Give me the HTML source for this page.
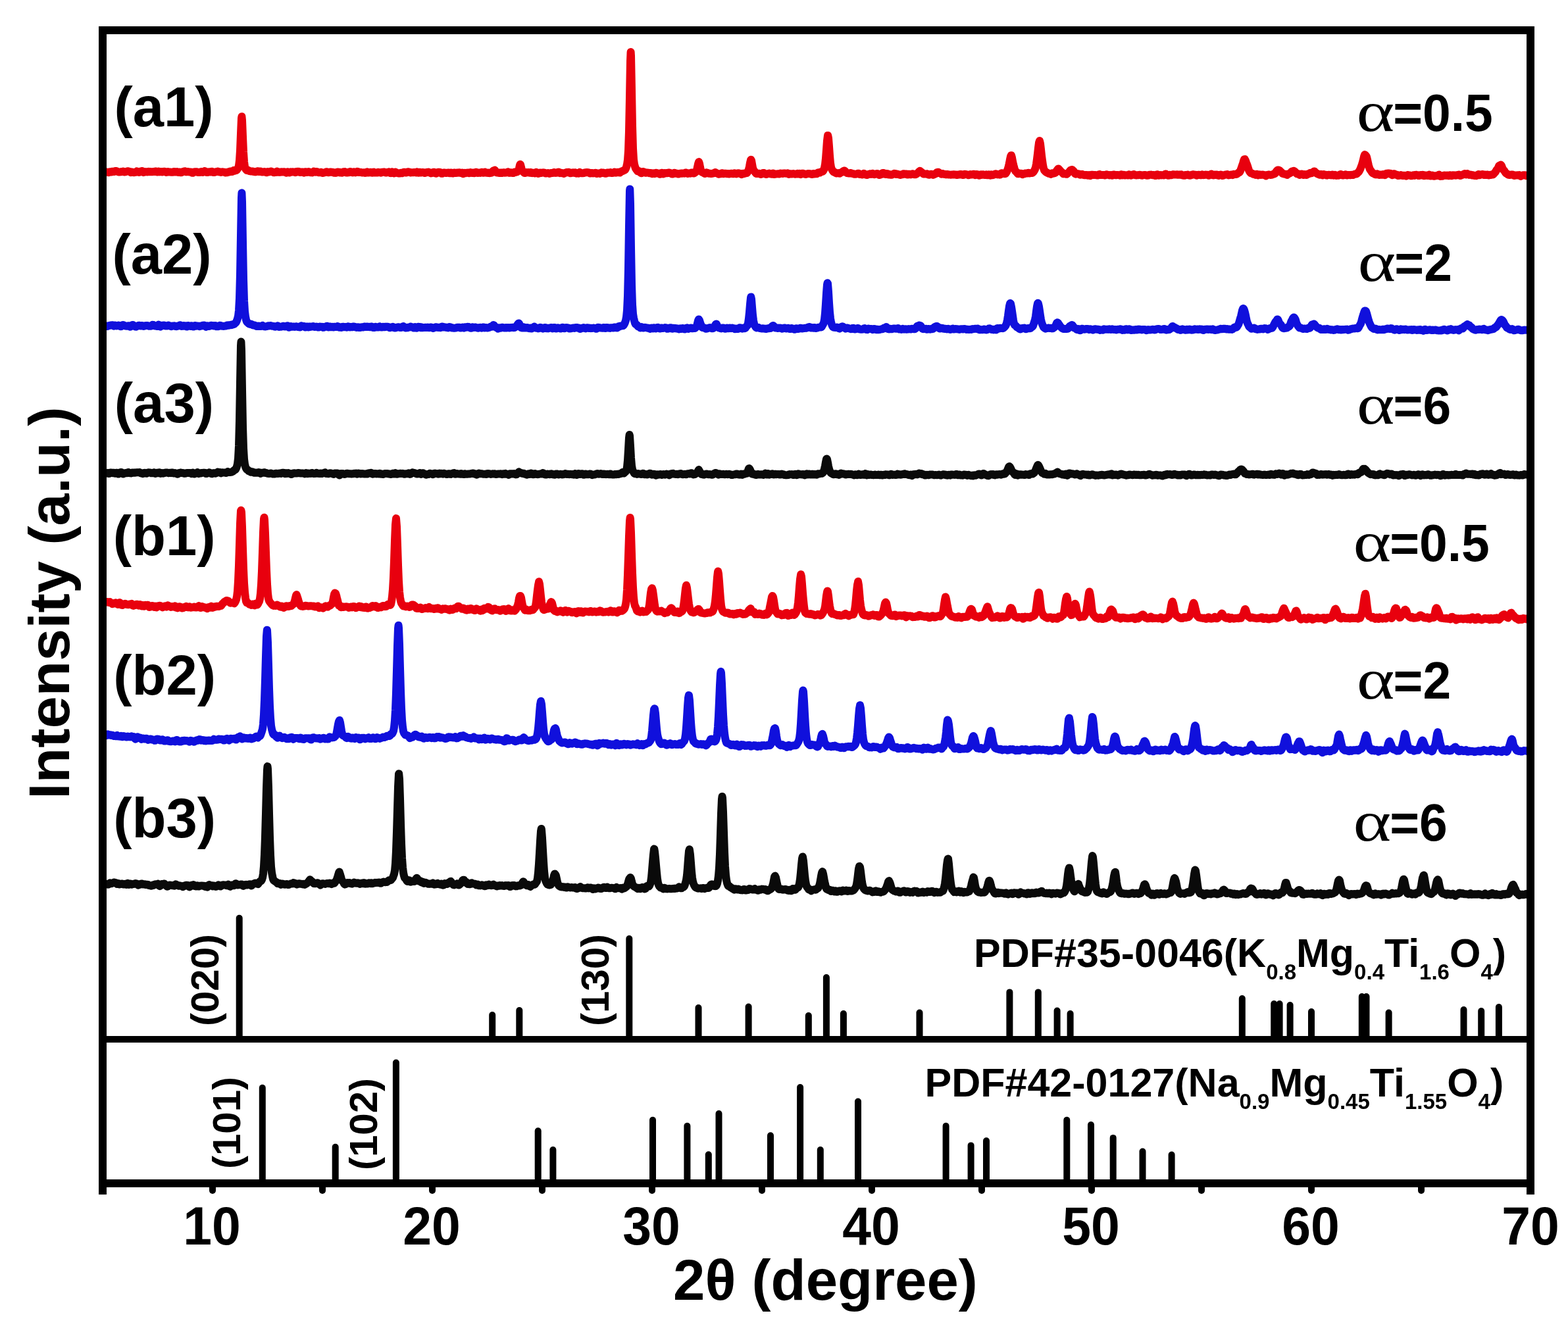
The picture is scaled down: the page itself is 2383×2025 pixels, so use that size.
<!DOCTYPE html>
<html><head><meta charset="utf-8"><title>XRD patterns</title>
<style>
html,body{margin:0;padding:0;background:#fff;}
svg{display:block;}
.t{font-family:'Liberation Sans', Arial, Helvetica, sans-serif;font-weight:bold;fill:#000;}
.g{font-family:'Liberation Serif', 'Times New Roman', serif;font-weight:normal;fill:#000;}
</style></head><body>

<svg width="2383" height="2025" viewBox="0 0 2383 2025">
<rect x="0" y="0" width="2383" height="2025" fill="#fff"/>
<polyline fill="none" stroke="#e8000e" stroke-width="12.0" stroke-linejoin="round" stroke-linecap="butt" points="156,260.5 157,261.0 158,261.5 159,261.2 160,260.9 161,261.4 162,261.7 163,261.7 164,261.8 165,262.2 166,262.1 167,261.3 168,261.3 169,261.5 170,260.9 171,260.7 172,260.8 173,261.0 174,260.8 175,260.1 176,259.9 177,260.1 178,260.5 179,261.0 180,261.5 181,261.5 182,261.6 183,261.3 184,261.1 185,261.2 186,260.8 187,260.6 188,261.1 189,261.4 190,261.4 191,261.2 192,260.8 193,260.6 194,260.3 195,260.3 196,260.7 197,260.9 198,261.4 199,262.2 200,261.7 201,261.5 202,261.9 203,262.3 204,262.1 205,261.7 206,261.8 207,261.2 208,260.4 209,260.7 210,261.6 211,262.0 212,261.7 213,260.9 214,260.5 215,260.1 216,260.0 217,261.1 218,262.1 219,261.8 220,261.3 221,261.4 222,261.2 223,261.4 224,261.5 225,261.0 226,260.8 227,261.2 228,261.1 229,261.0 230,261.3 231,261.3 232,261.1 233,261.0 234,261.1 235,260.9 236,260.4 237,260.5 238,261.3 239,261.6 240,261.1 241,260.6 242,260.8 243,261.4 244,261.3 245,260.9 246,261.3 247,261.5 248,261.0 249,260.8 250,260.8 251,261.1 252,261.7 253,262.0 254,261.5 255,261.1 256,261.4 257,261.6 258,261.6 259,261.5 260,261.8 261,261.7 262,261.6 263,261.7 264,261.2 265,261.0 266,261.4 267,261.4 268,261.2 269,261.1 270,261.3 271,262.1 272,262.1 273,261.5 274,261.8 275,262.3 276,262.1 277,261.5 278,261.0 279,260.9 280,260.5 281,260.3 282,261.0 283,261.4 284,261.3 285,261.0 286,260.9 287,261.4 288,261.5 289,261.5 290,261.5 291,261.8 292,262.7 293,262.8 294,262.2 295,261.5 296,261.2 297,261.3 298,261.2 299,261.3 300,261.8 301,262.1 302,261.9 303,261.8 304,262.0 305,261.5 306,261.0 307,261.3 308,261.9 309,261.6 310,260.7 311,260.1 312,260.5 313,261.4 314,262.1 315,262.1 316,261.5 317,261.7 318,261.5 319,261.2 320,261.6 321,261.1 322,260.8 323,261.6 324,262.0 325,262.1 326,262.0 327,261.6 328,261.2 329,261.1 330,261.0 331,260.6 332,261.0 333,261.4 334,261.2 335,261.6 336,261.9 337,261.5 338,261.3 339,261.6 340,261.6 341,261.7 342,262.4 343,262.6 344,262.3 345,262.3 346,261.7 347,261.3 348,261.5 349,260.9 350,260.4 351,260.5 352,260.8 353,261.0 354,260.0 355,259.2 356,259.8 357,259.6 358,258.8 359,259.0 360,258.2 361,256.8 362,255.2 363,251.7 364,244.1 365,228.4 366,203.3 367,179.7 367.42,177.2 368,182.9 369,207.9 370,231.1 371,245.7 372,253.4 373,256.4 374,257.8 375,258.9 376,258.8 377,258.7 378,259.4 379,260.1 380,260.2 381,260.4 382,260.6 383,260.4 384,260.5 385,261.0 386,261.0 387,261.0 388,261.4 389,261.3 390,260.7 391,260.4 392,260.2 393,260.5 394,261.1 395,261.0 396,260.6 397,260.9 398,261.6 399,261.6 400,261.4 401,261.3 402,261.1 403,261.5 404,262.0 405,262.3 406,261.8 407,261.1 408,261.2 409,261.4 410,261.2 411,260.6 412,260.5 413,261.2 414,261.4 415,261.5 416,262.3 417,262.2 418,262.0 419,262.1 420,261.2 421,260.6 422,261.2 423,261.8 424,261.7 425,261.9 426,261.8 427,261.5 428,261.3 429,261.4 430,261.6 431,261.2 432,261.2 433,261.7 434,262.1 435,262.7 436,262.4 437,261.3 438,261.4 439,262.2 440,262.5 441,261.8 442,261.3 443,261.5 444,261.4 445,261.3 446,261.5 447,261.4 448,261.6 449,262.3 450,261.9 451,261.0 452,260.8 453,261.0 454,260.8 455,261.2 456,262.0 457,261.8 458,261.5 459,261.6 460,261.6 461,262.1 462,262.6 463,262.1 464,261.3 465,261.3 466,261.8 467,262.0 468,261.6 469,261.1 470,261.3 471,261.9 472,262.2 473,262.0 474,262.1 475,262.4 476,261.7 477,260.6 478,260.8 479,261.6 480,261.7 481,261.0 482,261.1 483,261.8 484,262.2 485,262.3 486,262.3 487,261.9 488,261.8 489,262.5 490,263.0 491,263.0 492,262.6 493,262.2 494,262.2 495,261.8 496,261.2 497,261.4 498,261.9 499,262.2 500,262.2 501,261.8 502,261.4 503,261.4 504,261.7 505,261.8 506,262.0 507,262.7 508,262.7 509,262.5 510,262.9 511,262.8 512,262.0 513,261.4 514,261.6 515,261.8 516,261.7 517,262.5 518,262.6 519,262.4 520,262.7 521,262.2 522,261.3 523,261.2 524,261.1 525,261.6 526,262.6 527,262.4 528,262.1 529,262.4 530,262.3 531,261.6 532,260.9 533,261.1 534,261.9 535,262.3 536,262.4 537,261.9 538,261.2 539,261.7 540,262.4 541,262.2 542,261.6 543,260.9 544,261.3 545,261.9 546,261.6 547,262.0 548,261.9 549,262.0 550,262.5 551,262.4 552,262.4 553,262.3 554,262.4 555,262.9 556,262.8 557,261.8 558,261.4 559,262.3 560,262.6 561,262.4 562,262.0 563,261.8 564,262.1 565,262.6 566,262.7 567,261.7 568,261.6 569,262.3 570,262.5 571,262.4 572,262.5 573,262.6 574,262.1 575,261.8 576,262.2 577,262.2 578,262.1 579,262.7 580,262.3 581,261.8 582,261.7 583,261.4 584,261.5 585,262.0 586,262.5 587,262.6 588,262.1 589,262.1 590,261.9 591,261.4 592,262.0 593,263.0 594,263.2 595,262.2 596,261.4 597,261.9 598,263.1 599,263.4 600,262.3 601,261.6 602,262.2 603,262.9 604,262.9 605,263.2 606,263.5 607,263.5 608,263.3 609,262.8 610,263.0 611,263.3 612,262.7 613,262.1 614,261.8 615,261.7 616,262.1 617,262.6 618,262.4 619,261.7 620,261.2 621,261.2 622,261.6 623,262.1 624,262.4 625,262.4 626,262.3 627,262.3 628,262.2 629,261.9 630,261.9 631,262.2 632,262.4 633,262.1 634,261.4 635,261.7 636,262.8 637,262.5 638,261.7 639,262.0 640,262.5 641,262.4 642,262.0 643,261.9 644,262.4 645,262.9 646,262.9 647,262.3 648,262.1 649,262.2 650,261.7 651,261.6 652,261.9 653,262.2 654,262.9 655,263.4 656,263.3 657,262.9 658,262.2 659,261.7 660,261.9 661,262.5 662,263.6 663,263.7 664,263.1 665,262.3 666,261.7 667,261.8 668,261.9 669,262.0 670,262.9 671,263.8 672,263.7 673,262.9 674,262.5 675,262.5 676,262.5 677,263.0 678,263.0 679,262.8 680,262.7 681,262.4 682,262.6 683,263.3 684,263.3 685,262.5 686,262.5 687,263.4 688,263.5 689,262.9 690,262.5 691,262.7 692,263.0 693,263.1 694,262.8 695,262.4 696,262.7 697,262.6 698,262.3 699,262.6 700,262.9 701,262.7 702,262.6 703,263.4 704,264.2 705,263.5 706,262.9 707,263.3 708,263.1 709,262.8 710,262.7 711,262.4 712,263.0 713,263.3 714,262.4 715,262.0 716,262.5 717,262.9 718,262.6 719,262.5 720,263.0 721,263.3 722,262.9 723,261.9 724,261.7 725,262.6 726,263.0 727,262.7 728,262.4 729,262.7 730,262.9 731,262.2 732,261.8 733,262.1 734,262.8 735,262.7 736,261.8 737,261.6 738,262.3 739,262.6 740,262.8 741,262.9 742,262.5 743,263.0 744,263.2 745,262.7 746,262.9 747,262.8 748,261.4 749,260.3 750,259.4 751,259.2 751.52,259.3 752,258.6 753,260.3 754,262.2 755,262.3 756,262.5 757,262.7 758,262.6 759,262.9 760,262.9 761,262.5 762,262.7 763,263.1 764,262.8 765,262.2 766,262.3 767,262.7 768,262.6 769,262.3 770,262.4 771,261.9 772,261.4 773,262.1 774,262.9 775,262.8 776,262.2 777,262.4 778,262.9 779,263.0 780,263.1 781,262.6 782,261.6 783,261.7 784,261.8 785,261.2 786,261.2 787,260.4 788,258.5 789,255.6 790,251.1 790.60,249.7 791,250.3 792,254.1 793,258.1 794,259.9 795,260.6 796,262.1 797,263.1 798,263.0 799,262.5 800,262.1 801,262.4 802,262.3 803,262.0 804,262.6 805,262.7 806,262.1 807,262.1 808,263.0 809,263.2 810,262.8 811,262.7 812,263.1 813,263.4 814,262.8 815,261.8 816,262.3 817,263.5 818,264.0 819,263.6 820,262.8 821,262.5 822,262.9 823,262.9 824,262.5 825,262.5 826,262.6 827,262.4 828,262.9 829,263.6 830,263.5 831,263.4 832,263.3 833,263.1 834,263.5 835,264.0 836,263.6 837,263.1 838,262.9 839,263.0 840,263.1 841,262.4 842,262.1 843,262.8 844,262.9 845,262.5 846,262.7 847,262.6 848,261.7 849,261.6 850,262.6 851,263.2 852,263.0 853,262.7 854,263.2 855,263.3 856,263.6 857,263.9 858,263.3 859,262.7 860,262.4 861,262.1 862,262.2 863,262.0 864,261.7 865,262.0 866,262.8 867,263.3 868,263.3 869,262.9 870,262.5 871,262.3 872,262.7 873,262.9 874,262.4 875,263.2 876,263.7 877,263.0 878,263.3 879,263.7 880,262.9 881,261.9 882,262.5 883,263.2 884,263.1 885,263.2 886,263.2 887,263.1 888,262.7 889,262.5 890,262.2 891,262.1 892,262.3 893,262.1 894,262.2 895,262.5 896,263.2 897,263.6 898,263.2 899,262.9 900,263.1 901,263.5 902,263.4 903,263.2 904,263.2 905,262.7 906,263.2 907,264.0 908,263.7 909,263.5 910,263.4 911,263.6 912,263.9 913,263.1 914,262.2 915,262.6 916,262.9 917,262.6 918,262.8 919,263.5 920,263.8 921,263.8 922,263.1 923,262.4 924,262.4 925,262.6 926,262.8 927,262.7 928,262.1 929,262.6 930,263.1 931,262.7 932,262.7 933,262.4 934,261.6 935,262.0 936,262.7 937,262.3 938,262.1 939,261.9 940,261.7 941,262.4 942,262.5 943,261.9 944,261.1 945,260.3 946,260.2 947,259.8 948,259.0 949,258.8 950,258.1 951,256.4 952,253.8 953,249.8 954,243.1 955,229.2 956,199.6 957,149.1 958,93.0 958.60,79.0 959,85.0 960,136.6 961,191.3 962,225.9 963,242.6 964,249.5 965,253.3 966,256.1 967,257.5 968,258.8 969,260.2 970,260.5 971,260.1 972,260.6 973,261.8 974,262.9 975,263.2 976,262.0 977,261.0 978,261.2 979,261.6 980,262.2 981,262.7 982,262.8 983,262.5 984,262.4 985,262.7 986,262.9 987,263.2 988,262.9 989,262.9 990,263.7 991,264.2 992,263.9 993,263.3 994,263.7 995,264.1 996,263.4 997,262.8 998,263.1 999,263.5 1000,263.5 1001,263.6 1002,264.2 1003,264.8 1004,264.3 1005,262.9 1006,262.8 1007,264.1 1008,264.4 1009,263.3 1010,263.0 1011,263.6 1012,263.3 1013,262.9 1014,263.2 1015,263.1 1016,262.5 1017,262.5 1018,263.2 1019,263.1 1020,263.3 1021,264.4 1022,264.6 1023,264.1 1024,263.4 1025,262.7 1026,263.2 1027,263.8 1028,263.7 1029,263.8 1030,264.2 1031,264.6 1032,264.2 1033,263.8 1034,263.8 1035,263.6 1036,263.6 1037,263.7 1038,263.5 1039,263.5 1040,263.7 1041,263.2 1042,262.5 1043,262.7 1044,263.5 1045,264.0 1046,263.7 1047,263.3 1048,263.5 1049,263.7 1050,263.2 1051,262.4 1052,262.4 1053,262.9 1054,263.6 1055,263.4 1056,262.6 1057,261.9 1058,260.8 1059,258.3 1060,254.1 1061,249.2 1062,246.3 1062.14,246.1 1063,248.6 1064,254.2 1065,258.3 1066,260.7 1067,261.9 1068,262.1 1069,262.4 1070,263.3 1071,263.9 1072,263.9 1073,263.2 1074,262.4 1075,262.7 1076,263.3 1077,263.7 1078,263.6 1079,263.9 1080,264.0 1081,263.9 1082,263.9 1083,263.7 1084,263.4 1085,263.3 1086,262.5 1087,262.0 1087.86,262.4 1088,262.7 1089,263.2 1090,263.6 1091,264.0 1092,264.7 1093,264.8 1094,264.4 1095,264.3 1096,264.1 1097,263.4 1098,263.2 1099,264.1 1100,264.3 1101,263.9 1102,263.7 1103,263.8 1104,264.1 1105,264.2 1106,264.0 1107,264.2 1108,264.5 1109,264.2 1110,264.0 1111,263.8 1112,263.7 1113,264.0 1114,264.3 1115,263.7 1116,263.3 1117,263.6 1118,264.0 1119,264.4 1120,264.2 1121,263.5 1122,263.2 1123,263.5 1124,263.7 1125,263.7 1126,264.5 1127,265.1 1128,264.1 1129,263.7 1130,264.2 1131,264.1 1132,263.5 1133,263.1 1134,263.2 1135,263.1 1136,261.9 1137,260.0 1138,257.3 1139,253.0 1140,247.4 1141,243.3 1141.30,242.7 1142,243.9 1143,249.6 1144,255.0 1145,258.1 1146,259.6 1147,260.7 1148,262.4 1149,263.7 1150,264.1 1151,264.1 1152,264.1 1153,263.8 1154,263.8 1155,264.3 1156,264.9 1157,264.9 1158,264.1 1159,263.3 1160,262.9 1161,263.0 1162,263.9 1163,264.5 1164,264.9 1165,264.9 1166,264.4 1167,264.3 1168,263.9 1169,263.5 1170,264.0 1171,264.4 1172,264.6 1173,264.7 1174,263.8 1175,263.5 1176,264.5 1177,265.1 1178,264.8 1179,264.4 1180,264.4 1181,264.4 1182,264.3 1183,264.4 1184,264.6 1185,264.0 1186,263.5 1187,263.8 1188,263.7 1189,263.8 1190,264.0 1191,263.6 1192,263.4 1193,263.5 1194,263.6 1195,263.8 1196,263.7 1197,263.3 1198,263.8 1199,264.9 1200,264.7 1201,264.2 1202,264.4 1203,264.5 1204,264.3 1205,264.1 1206,264.0 1207,264.4 1208,264.8 1209,264.6 1210,264.5 1211,264.2 1212,263.8 1213,264.4 1214,264.2 1215,263.8 1216,264.7 1217,265.1 1218,264.4 1219,263.8 1220,263.7 1221,263.9 1222,264.2 1223,264.7 1224,264.9 1225,264.9 1226,264.5 1227,264.1 1228,264.0 1229,263.9 1230,264.1 1231,264.3 1232,264.2 1233,264.6 1234,265.1 1235,264.7 1236,264.1 1237,264.1 1238,264.5 1239,264.4 1240,264.2 1241,264.3 1242,263.8 1243,262.7 1244,262.2 1245,262.4 1246,262.5 1247,261.9 1248,261.2 1249,261.1 1250,260.8 1251,260.0 1252,258.3 1253,255.2 1254,249.8 1255,240.7 1256,227.8 1257,213.9 1258,206.1 1258.20,206.1 1259,209.9 1260,222.7 1261,237.0 1262,248.0 1263,254.3 1264,257.1 1265,258.9 1266,260.4 1267,261.5 1268,261.8 1269,261.9 1270,263.0 1271,263.5 1272,263.2 1273,263.2 1274,263.1 1275,263.5 1276,263.7 1277,262.9 1278,262.4 1279,262.1 1280,261.5 1281,260.7 1282,260.0 1282.92,259.8 1283,259.4 1284,259.9 1285,261.1 1286,262.2 1287,262.9 1288,263.2 1289,263.4 1290,263.5 1291,263.5 1292,263.2 1293,263.0 1294,263.5 1295,263.8 1296,263.9 1297,264.2 1298,264.7 1299,264.6 1300,264.7 1301,264.8 1302,264.4 1303,264.1 1304,263.8 1305,263.7 1306,264.5 1307,265.1 1308,264.9 1309,264.9 1310,265.4 1311,265.4 1312,264.6 1313,263.8 1314,264.2 1315,265.3 1316,265.7 1317,265.9 1318,265.9 1319,265.3 1320,265.0 1321,264.8 1322,264.3 1323,264.4 1324,264.9 1325,264.8 1326,263.8 1327,263.9 1328,265.1 1329,265.2 1330,264.6 1331,264.5 1332,264.3 1333,263.9 1334,264.3 1335,265.3 1336,265.9 1337,265.9 1338,265.7 1339,265.2 1340,264.2 1341,263.3 1342,262.9 1343,263.1 1344,263.8 1345,264.9 1346,265.0 1347,264.0 1348,264.0 1349,265.2 1350,265.4 1351,264.7 1352,265.1 1353,265.7 1354,265.7 1355,265.7 1356,265.4 1357,265.0 1358,264.3 1359,263.8 1360,264.0 1361,264.6 1362,264.9 1363,264.5 1364,264.6 1365,265.1 1366,265.2 1367,265.6 1368,266.0 1369,265.7 1370,265.2 1371,265.3 1372,265.1 1373,264.3 1374,264.3 1375,264.6 1376,264.7 1377,264.4 1378,264.6 1379,265.5 1380,265.5 1381,264.8 1382,264.7 1383,265.3 1384,265.4 1385,264.9 1386,264.4 1387,264.3 1388,264.6 1389,265.1 1390,265.3 1391,265.3 1392,265.1 1393,264.4 1394,263.7 1395,262.9 1396,261.8 1397,260.6 1398,259.9 1398.48,260.1 1399,260.7 1400,261.5 1401,262.1 1402,263.1 1403,264.1 1404,264.6 1405,264.6 1406,264.6 1407,264.6 1408,264.4 1409,264.3 1410,264.9 1411,265.6 1412,265.7 1413,265.4 1414,264.9 1415,264.8 1416,264.8 1417,265.2 1418,265.9 1419,265.5 1420,264.6 1421,264.5 1422,264.2 1423,263.1 1424,262.1 1425,261.7 1425.20,261.8 1426,261.7 1427,262.5 1428,263.3 1429,263.4 1430,263.9 1431,264.7 1432,264.6 1433,264.1 1434,264.6 1435,265.0 1436,265.0 1437,265.2 1438,265.4 1439,265.3 1440,265.0 1441,265.1 1442,265.6 1443,265.6 1444,265.6 1445,265.7 1446,265.6 1447,265.6 1448,265.5 1449,265.2 1450,265.2 1451,265.5 1452,265.5 1453,265.4 1454,266.0 1455,266.1 1456,265.4 1457,265.5 1458,265.6 1459,265.0 1460,265.0 1461,265.2 1462,265.4 1463,266.1 1464,266.1 1465,265.2 1466,264.8 1467,264.9 1468,265.1 1469,265.3 1470,265.4 1471,265.8 1472,266.3 1473,266.0 1474,265.4 1475,265.1 1476,265.2 1477,265.4 1478,265.1 1479,264.7 1480,264.7 1481,265.5 1482,266.2 1483,265.5 1484,265.0 1485,265.1 1486,265.4 1487,266.1 1488,266.8 1489,266.5 1490,265.6 1491,265.3 1492,265.9 1493,265.8 1494,265.3 1495,265.4 1496,265.8 1497,266.0 1498,265.7 1499,265.3 1500,265.7 1501,266.3 1502,265.8 1503,265.2 1504,265.6 1505,266.6 1506,266.2 1507,265.4 1508,265.7 1509,266.2 1510,265.8 1511,265.2 1512,264.7 1513,264.3 1514,264.6 1515,265.2 1516,265.4 1517,265.0 1518,265.0 1519,265.7 1520,265.5 1521,264.2 1522,263.2 1523,263.2 1524,263.9 1525,264.0 1526,264.0 1527,264.2 1528,264.1 1529,263.0 1530,261.3 1531,258.9 1532,255.9 1533,252.4 1534,247.8 1535,242.3 1536,237.7 1536.76,236.2 1537,236.2 1538,239.7 1539,245.3 1540,249.9 1541,253.9 1542,257.4 1543,259.8 1544,261.0 1545,261.7 1546,263.0 1547,264.3 1548,264.1 1549,263.5 1550,263.6 1551,263.9 1552,263.8 1553,264.1 1554,265.2 1555,264.8 1556,264.4 1557,264.3 1558,263.6 1559,263.6 1560,263.6 1561,263.6 1562,263.2 1563,262.7 1564,263.2 1565,263.5 1566,263.1 1567,263.0 1568,263.1 1569,262.9 1570,262.0 1571,260.9 1572,259.3 1573,257.3 1574,254.3 1575,249.1 1576,241.9 1577,233.8 1578,224.7 1579,216.9 1579.84,214.4 1580,214.1 1581,218.3 1582,227.2 1583,236.4 1584,244.1 1585,250.8 1586,255.9 1587,258.8 1588,260.0 1589,261.0 1590,261.9 1591,262.4 1592,262.9 1593,263.3 1594,263.8 1595,263.8 1596,264.1 1597,264.9 1598,264.3 1599,263.3 1600,263.6 1601,263.8 1602,263.4 1603,263.2 1604,262.6 1605,261.1 1606,259.4 1607,258.0 1608,256.8 1608.90,256.5 1609,257.0 1610,258.0 1611,259.1 1612,260.2 1613,261.3 1614,262.0 1615,263.1 1616,264.4 1617,264.3 1618,263.9 1619,264.2 1620,264.6 1621,264.8 1622,264.2 1623,263.0 1624,262.1 1625,261.2 1626,259.8 1627,258.8 1628,258.5 1628.94,258.3 1629,257.9 1630,258.5 1631,259.6 1632,260.6 1633,262.3 1634,264.2 1635,264.7 1636,264.2 1637,264.3 1638,264.4 1639,264.2 1640,264.6 1641,265.4 1642,265.7 1643,265.3 1644,264.9 1645,265.0 1646,265.5 1647,266.1 1648,266.2 1649,266.0 1650,266.2 1651,266.0 1652,266.2 1653,266.7 1654,266.4 1655,266.0 1656,266.5 1657,267.1 1658,266.5 1659,265.8 1660,265.7 1661,265.9 1662,266.1 1663,266.1 1664,265.9 1665,266.1 1666,266.2 1667,266.3 1668,266.5 1669,266.3 1670,265.4 1671,265.0 1672,265.7 1673,266.1 1674,265.9 1675,266.1 1676,265.9 1677,265.9 1678,266.1 1679,266.4 1680,266.4 1681,265.6 1682,265.3 1683,265.7 1684,265.9 1685,266.0 1686,266.5 1687,266.4 1688,266.0 1689,266.1 1690,266.7 1691,266.4 1692,265.4 1693,265.5 1694,265.8 1695,266.1 1696,266.3 1697,266.2 1698,266.0 1699,266.0 1700,266.1 1701,266.2 1702,266.7 1703,266.5 1704,265.3 1705,265.4 1706,266.4 1707,266.2 1708,265.8 1709,266.3 1710,266.5 1711,266.4 1712,266.2 1713,266.3 1714,266.6 1715,266.2 1716,265.4 1717,265.8 1718,266.6 1719,266.7 1720,266.2 1721,265.8 1722,265.4 1723,265.0 1724,265.6 1725,266.2 1726,266.4 1727,266.5 1728,266.2 1729,266.1 1730,266.2 1731,266.1 1732,265.8 1733,265.9 1734,266.1 1735,266.6 1736,266.7 1737,266.2 1738,266.1 1739,266.0 1740,266.0 1741,266.0 1742,266.4 1743,266.7 1744,266.7 1745,266.6 1746,266.1 1747,265.8 1748,265.7 1749,265.6 1750,265.9 1751,266.1 1752,266.2 1753,266.0 1754,266.1 1755,266.7 1756,267.1 1757,266.6 1758,265.6 1759,265.3 1760,266.0 1761,266.8 1762,266.5 1763,265.9 1764,266.2 1765,266.4 1766,266.2 1767,266.1 1768,266.1 1769,266.4 1770,266.0 1771,264.6 1772,264.6 1773,265.8 1774,266.3 1775,266.7 1776,266.8 1777,265.9 1778,265.8 1779,266.3 1780,266.2 1781,265.9 1782,265.6 1782.58,265.3 1783,265.2 1784,265.4 1785,265.5 1786,265.4 1787,265.6 1788,265.4 1789,265.3 1790,265.8 1791,265.6 1792,265.5 1793,265.8 1794,265.5 1795,265.3 1796,266.1 1797,266.5 1798,266.4 1799,266.7 1800,266.8 1801,266.2 1802,266.0 1803,266.2 1804,265.8 1805,265.6 1806,265.9 1807,266.5 1808,266.6 1809,266.8 1810,266.4 1811,265.8 1812,265.7 1813,265.3 1814,265.2 1815,265.6 1816,265.7 1817,265.8 1818,266.4 1819,266.7 1820,266.2 1821,265.8 1822,265.7 1823,265.7 1824,266.1 1825,266.3 1826,265.8 1827,265.3 1828,265.7 1829,266.2 1830,266.0 1831,265.8 1832,265.6 1833,265.8 1834,265.9 1835,265.8 1836,266.4 1837,266.7 1838,266.4 1839,265.8 1840,264.9 1841,264.6 1842,265.4 1843,266.3 1844,266.4 1845,266.1 1846,265.6 1847,265.8 1848,266.1 1849,265.5 1850,265.6 1851,266.7 1852,266.9 1853,266.6 1854,265.9 1855,265.5 1856,265.8 1857,266.4 1858,267.0 1859,266.9 1860,266.3 1861,266.0 1862,265.7 1863,265.5 1864,265.4 1865,265.0 1866,265.6 1867,266.4 1868,266.2 1869,266.1 1870,265.9 1871,265.4 1872,265.5 1873,266.2 1874,265.8 1875,264.8 1876,265.1 1877,265.1 1878,264.7 1879,264.9 1880,264.5 1881,263.5 1882,262.6 1883,262.3 1884,261.8 1885,259.8 1886,257.1 1887,254.1 1888,251.3 1889,248.4 1890,244.7 1891,242.2 1891.80,242.1 1892,242.5 1893,244.4 1894,247.3 1895,249.8 1896,252.4 1897,255.7 1898,258.9 1899,260.9 1900,262.1 1901,263.2 1902,263.4 1903,263.4 1904,264.3 1905,264.8 1906,264.8 1907,265.2 1908,265.9 1909,265.5 1910,264.9 1911,265.6 1912,266.3 1913,265.6 1914,265.2 1915,265.6 1916,266.0 1917,265.9 1918,265.6 1919,265.5 1920,265.8 1921,266.0 1922,266.0 1923,266.7 1924,267.4 1925,266.7 1926,266.0 1927,265.6 1928,265.5 1929,265.7 1930,265.9 1931,266.0 1932,265.9 1933,265.7 1934,265.3 1935,264.8 1936,264.4 1937,264.4 1938,263.6 1939,261.8 1940,260.2 1941,259.1 1942,258.4 1942.90,258.4 1943,258.6 1944,258.9 1945,259.4 1946,260.4 1947,261.4 1948,262.5 1949,263.7 1950,264.0 1951,264.2 1952,264.6 1953,264.7 1954,264.7 1955,265.4 1956,265.9 1957,264.9 1958,264.4 1959,264.2 1960,263.5 1961,263.0 1962,262.1 1963,260.9 1964,260.3 1965,260.1 1966,259.7 1966.28,259.8 1967,260.2 1968,260.9 1969,261.9 1970,263.2 1971,264.2 1972,264.3 1973,264.2 1974,265.0 1975,265.9 1976,265.6 1977,264.7 1978,264.4 1979,264.8 1980,265.3 1981,266.0 1982,265.7 1983,265.1 1984,265.5 1985,266.0 1986,265.8 1987,265.1 1988,264.3 1989,264.1 1990,264.0 1991,263.1 1992,262.8 1993,263.2 1994,262.9 1995,262.0 1996,261.4 1996.34,261.3 1997,260.5 1998,260.7 1999,262.1 2000,262.8 2001,263.3 2002,264.2 2003,264.7 2004,264.8 2005,265.3 2006,265.8 2007,265.2 2008,265.0 2009,265.8 2010,266.4 2011,265.7 2012,265.1 2013,265.6 2014,265.7 2015,265.7 2016,266.5 2017,266.7 2018,266.0 2019,265.7 2020,265.8 2021,266.0 2022,266.3 2023,266.4 2024,265.8 2025,265.5 2026,266.1 2027,266.7 2028,266.5 2029,265.9 2030,266.3 2031,266.9 2032,266.7 2033,266.6 2034,266.7 2035,266.4 2036,265.7 2037,265.2 2038,265.0 2039,265.5 2040,266.4 2041,266.6 2042,266.1 2043,266.2 2044,266.0 2045,265.3 2046,265.7 2047,266.5 2048,266.3 2049,266.0 2050,265.9 2051,266.0 2052,266.3 2053,266.0 2054,265.7 2055,266.1 2056,266.1 2057,265.7 2058,265.2 2059,264.7 2060,264.4 2061,264.6 2062,264.1 2063,263.0 2064,262.3 2065,261.3 2066,259.6 2067,257.6 2068,255.2 2069,252.6 2070,249.8 2071,246.4 2072,242.3 2073,238.0 2074,235.1 2074.83,235.4 2075,236.3 2076,236.7 2077,238.5 2078,242.4 2079,247.4 2080,251.7 2081,254.9 2082,257.5 2083,259.0 2084,260.2 2085,261.9 2086,263.2 2087,263.5 2088,263.6 2089,264.5 2090,265.3 2091,265.4 2092,264.8 2093,264.3 2094,264.8 2095,265.6 2096,266.0 2097,265.7 2098,265.4 2099,265.6 2100,265.8 2101,265.6 2102,265.1 2103,265.3 2104,266.1 2105,266.2 2106,264.9 2107,263.7 2108,263.9 2109,263.7 2110,263.5 2111,264.1 2111.90,264.1 2112,263.7 2113,263.7 2114,264.5 2115,265.7 2116,266.1 2117,265.1 2118,264.3 2119,264.2 2120,264.9 2121,265.5 2122,265.5 2123,265.8 2124,266.5 2125,267.1 2126,266.9 2127,266.8 2128,266.5 2129,266.0 2130,266.5 2131,266.9 2132,266.7 2133,266.8 2134,267.0 2135,266.8 2136,267.0 2137,267.7 2138,267.3 2139,266.2 2140,266.0 2141,266.4 2142,266.5 2143,266.7 2144,267.2 2145,267.3 2146,267.3 2147,266.9 2148,266.2 2149,266.4 2150,266.9 2151,266.2 2152,265.7 2153,265.9 2154,265.9 2155,266.5 2156,267.1 2157,267.0 2158,266.5 2159,265.9 2160,266.1 2161,266.4 2162,265.8 2163,266.1 2164,267.2 2165,266.8 2166,266.4 2167,266.9 2168,266.8 2169,266.9 2170,267.1 2171,266.2 2172,265.7 2173,266.6 2174,267.5 2175,267.3 2176,266.8 2177,266.5 2178,267.0 2179,267.8 2180,267.7 2181,267.2 2182,267.2 2183,267.2 2184,267.0 2185,266.5 2186,266.0 2187,265.6 2188,266.8 2189,268.0 2190,267.7 2191,267.5 2192,267.7 2193,267.4 2194,266.7 2195,266.4 2196,266.6 2197,266.7 2198,266.9 2199,266.8 2200,266.6 2201,267.1 2202,267.3 2203,266.4 2204,266.2 2205,266.9 2206,267.2 2207,266.9 2208,266.3 2209,266.4 2210,266.6 2211,266.5 2212,266.7 2213,266.6 2214,266.2 2215,266.1 2216,265.8 2217,265.6 2218,266.3 2219,267.0 2220,266.8 2221,266.3 2222,265.9 2223,265.7 2224,265.3 2225,264.5 2226,264.0 2227,264.6 2228,265.4 2229,265.1 2230,264.1 2230.14,264.2 2231,264.8 2232,265.3 2233,265.9 2234,265.8 2235,265.6 2236,266.0 2237,266.5 2238,266.3 2239,266.3 2240,266.8 2241,267.1 2242,266.9 2243,267.1 2244,267.2 2245,266.5 2246,265.4 2247,265.1 2248,265.9 2249,266.2 2250,265.7 2251,265.3 2252,265.3 2253,264.9 2253.52,264.9 2254,265.4 2255,265.9 2256,265.9 2257,265.6 2258,265.9 2259,266.0 2260,265.4 2261,265.6 2262,266.4 2263,266.4 2264,265.9 2265,265.8 2266,265.9 2267,265.4 2268,265.3 2269,265.5 2270,264.5 2271,263.2 2272,262.3 2273,261.1 2274,259.1 2275,257.7 2276,256.6 2277,254.6 2278,252.3 2279,251.4 2280,251.3 2280.24,250.8 2281,250.6 2282,252.0 2283,254.6 2284,257.1 2285,258.4 2286,259.3 2287,260.8 2288,262.6 2289,263.5 2290,263.9 2291,264.7 2292,265.5 2293,265.9 2294,266.0 2295,265.8 2296,265.8 2297,265.5 2298,265.4 2299,265.6 2300,265.9 2301,266.8 2302,267.0 2303,266.5 2304,266.6 2305,266.5 2306,266.3 2307,266.4 2308,266.6 2309,266.1 2310,266.6 2311,267.9 2312,267.5 2313,266.7 2314,266.6 2315,266.3 2316,266.2 2317,266.2 2318,266.3 2319,266.8 2320,267.3 2321,267.4 2322,266.6 2323,266.1 2324,266.6 2325,267.3 2326,267.5"/>
<polyline fill="none" stroke="#1010dc" stroke-width="12.0" stroke-linejoin="round" stroke-linecap="butt" points="156,494.2 157,494.0 158,495.0 159,495.4 160,495.1 161,495.5 162,496.1 163,496.0 164,495.7 165,495.3 166,495.0 167,494.9 168,494.5 169,494.4 170,494.4 171,494.2 172,495.0 173,495.7 174,495.0 175,494.5 176,495.0 177,495.5 178,495.4 179,494.8 180,494.6 181,495.1 182,495.8 183,496.2 184,496.3 185,495.4 186,494.2 187,493.9 188,494.4 189,494.9 190,495.2 191,495.6 192,495.7 193,495.6 194,495.7 195,495.2 196,495.2 197,496.3 198,496.8 199,496.1 200,494.8 201,493.9 202,493.9 203,494.6 204,495.6 205,496.2 206,496.6 207,496.7 208,496.1 209,495.5 210,495.1 211,494.8 212,494.8 213,495.3 214,495.5 215,495.0 216,495.0 217,495.6 218,496.0 219,495.7 220,495.4 221,495.1 222,495.0 223,495.1 224,495.0 225,495.1 226,495.7 227,495.8 228,495.6 229,495.7 230,495.4 231,494.6 232,493.8 233,494.0 234,494.9 235,495.3 236,495.5 237,495.7 238,495.9 239,496.1 240,495.0 241,493.6 242,494.1 243,495.9 244,496.6 245,495.7 246,494.8 247,494.8 248,495.0 249,494.5 250,494.6 251,495.3 252,495.5 253,495.6 254,495.6 255,494.9 256,494.6 257,495.1 258,495.4 259,495.8 260,496.2 261,495.9 262,495.6 263,495.5 264,495.5 265,495.3 266,495.7 267,496.1 268,496.2 269,496.1 270,495.5 271,495.5 272,495.4 273,494.4 274,494.3 275,495.3 276,496.0 277,495.9 278,495.3 279,495.1 280,495.8 281,495.8 282,495.2 283,495.8 284,496.5 285,495.8 286,495.0 287,495.1 288,495.5 289,495.9 290,495.9 291,495.3 292,495.4 293,496.2 294,496.6 295,496.1 296,495.1 297,495.1 298,495.7 299,495.6 300,495.6 301,495.6 302,495.7 303,496.2 304,495.9 305,495.4 306,495.6 307,495.4 308,494.8 309,494.7 310,494.4 311,494.7 312,496.0 313,496.9 314,496.2 315,495.3 316,495.6 317,496.0 318,495.8 319,495.7 320,495.1 321,494.8 322,494.9 323,494.9 324,495.3 325,495.6 326,495.3 327,495.0 328,495.7 329,496.3 330,495.8 331,496.0 332,496.3 333,495.3 334,494.8 335,494.9 336,495.1 337,495.6 338,495.8 339,495.9 340,495.9 341,495.7 342,495.7 343,495.5 344,495.3 345,494.6 346,494.6 347,494.8 348,494.2 349,494.3 350,494.3 351,493.8 352,493.9 353,493.9 354,493.2 355,493.2 356,492.8 357,491.7 358,490.9 359,489.8 360,487.4 361,484.5 362,480.6 363,472.2 364,453.8 365,417.1 366,358.3 367,301.4 367.42,293.3 368,306.9 369,368.3 370,424.3 371,457.3 372,473.5 373,481.3 374,486.1 375,489.0 376,490.1 377,490.9 378,491.9 379,492.5 380,492.9 381,492.9 382,492.8 383,493.3 384,494.1 385,494.5 386,494.6 387,494.6 388,494.9 389,495.4 390,496.0 391,496.1 392,495.7 393,495.6 394,495.9 395,495.9 396,496.0 397,496.1 398,495.4 399,494.9 400,495.6 401,496.1 402,496.4 403,496.5 404,496.2 405,496.2 406,496.0 407,495.5 408,495.2 409,495.5 410,495.4 411,495.0 412,495.3 413,495.6 414,495.8 415,495.9 416,496.0 417,496.5 418,496.7 419,496.4 420,496.1 421,495.9 422,495.3 423,495.8 424,496.9 425,496.9 426,496.8 427,496.8 428,496.5 429,496.2 430,495.8 431,495.8 432,496.4 433,496.5 434,496.3 435,496.1 436,495.6 437,495.3 438,496.5 439,497.7 440,497.4 441,496.4 442,496.0 443,496.4 444,496.7 445,496.7 446,496.7 447,496.5 448,496.9 449,496.7 450,496.3 451,496.4 452,496.8 453,497.0 454,496.9 455,497.4 456,497.5 457,496.0 458,495.4 459,496.0 460,496.3 461,496.1 462,496.0 463,496.7 464,497.5 465,497.2 466,496.4 467,496.5 468,497.4 469,497.5 470,496.5 471,496.4 472,497.0 473,496.6 474,496.4 475,496.6 476,496.1 477,496.3 478,496.9 479,496.9 480,496.7 481,496.6 482,497.0 483,497.5 484,497.6 485,497.0 486,496.6 487,496.9 488,497.1 489,496.7 490,497.0 491,497.9 492,497.8 493,497.2 494,497.0 495,496.9 496,496.2 497,495.7 498,496.4 499,497.4 500,497.1 501,496.4 502,496.6 503,497.3 504,497.2 505,496.8 506,497.4 507,497.5 508,496.7 509,496.7 510,497.0 511,497.0 512,496.7 513,496.1 514,496.5 515,497.7 516,497.7 517,497.2 518,497.6 519,497.9 520,497.5 521,496.7 522,496.8 523,497.2 524,497.3 525,497.0 526,497.1 527,497.6 528,497.1 529,496.2 530,496.6 531,497.4 532,497.5 533,497.0 534,496.9 535,497.3 536,497.2 537,496.5 538,496.4 539,496.9 540,497.0 541,497.6 542,498.0 543,497.6 544,497.3 545,497.6 546,498.1 547,498.1 548,497.7 549,497.5 550,497.3 551,497.2 552,497.4 553,497.1 554,496.5 555,496.6 556,497.1 557,496.8 558,496.5 559,497.0 560,497.1 561,496.8 562,497.2 563,497.3 564,496.6 565,496.4 566,497.4 567,498.1 568,497.9 569,497.9 570,497.6 571,496.8 572,497.2 573,497.6 574,497.6 575,497.5 576,496.8 577,496.3 578,497.0 579,497.5 580,497.5 581,497.3 582,496.8 583,497.1 584,497.3 585,496.7 586,496.8 587,496.9 588,496.8 589,496.8 590,496.9 591,497.6 592,498.2 593,498.2 594,497.6 595,497.2 596,497.2 597,496.8 598,497.2 599,498.4 600,498.5 601,498.3 602,498.2 603,497.8 604,497.5 605,497.2 606,497.2 607,497.8 608,498.1 609,497.8 610,497.9 611,497.4 612,496.3 613,496.1 614,497.1 615,497.9 616,498.3 617,498.5 618,498.4 619,498.3 620,497.8 621,497.4 622,497.6 623,497.1 624,496.6 625,496.9 626,497.3 627,497.8 628,498.2 629,498.6 630,498.3 631,497.2 632,497.7 633,498.7 634,497.8 635,496.9 636,496.8 637,497.0 638,497.6 639,498.1 640,497.3 641,497.4 642,498.3 643,498.3 644,497.9 645,497.9 646,497.9 647,497.7 648,498.0 649,498.0 650,497.6 651,497.7 652,498.2 653,498.1 654,497.7 655,497.5 656,497.6 657,498.5 658,499.0 659,498.7 660,498.3 661,497.8 662,497.3 663,497.3 664,497.6 665,497.9 666,498.0 667,497.7 668,497.7 669,498.2 670,497.9 671,497.1 672,496.5 673,496.8 674,497.6 675,497.6 676,497.2 677,497.6 678,498.0 679,497.8 680,498.2 681,498.4 682,497.5 683,496.9 684,497.2 685,497.5 686,497.9 687,498.5 688,498.6 689,498.6 690,498.8 691,498.7 692,498.6 693,498.5 694,498.1 695,497.8 696,497.8 697,497.7 698,497.8 699,498.3 700,498.5 701,498.3 702,498.0 703,497.6 704,497.9 705,498.6 706,498.1 707,497.3 708,497.6 709,497.7 710,497.1 711,496.8 712,497.0 713,497.6 714,498.3 715,498.7 716,498.8 717,498.3 718,497.3 719,497.6 720,498.1 721,497.8 722,497.5 723,497.7 724,498.0 725,498.4 726,498.8 727,498.7 728,498.3 729,498.0 730,497.8 731,498.2 732,498.7 733,498.3 734,497.5 735,497.4 736,498.2 737,498.5 738,498.1 739,498.0 740,498.4 741,498.6 742,498.3 743,498.0 744,497.7 745,497.1 746,496.5 747,496.8 748,496.8 749,495.3 749.85,494.4 750,494.0 751,494.8 752,496.1 753,497.2 754,497.8 755,497.8 756,498.7 757,499.7 758,499.1 759,498.4 760,498.7 761,498.7 762,498.0 763,497.7 764,497.9 765,498.1 766,498.4 767,498.6 768,498.4 769,498.1 770,498.5 771,498.4 772,497.9 773,498.2 774,498.5 775,498.3 776,497.9 777,497.9 778,497.9 779,497.8 780,498.1 781,498.2 782,498.0 783,497.3 784,496.5 785,495.7 786,494.3 787,492.8 788,491.4 788.60,491.5 789,492.0 790,494.2 791,496.8 792,498.2 793,498.4 794,498.6 795,498.1 796,497.3 797,497.8 798,498.6 799,498.5 800,498.2 801,497.9 802,498.3 803,498.9 804,499.3 805,499.1 806,498.6 807,499.3 808,499.5 809,498.7 810,498.1 811,497.3 812,496.7 813,497.4 814,498.4 815,498.7 816,498.7 817,498.9 818,499.4 819,499.3 820,498.2 821,497.8 822,498.0 823,498.1 824,498.9 825,499.6 826,499.2 827,498.6 828,498.0 829,498.2 830,499.2 831,499.0 832,498.7 833,499.4 834,499.2 835,498.6 836,498.6 837,498.2 838,498.0 839,498.7 840,499.5 841,499.1 842,498.0 843,497.9 844,498.7 845,499.6 846,499.6 847,498.6 848,498.3 849,498.7 850,498.8 851,499.2 852,499.6 853,499.1 854,498.2 855,497.7 856,498.0 857,499.1 858,499.3 859,498.5 860,498.1 861,498.3 862,498.4 863,498.2 864,498.6 865,499.5 866,499.6 867,499.4 868,499.3 869,499.0 870,498.7 871,498.4 872,498.5 873,498.9 874,498.4 875,498.1 876,497.9 877,498.0 878,498.6 879,498.5 880,498.7 881,499.9 882,499.9 883,498.9 884,498.9 885,498.9 886,498.3 887,498.1 888,498.5 889,499.0 890,499.4 891,498.9 892,498.2 893,498.3 894,498.9 895,499.0 896,498.6 897,499.0 898,499.2 899,498.8 900,499.0 901,498.9 902,498.5 903,498.6 904,499.0 905,499.3 906,499.8 907,499.7 908,498.2 909,497.7 910,498.0 911,498.2 912,498.3 913,498.5 914,498.6 915,498.7 916,498.7 917,498.1 918,498.1 919,498.9 920,499.0 921,498.1 922,497.9 923,498.6 924,498.4 925,498.2 926,498.8 927,498.9 928,498.3 929,498.3 930,498.3 931,498.3 932,498.5 933,498.2 934,497.4 935,497.5 936,498.3 937,498.4 938,498.5 939,497.5 940,496.3 941,496.6 942,496.1 943,495.4 944,495.5 945,495.3 946,495.2 947,495.2 948,494.1 949,492.3 950,490.2 951,487.2 952,481.9 953,471.8 954,450.6 955,408.4 956,343.9 957,290.6 957.27,287.4 958,310.0 959,376.8 960,432.4 961,463.3 962,477.2 963,483.3 964,487.5 965,491.2 966,493.0 967,493.4 968,494.0 969,495.4 970,496.6 971,496.6 972,497.1 973,498.4 974,498.0 975,497.2 976,497.7 977,498.3 978,498.5 979,498.2 980,497.8 981,498.0 982,498.1 983,498.3 984,498.7 985,498.9 986,498.8 987,499.2 988,499.8 989,499.1 990,498.6 991,499.0 992,499.4 993,499.1 994,498.3 995,498.6 996,499.4 997,499.4 998,498.8 999,498.0 1000,497.8 1001,498.3 1002,499.1 1003,499.6 1004,499.2 1005,498.4 1006,498.6 1007,499.0 1008,498.8 1009,498.6 1010,498.4 1011,498.1 1012,498.2 1013,499.2 1014,499.8 1015,499.7 1016,498.7 1017,498.6 1018,499.1 1019,498.3 1020,498.3 1021,499.5 1022,499.8 1023,499.1 1024,498.8 1025,499.1 1026,499.2 1027,499.0 1028,499.5 1029,499.7 1030,499.4 1031,499.7 1032,500.4 1033,499.8 1034,499.3 1035,499.9 1036,499.9 1037,498.9 1038,498.9 1039,499.9 1040,500.4 1041,500.5 1042,500.0 1043,498.7 1044,498.4 1045,499.5 1046,499.9 1047,499.6 1048,499.3 1049,498.7 1050,498.4 1051,498.8 1052,499.3 1053,499.2 1054,499.0 1055,499.1 1056,499.1 1057,498.3 1058,497.2 1059,495.4 1060,491.5 1061,487.3 1062,485.4 1062.14,485.8 1063,487.0 1064,490.2 1065,493.2 1066,495.9 1067,497.6 1068,498.1 1069,498.0 1070,498.3 1071,498.9 1072,499.3 1073,499.8 1074,499.8 1075,499.4 1076,499.0 1077,498.6 1078,498.2 1079,498.1 1080,498.3 1081,498.9 1082,499.2 1083,499.3 1084,499.0 1085,497.7 1086,496.1 1087,494.2 1088,492.8 1088.53,492.6 1089,492.7 1090,495.2 1091,497.5 1092,498.2 1093,498.5 1094,498.8 1095,499.2 1096,499.4 1097,498.8 1098,498.5 1099,498.5 1100,498.5 1101,499.4 1102,499.7 1103,499.7 1104,499.2 1105,498.6 1106,499.1 1107,499.3 1108,498.7 1109,498.4 1110,498.8 1111,499.2 1112,498.8 1113,498.6 1114,499.1 1115,499.2 1116,499.4 1117,500.2 1118,500.1 1119,499.5 1120,499.9 1121,500.0 1122,499.8 1123,499.3 1124,498.3 1125,498.2 1126,498.7 1127,499.3 1128,499.7 1129,499.2 1130,498.5 1131,498.5 1132,499.1 1133,498.5 1134,496.7 1135,495.8 1136,494.8 1137,491.2 1138,484.2 1139,474.6 1140,462.6 1141,452.7 1141.30,451.4 1142,454.8 1143,467.3 1144,479.1 1145,487.1 1146,492.1 1147,494.8 1148,496.5 1149,497.8 1150,498.4 1151,498.2 1152,497.8 1153,498.1 1154,498.7 1155,499.0 1156,499.1 1157,499.5 1158,499.5 1159,499.3 1160,499.4 1161,499.5 1162,499.6 1163,499.9 1164,500.0 1165,499.8 1166,499.5 1167,499.3 1168,499.3 1169,498.7 1170,498.7 1171,499.0 1172,498.2 1173,496.6 1174,495.4 1174.70,495.1 1175,495.0 1176,495.8 1177,497.0 1178,498.2 1179,498.6 1180,498.5 1181,498.7 1182,499.0 1183,498.7 1184,498.4 1185,498.7 1186,498.9 1187,498.8 1188,499.3 1189,499.8 1190,499.4 1191,498.9 1192,498.6 1193,498.6 1194,499.2 1195,499.5 1196,499.2 1197,498.9 1198,498.8 1199,499.3 1200,500.0 1201,500.0 1202,499.8 1203,499.0 1204,499.1 1205,500.0 1206,500.3 1207,500.7 1208,500.8 1209,500.1 1210,499.3 1211,499.3 1212,499.9 1213,500.1 1214,499.8 1215,499.3 1216,498.8 1217,498.7 1218,499.3 1219,499.6 1220,499.3 1221,499.1 1222,499.0 1223,498.8 1224,498.8 1225,498.9 1226,498.7 1227,498.2 1228,497.4 1229,497.3 1229.48,497.7 1230,497.0 1231,497.1 1232,498.4 1233,498.6 1234,498.1 1235,498.3 1236,498.7 1237,498.2 1238,498.0 1239,498.8 1240,499.1 1241,498.8 1242,498.5 1243,498.2 1244,497.7 1245,497.6 1246,497.6 1247,497.6 1248,497.4 1249,496.4 1250,494.5 1251,492.9 1252,490.7 1253,485.6 1254,476.1 1255,462.0 1256,445.6 1257,432.7 1257.53,430.2 1258,431.1 1259,443.8 1260,460.7 1261,474.7 1262,484.0 1263,489.7 1264,493.2 1265,495.6 1266,497.1 1267,497.7 1268,497.5 1269,497.6 1270,498.1 1271,497.9 1272,497.6 1273,497.8 1274,498.4 1275,499.3 1276,499.6 1277,498.8 1278,497.5 1279,496.7 1280,496.4 1280.24,496.3 1281,496.6 1282,497.3 1283,497.8 1284,498.7 1285,499.6 1286,499.2 1287,498.4 1288,498.5 1289,498.9 1290,499.3 1291,499.4 1292,499.7 1293,500.2 1294,500.1 1295,499.7 1296,499.0 1297,498.8 1298,499.8 1299,500.5 1300,500.5 1301,500.1 1302,499.8 1303,499.2 1304,499.0 1305,499.7 1306,500.3 1307,500.5 1308,500.7 1309,500.8 1310,500.7 1311,500.6 1312,500.2 1313,499.4 1314,499.0 1315,500.0 1316,500.8 1317,501.0 1318,501.2 1319,500.4 1320,499.6 1321,500.0 1322,500.0 1323,499.9 1324,500.0 1325,500.5 1326,501.2 1327,500.8 1328,500.0 1329,500.0 1330,500.3 1331,501.1 1332,501.2 1333,500.7 1334,500.9 1335,501.2 1336,501.2 1337,501.0 1338,500.6 1339,500.5 1340,500.4 1341,500.3 1342,499.6 1343,498.9 1344,499.2 1345,499.3 1346,498.2 1347,497.3 1347.04,497.1 1348,498.1 1349,499.3 1350,500.2 1351,500.4 1352,499.8 1353,499.7 1354,500.2 1355,500.3 1356,500.1 1357,499.6 1358,499.5 1359,499.4 1360,499.4 1361,499.8 1362,499.7 1363,499.7 1364,499.3 1365,499.0 1366,500.0 1367,500.6 1368,500.3 1369,500.4 1370,500.9 1371,500.5 1372,499.9 1373,500.4 1374,500.8 1375,500.4 1376,500.3 1377,500.6 1378,500.8 1379,500.5 1380,500.3 1381,500.4 1382,500.2 1383,500.3 1384,500.6 1385,500.1 1386,499.8 1387,499.9 1388,499.9 1389,500.2 1390,500.2 1391,499.9 1392,499.0 1393,497.3 1394,495.7 1395,495.4 1396,495.2 1397,494.6 1397.14,494.9 1398,495.0 1399,495.2 1400,496.4 1401,498.2 1402,499.8 1403,500.2 1404,499.8 1405,500.0 1406,500.0 1407,499.8 1408,500.6 1409,500.8 1410,500.1 1411,500.0 1412,500.1 1413,500.6 1414,500.7 1415,500.0 1416,500.1 1417,500.3 1418,499.9 1419,499.0 1420,497.5 1421,496.8 1422,497.0 1423,496.7 1423.20,496.0 1424,496.0 1425,496.8 1426,497.5 1427,498.5 1428,499.5 1429,499.3 1430,498.7 1431,498.8 1432,499.0 1433,499.2 1434,499.8 1435,499.9 1436,499.7 1437,499.7 1438,500.1 1439,500.5 1440,500.0 1441,499.8 1442,500.3 1443,500.6 1444,501.0 1445,500.9 1446,500.3 1447,500.0 1448,499.6 1449,499.9 1450,500.5 1451,500.4 1452,500.1 1453,500.1 1454,500.3 1455,500.3 1456,500.4 1457,500.7 1458,500.9 1459,500.5 1460,500.3 1461,500.3 1462,500.2 1463,500.4 1464,500.4 1465,500.0 1466,500.0 1467,500.3 1468,500.6 1469,500.9 1470,500.8 1471,500.8 1472,501.0 1473,501.1 1474,500.9 1475,500.8 1476,500.9 1477,500.6 1478,500.1 1479,500.2 1480,500.1 1481,499.9 1482,499.8 1483,499.7 1484,500.0 1485,499.9 1486,499.6 1487,500.2 1488,501.3 1489,501.4 1490,501.0 1491,501.1 1492,501.3 1493,501.3 1494,501.1 1495,500.6 1496,500.4 1497,501.0 1498,501.4 1499,501.5 1500,501.4 1501,500.8 1502,500.1 1503,499.5 1504,499.3 1505,499.8 1506,500.6 1507,500.9 1508,500.7 1509,500.9 1510,501.4 1511,501.0 1512,500.6 1513,501.2 1514,501.5 1515,500.3 1516,499.0 1517,499.1 1518,499.7 1519,499.3 1520,498.8 1521,498.9 1522,499.0 1523,499.0 1524,499.2 1525,498.8 1526,497.8 1527,496.9 1528,495.6 1529,493.9 1530,491.0 1531,486.3 1532,479.9 1533,472.4 1534,465.5 1535,461.3 1535.42,461.0 1536,461.7 1537,466.4 1538,473.0 1539,479.8 1540,486.9 1541,492.0 1542,494.0 1543,494.6 1544,495.5 1545,497.0 1546,497.6 1547,498.0 1548,498.8 1549,499.7 1550,500.4 1551,500.4 1552,499.9 1553,499.2 1554,498.8 1555,499.3 1556,499.3 1557,498.6 1558,499.2 1559,500.3 1560,500.0 1561,499.3 1562,499.1 1563,499.2 1564,499.0 1565,499.2 1566,499.1 1567,498.0 1568,497.2 1569,496.9 1570,495.3 1571,492.3 1572,489.2 1573,486.2 1574,480.8 1575,473.0 1576,465.8 1577,461.2 1577.50,460.8 1578,461.8 1579,466.1 1580,472.7 1581,479.7 1582,485.8 1583,490.3 1584,493.1 1585,495.3 1586,497.5 1587,498.4 1588,499.1 1589,499.7 1590,499.2 1591,499.0 1592,499.0 1593,498.7 1594,498.5 1595,498.9 1596,499.1 1597,498.8 1598,498.9 1599,499.4 1600,499.3 1601,498.6 1602,497.9 1603,496.9 1604,495.5 1605,493.4 1606,491.0 1607,490.3 1607.23,490.4 1608,491.0 1609,492.6 1610,493.9 1611,495.5 1612,497.0 1613,497.7 1614,498.7 1615,499.5 1616,500.0 1617,499.9 1618,500.0 1619,500.1 1620,500.1 1621,500.0 1622,499.9 1623,499.8 1624,498.7 1625,496.6 1626,495.8 1627,495.8 1628,494.6 1628.94,494.1 1629,494.4 1630,494.5 1631,496.0 1632,498.1 1633,498.8 1634,498.7 1635,499.6 1636,500.6 1637,501.1 1638,500.4 1639,500.1 1640,501.3 1641,502.3 1642,502.1 1643,501.0 1644,499.8 1645,499.7 1646,500.4 1647,500.6 1648,500.7 1649,500.6 1650,500.2 1651,500.0 1652,500.2 1653,500.1 1654,500.4 1655,501.1 1656,500.6 1657,500.3 1658,500.6 1659,500.7 1660,501.3 1661,501.7 1662,501.3 1663,500.5 1664,500.2 1665,500.3 1666,500.5 1667,500.8 1668,500.9 1669,500.8 1670,500.9 1671,501.6 1672,501.9 1673,501.7 1674,501.5 1675,501.6 1676,501.7 1677,500.8 1678,500.2 1679,500.6 1680,500.8 1681,500.7 1682,500.7 1683,500.8 1684,500.9 1685,500.5 1686,500.3 1687,500.8 1688,501.1 1689,500.7 1690,500.3 1691,500.6 1692,500.8 1693,501.0 1694,500.9 1695,501.1 1696,501.5 1697,501.3 1698,501.0 1699,500.7 1700,500.7 1701,500.8 1702,500.4 1703,500.2 1704,500.6 1705,501.6 1706,501.9 1707,501.2 1708,501.1 1709,501.7 1710,501.4 1711,500.2 1712,500.3 1713,501.2 1714,501.4 1715,500.9 1716,500.3 1717,500.4 1718,501.3 1719,502.1 1720,501.9 1721,501.4 1722,501.5 1723,501.8 1724,501.7 1725,501.1 1726,501.0 1727,501.6 1728,501.6 1729,500.7 1730,500.6 1731,501.1 1732,500.9 1733,500.7 1734,501.1 1735,501.5 1736,501.2 1737,501.0 1738,501.1 1739,501.0 1740,501.0 1741,501.6 1742,502.2 1743,502.1 1744,501.5 1745,501.1 1746,501.2 1747,501.5 1748,501.5 1749,501.2 1750,501.2 1751,501.1 1752,500.8 1753,501.0 1754,501.4 1755,501.6 1756,501.3 1757,500.6 1758,500.2 1759,500.1 1760,500.0 1761,500.0 1762,500.3 1763,500.7 1764,501.1 1765,500.9 1766,500.9 1767,500.8 1768,500.3 1769,500.0 1770,500.0 1771,500.5 1772,501.5 1773,501.7 1774,501.0 1775,500.9 1776,501.2 1777,501.0 1778,500.3 1779,499.7 1780,498.6 1781,496.9 1782,495.9 1782.58,496.4 1783,497.0 1784,497.1 1785,497.7 1786,498.6 1787,499.0 1788,499.2 1789,500.0 1790,500.9 1791,501.1 1792,500.8 1793,501.0 1794,501.9 1795,501.8 1796,500.7 1797,500.3 1798,500.8 1799,501.2 1800,501.1 1801,501.3 1802,501.8 1803,501.5 1804,500.8 1805,500.9 1806,501.4 1807,501.3 1808,500.6 1809,500.7 1810,501.5 1811,501.7 1812,501.6 1813,501.6 1814,501.3 1815,500.4 1816,500.3 1817,500.7 1818,500.7 1819,500.6 1820,500.9 1821,501.1 1822,500.6 1823,500.2 1824,500.8 1825,500.9 1826,500.4 1827,500.7 1828,501.7 1829,502.0 1830,501.2 1831,500.7 1832,500.8 1833,500.8 1834,500.4 1835,500.4 1836,500.9 1837,500.9 1838,500.7 1839,500.6 1840,500.8 1841,501.2 1842,500.8 1843,500.4 1844,501.0 1845,501.6 1846,502.0 1847,502.0 1848,501.7 1849,501.6 1850,501.5 1851,501.2 1852,500.9 1853,500.7 1854,500.3 1855,499.8 1856,499.9 1857,500.2 1858,500.1 1859,499.8 1860,499.9 1861,499.8 1862,499.8 1863,500.4 1864,500.5 1865,500.1 1866,500.4 1867,500.8 1868,500.7 1869,500.5 1870,500.6 1871,500.8 1872,500.9 1873,500.6 1874,499.9 1875,498.7 1876,497.6 1877,497.4 1878,497.9 1879,497.8 1880,496.7 1881,495.0 1882,493.4 1883,490.9 1884,487.5 1885,484.0 1886,480.6 1887,476.3 1888,471.7 1889,469.3 1889.46,469.0 1890,469.1 1891,471.4 1892,474.9 1893,479.1 1894,484.3 1895,488.9 1896,491.6 1897,493.5 1898,495.9 1899,497.3 1900,497.7 1901,498.9 1902,499.8 1903,499.5 1904,499.2 1905,498.9 1906,498.6 1907,499.1 1908,500.2 1909,500.4 1910,500.6 1911,501.0 1912,500.6 1913,500.5 1914,500.6 1915,500.0 1916,499.7 1917,499.7 1918,499.8 1919,500.3 1920,500.4 1921,499.7 1922,499.1 1923,499.2 1924,499.4 1925,499.7 1926,500.4 1927,501.0 1928,500.5 1929,499.4 1930,499.1 1931,498.9 1932,499.0 1933,498.9 1934,497.8 1935,496.0 1936,493.9 1937,491.8 1938,490.0 1939,488.6 1940,487.3 1941,486.0 1941.23,485.4 1942,485.8 1943,487.8 1944,490.4 1945,492.2 1946,492.8 1947,494.1 1948,496.4 1949,498.0 1950,498.9 1951,499.3 1952,499.0 1953,498.8 1954,498.6 1955,498.8 1956,498.4 1957,497.4 1958,496.7 1959,496.5 1960,495.4 1961,492.9 1962,489.8 1963,487.6 1964,485.8 1965,483.8 1966,482.6 1966.28,482.5 1967,483.0 1968,484.3 1969,486.4 1970,489.9 1971,492.8 1972,494.5 1973,495.9 1974,497.3 1975,498.4 1976,498.3 1977,498.4 1978,499.1 1979,499.3 1980,499.8 1981,500.0 1982,499.5 1983,499.5 1984,499.6 1985,499.8 1986,500.0 1987,499.4 1988,498.6 1989,498.5 1990,498.9 1991,498.5 1992,496.8 1993,494.8 1994,493.5 1995,493.2 1996,493.7 1996.34,493.4 1997,492.5 1998,493.5 1999,495.1 2000,495.9 2001,496.9 2002,497.9 2003,498.6 2004,498.8 2005,498.7 2006,499.4 2007,500.6 2008,501.1 2009,500.9 2010,501.0 2011,500.8 2012,500.2 2013,500.3 2014,501.1 2015,501.1 2016,500.3 2017,499.8 2018,500.2 2019,500.7 2020,501.0 2021,500.9 2022,501.1 2023,501.6 2024,501.4 2025,501.2 2026,501.6 2027,501.9 2028,501.8 2029,501.2 2030,500.9 2031,500.7 2032,500.3 2033,500.4 2034,501.1 2035,501.3 2036,501.0 2037,501.2 2038,501.6 2039,501.2 2040,501.0 2041,501.2 2042,501.1 2043,501.0 2044,500.9 2045,500.8 2046,500.7 2047,500.6 2048,501.2 2049,501.8 2050,501.5 2051,501.2 2052,500.8 2053,500.1 2054,500.0 2055,499.8 2056,499.5 2057,499.6 2058,499.6 2059,499.4 2060,499.1 2061,498.8 2062,499.0 2063,499.3 2064,499.0 2065,497.6 2066,495.5 2067,493.8 2068,492.0 2069,489.1 2070,485.0 2071,481.4 2072,478.5 2073,475.2 2074,472.6 2074.83,472.4 2075,472.4 2076,473.2 2077,476.1 2078,479.9 2079,483.6 2080,487.2 2081,490.3 2082,492.5 2083,494.6 2084,496.6 2085,498.0 2086,498.7 2087,499.4 2088,500.1 2089,500.1 2090,499.6 2091,499.7 2092,500.5 2093,501.4 2094,501.5 2095,501.1 2096,501.0 2097,501.1 2098,501.3 2099,501.2 2100,501.2 2101,500.9 2102,500.7 2103,501.2 2104,501.2 2105,500.5 2106,500.2 2107,500.2 2108,499.6 2109,499.4 2110,499.8 2111,499.7 2111.90,499.7 2112,500.1 2113,500.0 2114,499.1 2115,499.2 2116,500.2 2117,500.6 2118,500.9 2119,501.6 2120,501.7 2121,501.0 2122,500.3 2123,500.3 2124,501.0 2125,501.4 2126,501.8 2127,502.0 2128,501.0 2129,500.3 2130,500.8 2131,501.2 2132,500.7 2133,500.7 2134,501.2 2135,500.9 2136,500.6 2137,500.9 2138,501.3 2139,501.5 2140,501.5 2141,501.4 2142,501.3 2143,501.4 2144,501.1 2145,501.0 2146,502.0 2147,501.9 2148,500.9 2149,500.9 2150,501.3 2151,501.4 2152,501.5 2153,501.9 2154,501.6 2155,501.2 2156,501.7 2157,501.7 2158,501.0 2159,501.2 2160,502.0 2161,502.1 2162,502.2 2163,502.9 2164,502.5 2165,501.1 2166,500.8 2167,501.7 2168,502.1 2169,501.9 2170,501.7 2171,501.6 2172,501.6 2173,501.3 2174,501.6 2175,502.0 2176,501.7 2177,501.6 2178,501.9 2179,501.9 2180,501.8 2181,501.7 2182,501.5 2183,502.0 2184,502.3 2185,502.4 2186,502.5 2187,502.4 2188,502.5 2189,502.3 2190,502.1 2191,502.5 2192,502.1 2193,501.2 2194,500.9 2195,500.8 2196,501.2 2197,501.7 2198,501.9 2199,502.4 2200,502.6 2201,501.6 2202,500.9 2203,501.5 2204,501.0 2205,500.2 2206,501.0 2207,501.4 2208,501.6 2209,502.0 2210,501.5 2211,501.2 2212,501.4 2213,501.3 2214,501.3 2215,501.1 2216,501.7 2217,502.3 2218,501.6 2219,500.2 2220,499.4 2221,499.1 2222,499.1 2223,499.5 2224,498.6 2225,496.6 2226,496.0 2227,495.9 2228,495.0 2229,493.8 2230,493.3 2230.14,493.2 2231,493.7 2232,494.3 2233,494.6 2234,496.0 2235,497.2 2236,497.3 2237,498.3 2238,499.9 2239,500.4 2240,500.8 2241,501.3 2242,501.7 2243,501.7 2244,501.1 2245,501.0 2246,501.1 2247,500.8 2248,500.6 2249,500.9 2250,500.8 2251,500.7 2252,501.2 2253,501.3 2254,500.2 2255,499.8 2256,500.5 2257,501.2 2258,501.5 2259,501.4 2260,501.7 2261,502.2 2262,501.9 2263,501.4 2264,501.3 2265,501.1 2266,500.8 2267,500.6 2268,500.2 2269,500.2 2270,499.9 2271,498.8 2272,498.0 2273,497.8 2274,497.0 2275,495.6 2276,494.4 2277,493.2 2278,491.7 2279,489.9 2280,487.9 2281,486.5 2281.91,485.9 2282,485.9 2283,486.8 2284,487.8 2285,489.3 2286,491.6 2287,493.9 2288,494.9 2289,496.2 2290,498.0 2291,498.6 2292,499.0 2293,499.8 2294,500.3 2295,500.9 2296,501.1 2297,500.5 2298,500.1 2299,500.6 2300,501.7 2301,502.3 2302,502.1 2303,501.7 2304,501.4 2305,501.4 2306,501.2 2307,500.7 2308,500.9 2309,501.3 2310,501.8 2311,502.2 2312,502.2 2313,502.2 2314,502.3 2315,502.0 2316,501.7 2317,501.6 2318,501.7 2319,501.7 2320,501.7 2321,501.7 2322,502.0 2323,501.7 2324,501.5 2325,502.4 2326,502.7"/>
<polyline fill="none" stroke="#0a0a0a" stroke-width="12.0" stroke-linejoin="round" stroke-linecap="butt" points="156,719.8 157,720.3 158,719.7 159,718.6 160,718.7 161,719.2 162,719.4 163,719.1 164,718.9 165,720.0 166,720.0 167,718.7 168,718.4 169,718.6 170,718.9 171,719.3 172,718.8 173,718.7 174,719.5 175,719.8 176,719.3 177,718.8 178,718.7 179,719.8 180,720.5 181,719.9 182,718.8 183,718.1 184,718.0 185,718.3 186,719.4 187,720.5 188,720.2 189,719.7 190,719.3 191,719.0 192,719.2 193,719.3 194,718.6 195,718.0 196,718.8 197,719.2 198,719.0 199,719.4 200,719.1 201,718.5 202,718.9 203,718.8 204,718.5 205,718.7 206,718.6 207,718.4 208,718.3 209,718.2 210,718.2 211,718.3 212,718.1 213,718.4 214,719.3 215,719.5 216,719.7 217,720.2 218,719.8 219,719.0 220,718.8 221,719.4 222,719.8 223,719.7 224,719.2 225,718.5 226,718.2 227,718.6 228,718.4 229,718.7 230,719.3 231,719.3 232,719.2 233,718.9 234,718.4 235,719.0 236,720.0 237,719.6 238,718.9 239,719.3 240,719.3 241,718.5 242,718.3 243,719.1 244,719.9 245,719.5 246,718.9 247,719.2 248,719.7 249,719.3 250,719.0 251,718.8 252,718.4 253,718.6 254,718.6 255,718.9 256,719.3 257,719.0 258,718.7 259,719.0 260,719.2 261,718.5 262,718.5 263,719.3 264,719.6 265,719.3 266,719.1 267,719.3 268,719.7 269,720.4 270,720.7 271,720.2 272,719.1 273,718.7 274,718.7 275,718.5 276,718.9 277,719.3 278,718.9 279,719.2 280,719.9 281,719.8 282,719.6 283,719.2 284,718.9 285,719.0 286,719.1 287,719.0 288,719.0 289,719.0 290,719.5 291,720.1 292,719.6 293,718.7 294,719.3 295,720.5 296,720.3 297,719.2 298,719.2 299,718.8 300,718.2 301,719.3 302,720.1 303,719.3 304,719.2 305,719.5 306,719.2 307,719.0 308,718.9 309,718.8 310,718.8 311,718.8 312,719.1 313,720.0 314,720.0 315,719.3 316,719.2 317,719.0 318,718.4 319,718.8 320,719.4 321,720.0 322,720.3 323,719.7 324,719.2 325,719.1 326,719.2 327,719.7 328,719.7 329,719.0 330,718.3 331,717.6 332,717.8 333,718.2 334,718.1 335,718.9 336,719.4 337,718.6 338,718.3 339,718.5 340,718.5 341,718.4 342,718.5 343,718.9 344,718.9 345,718.0 346,717.1 347,717.4 348,718.1 349,718.1 350,717.7 351,717.8 352,717.6 353,717.0 354,716.6 355,715.7 356,714.7 357,714.3 358,713.8 359,711.8 360,709.1 361,705.1 362,696.8 363,678.0 364,640.0 365,580.9 366,525.5 366.42,519.6 367,533.2 368,592.8 369,648.5 370,681.6 371,698.0 372,705.8 373,709.6 374,712.2 375,713.5 376,713.9 377,715.0 378,716.1 379,716.1 380,716.5 381,717.7 382,717.8 383,717.3 384,717.4 385,718.1 386,718.7 387,718.5 388,718.7 389,718.8 390,718.6 391,718.7 392,718.6 393,718.1 394,718.2 395,719.3 396,719.9 397,719.4 398,718.8 399,718.8 400,718.6 401,718.2 402,718.3 403,718.9 404,719.1 405,719.1 406,719.6 407,719.8 408,720.1 409,720.1 410,719.7 411,719.6 412,719.6 413,719.8 414,720.2 415,720.6 416,720.5 417,720.6 418,720.2 419,719.7 420,719.8 421,720.1 422,720.0 423,719.8 424,719.8 425,719.5 426,719.5 427,719.9 428,719.6 429,718.9 430,718.7 431,718.9 432,719.6 433,720.2 434,719.3 435,719.2 436,719.9 437,719.2 438,719.1 439,719.7 440,719.8 441,720.1 442,720.9 443,721.1 444,720.4 445,719.8 446,719.5 447,719.3 448,719.4 449,719.6 450,719.6 451,719.6 452,719.3 453,719.0 454,719.2 455,719.3 456,719.3 457,719.5 458,719.5 459,719.4 460,719.6 461,719.6 462,719.7 463,720.4 464,720.0 465,719.1 466,719.7 467,720.1 468,719.5 469,719.6 470,719.9 471,719.8 472,719.9 473,719.3 474,719.0 475,719.2 476,719.6 477,720.1 478,720.1 479,719.9 480,719.5 481,718.9 482,719.3 483,719.8 484,719.8 485,720.1 486,719.7 487,719.4 488,720.0 489,720.1 490,719.5 491,719.2 492,719.1 493,718.8 494,718.4 495,719.2 496,720.1 497,719.9 498,720.0 499,720.3 500,720.0 501,719.5 502,719.3 503,719.5 504,719.8 505,719.9 506,720.5 507,720.9 508,720.2 509,719.4 510,719.6 511,719.8 512,719.5 513,719.4 514,720.3 515,722.0 516,722.4 517,721.2 518,719.9 519,720.0 520,720.4 521,720.1 522,720.4 523,720.9 524,721.0 525,720.6 526,720.1 527,719.8 528,719.8 529,719.9 530,720.1 531,720.3 532,720.2 533,720.2 534,720.5 535,720.3 536,720.3 537,720.2 538,719.8 539,719.9 540,719.9 541,719.5 542,719.8 543,720.7 544,720.2 545,719.6 546,719.8 547,720.1 548,720.5 549,720.4 550,720.0 551,720.2 552,720.3 553,720.3 554,720.5 555,720.6 556,720.2 557,720.2 558,720.6 559,720.1 560,719.4 561,719.3 562,719.6 563,719.5 564,718.9 565,719.4 566,720.7 567,720.7 568,720.0 569,720.0 570,720.2 571,720.0 572,720.1 573,720.4 574,720.3 575,720.4 576,720.4 577,719.8 578,720.1 579,720.8 580,720.5 581,720.8 582,721.1 583,720.5 584,720.1 585,720.0 586,719.9 587,720.1 588,720.1 589,719.9 590,720.2 591,720.6 592,720.4 593,720.6 594,721.1 595,720.8 596,720.4 597,719.8 598,719.7 599,720.5 600,720.2 601,719.3 602,720.1 603,720.8 604,720.6 605,720.4 606,720.1 607,720.0 608,719.8 609,719.8 610,720.1 611,720.0 612,719.8 613,720.2 614,720.7 615,720.7 616,720.4 617,720.2 618,720.2 619,720.2 620,719.8 621,719.4 622,720.0 623,720.9 624,720.8 625,719.7 626,718.8 626.94,718.2 627,718.2 628,719.1 629,719.1 630,719.0 631,719.5 632,719.8 633,720.3 634,720.5 635,720.3 636,720.1 637,719.7 638,719.1 639,719.8 640,720.9 641,720.3 642,719.2 643,719.2 644,719.9 645,720.5 646,720.9 647,721.4 648,721.7 649,721.2 650,721.0 651,721.0 652,720.4 653,719.8 654,719.8 655,720.2 656,720.2 657,720.9 658,721.2 659,720.2 660,719.7 661,719.6 662,719.8 663,720.1 664,719.9 665,720.2 666,720.7 667,720.5 668,719.6 669,719.7 670,720.2 671,719.8 672,720.3 673,720.6 674,719.7 675,719.8 676,720.3 677,720.2 678,720.7 679,721.1 680,720.7 681,720.4 682,720.2 683,720.3 684,720.8 685,720.9 686,720.6 687,720.2 688,719.6 689,719.2 690,719.1 691,719.9 692,720.7 693,720.6 694,720.2 695,720.0 696,720.4 697,720.5 698,720.4 699,720.8 700,720.6 701,720.0 702,720.6 703,720.8 704,720.8 705,721.0 706,720.4 707,720.2 708,720.6 709,720.7 710,720.7 711,720.7 712,720.5 713,720.6 714,720.6 715,720.3 716,720.0 717,719.9 718,719.5 719,719.5 720,720.3 721,720.6 722,720.3 723,721.0 724,721.7 725,721.4 726,720.9 727,720.2 728,719.5 729,719.9 730,720.2 731,720.1 732,720.2 733,720.4 734,720.8 735,720.8 736,720.8 737,720.8 738,720.9 739,721.0 740,720.2 741,719.9 742,720.4 743,720.3 744,720.2 745,720.7 746,720.9 747,720.7 748,720.4 749,720.3 750,720.5 751,720.3 752,720.3 753,720.8 754,721.0 755,720.8 756,720.6 757,720.5 758,720.4 759,720.4 760,720.4 761,720.3 762,720.7 763,721.1 764,720.5 765,720.2 766,720.8 767,720.2 768,719.9 769,720.8 770,720.9 771,720.8 772,721.3 773,721.9 774,721.4 775,720.3 776,720.2 777,720.2 778,720.3 779,720.5 780,720.2 781,720.1 782,720.7 783,721.2 784,721.4 785,721.3 786,720.1 787,719.0 788,718.1 788.60,717.5 789,717.8 790,718.4 791,718.8 792,719.1 793,719.6 794,720.0 795,719.6 796,719.7 797,720.3 798,720.8 799,721.1 800,721.4 801,721.7 802,721.2 803,720.3 804,720.7 805,721.0 806,720.2 807,719.5 808,719.6 809,720.4 810,721.3 811,721.3 812,720.5 813,720.1 814,720.4 815,720.8 816,721.0 817,721.2 818,721.1 819,720.7 820,720.6 821,720.6 822,720.6 823,720.5 824,719.7 825,719.1 826,719.3 827,720.4 828,721.2 829,721.5 830,721.6 831,721.0 832,720.5 833,720.8 834,721.0 835,721.2 836,721.2 837,720.5 838,720.3 839,720.9 840,721.2 841,721.1 842,721.6 843,721.7 844,720.9 845,720.5 846,720.4 847,720.5 848,721.3 849,721.6 850,721.3 851,720.9 852,720.8 853,721.2 854,721.4 855,721.1 856,721.2 857,721.2 858,720.5 859,720.1 860,720.4 861,720.8 862,721.0 863,720.7 864,720.7 865,721.2 866,721.1 867,720.8 868,721.0 869,721.2 870,721.0 871,721.2 872,721.6 873,720.8 874,720.1 875,721.1 876,721.9 877,721.9 878,721.1 879,720.0 880,720.1 881,720.8 882,721.0 883,720.7 884,720.2 885,720.2 886,720.8 887,721.7 888,721.7 889,720.7 890,720.4 891,720.7 892,721.2 893,721.3 894,721.2 895,720.9 896,720.5 897,720.4 898,720.8 899,721.7 900,722.2 901,721.7 902,721.4 903,721.6 904,721.4 905,721.0 906,720.7 907,720.2 908,719.9 909,720.2 910,720.7 911,720.6 912,720.3 913,720.1 914,720.3 915,720.9 916,720.7 917,720.4 918,721.0 919,720.8 920,720.8 921,721.2 922,721.0 923,720.8 924,720.9 925,721.3 926,721.2 927,720.6 928,720.6 929,721.3 930,721.4 931,721.4 932,721.4 933,721.5 934,721.2 935,721.0 936,721.3 937,721.1 938,720.8 939,721.1 940,721.0 941,720.5 942,720.3 943,720.2 944,719.8 945,718.9 946,718.2 947,718.9 948,719.5 949,718.8 950,717.7 951,716.9 952,715.0 953,710.0 954,699.9 955,683.7 956,665.7 956.60,661.0 957,662.5 958,678.4 959,696.2 960,708.0 961,713.6 962,716.2 963,717.9 964,719.6 965,720.3 966,719.8 967,720.2 968,720.9 969,720.5 970,720.1 971,720.3 972,720.6 973,720.6 974,720.9 975,721.1 976,720.4 977,719.8 978,720.1 979,720.8 980,721.3 981,721.1 982,721.0 983,721.4 984,721.4 985,720.9 986,720.4 987,719.9 988,719.7 989,720.2 990,721.1 991,721.8 992,721.4 993,720.8 994,720.8 995,721.1 996,722.3 997,722.7 998,721.7 999,721.2 1000,721.7 1001,721.7 1002,721.5 1003,721.2 1004,721.0 1005,721.6 1006,721.9 1007,721.4 1008,721.0 1009,721.1 1010,721.6 1011,721.7 1012,721.0 1013,720.6 1014,721.0 1015,721.2 1016,721.6 1017,722.4 1018,721.8 1019,720.4 1020,720.3 1021,720.6 1022,720.0 1023,719.8 1024,720.4 1025,720.8 1026,720.9 1027,721.0 1028,720.8 1029,720.8 1030,721.2 1031,721.1 1032,720.5 1033,720.4 1034,720.0 1035,720.0 1036,720.9 1037,721.3 1038,721.2 1039,721.1 1040,720.9 1041,720.8 1042,721.2 1043,721.2 1044,720.4 1045,720.3 1046,720.3 1047,720.1 1048,720.5 1049,720.2 1050,719.2 1051,719.3 1052,720.4 1053,721.1 1054,721.4 1055,721.2 1056,721.1 1057,720.4 1058,719.6 1059,719.2 1060,718.0 1061,715.7 1062,714.1 1062.14,714.8 1063,716.0 1064,717.9 1065,719.8 1066,720.9 1067,720.9 1068,720.9 1069,721.5 1070,721.7 1071,721.3 1072,720.9 1073,720.6 1074,720.5 1075,720.8 1076,721.2 1077,721.2 1078,721.1 1079,721.1 1080,721.3 1081,721.6 1082,721.8 1083,721.6 1084,721.0 1085,720.2 1086,719.6 1087,719.1 1087.86,718.9 1088,719.0 1089,719.8 1090,720.5 1091,721.0 1092,721.6 1093,721.1 1094,720.4 1095,720.7 1096,721.1 1097,721.1 1098,721.0 1099,720.8 1100,720.9 1101,721.2 1102,721.2 1103,720.9 1104,720.8 1105,721.1 1106,721.2 1107,721.1 1108,720.8 1109,720.9 1110,721.3 1111,721.7 1112,722.1 1113,722.0 1114,721.7 1115,721.4 1116,721.4 1117,721.3 1118,720.8 1119,720.5 1120,720.4 1121,720.8 1122,721.3 1123,721.5 1124,721.7 1125,721.1 1126,720.7 1127,721.8 1128,721.9 1129,721.0 1130,720.5 1131,720.7 1132,720.7 1133,720.0 1134,719.7 1135,719.8 1136,718.4 1137,715.1 1138,712.3 1138.63,712.1 1139,712.6 1140,714.2 1141,716.7 1142,719.0 1143,720.4 1144,720.7 1145,720.5 1146,720.8 1147,721.3 1148,721.8 1149,722.1 1150,721.7 1151,721.1 1152,720.9 1153,721.1 1154,721.6 1155,721.5 1156,721.3 1157,721.3 1158,721.3 1159,721.7 1160,721.9 1161,721.6 1162,720.7 1163,719.8 1164,720.5 1165,721.6 1166,720.8 1167,720.0 1168,721.1 1169,721.7 1170,721.0 1171,720.8 1172,720.9 1173,720.6 1174,720.3 1175,720.7 1176,721.5 1177,721.4 1178,720.7 1179,720.7 1180,721.2 1181,721.1 1182,721.0 1183,721.0 1184,721.1 1185,721.6 1186,721.5 1187,720.7 1188,720.6 1189,721.0 1190,721.0 1191,721.4 1192,722.0 1193,722.1 1194,722.2 1195,722.3 1196,722.2 1197,722.1 1198,722.0 1199,721.3 1200,721.1 1201,721.3 1202,721.2 1203,721.1 1204,721.4 1205,721.9 1206,722.1 1207,721.9 1208,721.0 1209,720.8 1210,721.9 1211,722.2 1212,721.2 1213,720.3 1214,720.6 1215,721.2 1216,721.1 1217,721.3 1218,721.4 1219,721.1 1220,721.0 1221,721.2 1222,721.9 1223,722.4 1224,721.9 1225,720.7 1226,720.3 1227,720.9 1228,721.5 1229,721.2 1230,720.5 1231,721.0 1232,721.6 1233,721.4 1234,720.7 1235,720.7 1236,721.5 1237,721.6 1238,721.0 1239,721.0 1240,721.6 1241,721.7 1242,720.8 1243,720.3 1244,720.6 1245,720.4 1246,720.2 1247,719.9 1248,719.8 1249,719.8 1250,719.2 1251,718.2 1252,716.1 1253,712.7 1254,708.3 1255,702.5 1256,697.8 1256.53,697.5 1257,698.3 1258,703.1 1259,708.8 1260,712.9 1261,715.9 1262,718.2 1263,719.3 1264,719.5 1265,720.1 1266,721.0 1267,721.3 1268,721.0 1269,720.6 1270,720.3 1271,720.5 1272,721.3 1273,721.4 1274,721.4 1275,721.9 1276,721.4 1277,720.0 1278,719.6 1279,720.2 1280,720.6 1281,720.4 1281.58,720.2 1282,720.5 1283,720.7 1284,720.9 1285,721.6 1286,721.4 1287,721.1 1288,721.1 1289,720.9 1290,720.7 1291,721.0 1292,721.1 1293,720.8 1294,721.0 1295,721.4 1296,721.5 1297,721.9 1298,722.4 1299,721.9 1300,721.3 1301,721.5 1302,722.2 1303,722.2 1304,721.2 1305,720.6 1306,721.1 1307,721.8 1308,722.0 1309,721.7 1310,721.3 1311,721.3 1312,721.8 1313,721.9 1314,720.8 1315,720.1 1316,721.1 1317,722.4 1318,722.1 1319,721.1 1320,721.5 1321,722.1 1322,721.8 1323,721.5 1324,721.7 1325,722.0 1326,722.1 1327,722.1 1328,722.3 1329,721.9 1330,721.6 1331,722.0 1332,722.1 1333,722.1 1334,722.0 1335,721.5 1336,721.9 1337,722.2 1338,721.7 1339,721.8 1340,722.4 1341,722.5 1342,722.2 1343,721.7 1344,722.1 1345,722.0 1346,721.3 1347,721.4 1348,721.4 1349,721.5 1350,722.0 1351,722.3 1352,722.4 1353,721.7 1354,720.8 1355,721.1 1356,721.9 1357,721.9 1358,721.7 1359,721.6 1360,721.7 1361,722.1 1362,722.1 1363,721.3 1364,720.6 1365,721.1 1366,721.6 1367,721.2 1368,721.4 1369,721.7 1370,721.5 1371,721.1 1372,720.9 1373,721.0 1374,720.4 1375,720.3 1376,721.0 1377,720.9 1378,720.9 1379,721.4 1380,721.8 1381,722.1 1382,722.2 1383,721.9 1384,721.5 1385,722.1 1386,723.0 1387,722.3 1388,721.2 1389,721.1 1390,721.4 1391,721.2 1392,720.8 1393,721.3 1394,721.4 1395,720.9 1396,720.2 1397,719.5 1398,720.0 1398.48,720.4 1399,720.0 1400,719.9 1401,720.4 1402,721.2 1403,721.3 1404,721.5 1405,722.2 1406,722.6 1407,722.5 1408,722.1 1409,721.8 1410,722.0 1411,722.3 1412,722.1 1413,721.4 1414,721.4 1415,721.6 1416,721.4 1417,721.5 1418,721.8 1419,722.1 1420,722.3 1421,722.1 1422,722.0 1423,722.1 1424,722.2 1425,722.1 1426,721.7 1427,721.6 1428,722.0 1429,722.5 1430,722.7 1431,722.2 1432,721.7 1433,721.4 1434,721.2 1435,721.5 1436,722.0 1437,721.7 1438,721.9 1439,722.5 1440,722.7 1441,722.3 1442,721.7 1443,722.3 1444,722.6 1445,721.7 1446,721.5 1447,721.5 1448,721.6 1449,721.8 1450,721.7 1451,721.9 1452,721.7 1453,721.0 1454,721.0 1455,721.8 1456,722.3 1457,722.1 1458,721.5 1459,721.6 1460,722.5 1461,722.6 1462,722.5 1463,722.7 1464,722.2 1465,721.5 1466,721.7 1467,722.0 1468,721.8 1469,722.4 1470,722.9 1471,722.0 1472,721.8 1473,722.3 1474,722.4 1475,722.9 1476,723.2 1477,722.8 1478,723.1 1479,723.5 1480,722.5 1481,722.3 1482,722.8 1483,722.7 1484,722.2 1485,721.7 1486,721.3 1487,720.7 1488,720.4 1489,720.9 1490,721.6 1491,722.4 1492,722.4 1493,721.5 1494,720.1 1495,719.9 1496,721.0 1497,721.5 1498,721.7 1499,722.3 1500,722.7 1501,723.1 1502,723.2 1503,722.9 1504,722.0 1505,721.3 1506,721.1 1507,721.5 1508,721.5 1509,721.0 1510,721.3 1511,722.2 1512,722.4 1513,721.8 1514,721.3 1515,721.7 1516,721.7 1517,721.2 1518,721.1 1519,721.0 1520,721.3 1521,721.7 1522,721.4 1523,720.9 1524,720.3 1525,720.3 1526,720.8 1527,720.4 1528,719.4 1529,718.2 1530,716.7 1531,714.9 1532,712.4 1533,709.9 1534,709.0 1534.08,709.4 1535,710.1 1536,711.9 1537,714.2 1538,716.4 1539,717.6 1540,718.0 1541,719.2 1542,721.2 1543,722.1 1544,720.9 1545,720.3 1546,721.7 1547,722.5 1548,721.6 1549,721.2 1550,721.7 1551,721.7 1552,721.2 1553,721.6 1554,721.8 1555,721.6 1556,721.7 1557,722.1 1558,721.9 1559,721.1 1560,721.3 1561,721.5 1562,721.3 1563,721.8 1564,722.0 1565,721.1 1566,720.2 1567,720.1 1568,720.4 1569,720.6 1570,720.1 1571,719.4 1572,718.5 1573,716.6 1574,714.3 1575,711.9 1576,709.4 1577,707.3 1577.50,706.8 1578,707.3 1579,708.9 1580,711.0 1581,713.6 1582,715.8 1583,717.5 1584,719.2 1585,719.4 1586,719.5 1587,720.8 1588,720.7 1589,720.0 1590,720.9 1591,721.6 1592,721.6 1593,721.6 1594,721.5 1595,721.6 1596,721.3 1597,721.2 1598,721.3 1599,721.2 1600,720.9 1601,720.5 1602,720.6 1603,720.4 1604,719.7 1605,719.0 1606,718.7 1607,718.0 1607.23,717.6 1608,718.5 1609,719.6 1610,720.0 1611,720.3 1612,720.6 1613,720.7 1614,721.2 1615,721.6 1616,721.2 1617,721.2 1618,722.0 1619,721.6 1620,720.6 1621,721.5 1622,722.9 1623,722.0 1624,720.3 1625,719.5 1626,719.5 1627,720.1 1628,720.6 1628.94,720.5 1629,720.3 1630,720.3 1631,720.5 1632,720.9 1633,721.3 1634,721.5 1635,721.1 1636,720.2 1637,720.4 1638,721.5 1639,721.5 1640,721.4 1641,722.7 1642,723.2 1643,722.3 1644,721.7 1645,721.0 1646,720.7 1647,721.1 1648,721.3 1649,721.5 1650,721.5 1651,721.5 1652,722.0 1653,722.2 1654,721.6 1655,721.9 1656,722.5 1657,722.3 1658,721.9 1659,721.5 1660,721.2 1661,721.5 1662,722.0 1663,722.2 1664,722.7 1665,722.9 1666,722.7 1667,722.5 1668,722.6 1669,722.7 1670,722.4 1671,722.3 1672,722.3 1673,722.0 1674,721.8 1675,721.8 1676,722.0 1677,722.4 1678,722.5 1679,722.3 1680,722.1 1681,722.0 1682,721.9 1683,721.7 1684,721.5 1685,721.2 1686,721.5 1687,721.7 1688,720.8 1689,720.4 1690,721.7 1691,722.5 1692,722.0 1693,721.6 1694,722.0 1695,722.0 1696,721.5 1697,721.6 1698,722.2 1699,722.7 1700,722.3 1701,721.5 1702,721.1 1703,720.7 1704,720.4 1705,720.7 1706,721.3 1707,721.5 1708,721.6 1709,721.9 1710,721.9 1711,722.4 1712,722.7 1713,722.2 1714,722.2 1715,722.3 1716,721.6 1717,721.4 1718,721.8 1719,721.9 1720,722.0 1721,722.2 1722,722.1 1723,721.6 1724,721.4 1725,721.9 1726,722.0 1727,721.7 1728,721.9 1729,722.0 1730,721.8 1731,721.9 1732,722.2 1733,722.3 1734,722.2 1735,721.9 1736,722.0 1737,722.1 1738,721.8 1739,721.7 1740,722.4 1741,722.6 1742,722.4 1743,722.2 1744,721.8 1745,721.5 1746,721.0 1747,720.8 1748,721.4 1749,721.6 1750,721.9 1751,722.6 1752,722.8 1753,722.4 1754,722.3 1755,722.4 1756,722.0 1757,721.7 1758,722.0 1759,722.6 1760,722.8 1761,722.4 1762,722.5 1763,722.6 1764,722.5 1765,723.0 1766,723.4 1767,723.4 1768,723.1 1769,722.2 1770,721.7 1771,722.4 1772,722.2 1773,721.1 1774,720.7 1775,721.1 1776,721.3 1777,721.1 1778,721.0 1779,721.3 1780,721.9 1781,722.0 1782,721.8 1783,721.7 1784,721.0 1785,720.7 1786,721.3 1787,721.5 1788,721.4 1789,721.8 1790,722.5 1791,722.6 1792,722.1 1793,722.1 1794,722.5 1795,722.2 1796,721.6 1797,721.4 1798,721.4 1799,721.5 1800,721.4 1801,721.6 1802,722.7 1803,723.2 1804,722.2 1805,721.6 1806,721.4 1807,720.7 1808,720.7 1809,721.6 1810,722.3 1811,722.5 1812,722.4 1813,722.1 1814,721.6 1815,721.4 1816,721.8 1817,722.2 1818,722.3 1819,722.2 1820,721.8 1821,722.1 1822,722.3 1823,722.1 1824,722.3 1825,722.0 1826,721.8 1827,722.0 1828,722.1 1829,721.8 1830,721.3 1831,721.7 1832,722.0 1833,721.8 1834,722.3 1835,722.5 1836,722.4 1837,722.3 1838,722.4 1839,722.6 1840,722.0 1841,721.5 1842,721.5 1843,721.4 1844,721.7 1845,722.0 1846,721.9 1847,721.6 1848,721.8 1849,722.2 1850,722.4 1851,722.9 1852,723.3 1853,723.1 1854,722.5 1855,721.6 1856,721.4 1857,721.7 1858,721.8 1859,722.1 1860,722.5 1861,722.7 1862,722.5 1863,722.5 1864,723.1 1865,723.0 1866,722.6 1867,722.3 1868,721.4 1869,721.4 1870,722.0 1871,721.7 1872,721.1 1873,721.0 1874,721.0 1875,720.5 1876,720.8 1877,721.3 1878,721.2 1879,720.4 1880,719.3 1881,718.1 1882,717.0 1883,716.2 1884,715.3 1885,714.0 1886,713.6 1886.12,713.4 1887,713.4 1888,714.3 1889,715.5 1890,716.6 1891,718.3 1892,719.8 1893,720.0 1894,720.4 1895,721.0 1896,720.9 1897,721.1 1898,721.5 1899,721.4 1900,721.2 1901,721.1 1902,721.0 1903,720.7 1904,720.8 1905,721.5 1906,721.7 1907,721.2 1908,720.9 1909,721.0 1910,720.8 1911,720.7 1912,721.5 1913,721.6 1914,721.1 1915,721.3 1916,721.6 1917,721.8 1918,721.9 1919,722.0 1920,721.8 1921,721.8 1922,721.6 1923,721.7 1924,722.1 1925,722.0 1926,721.9 1927,721.8 1928,721.5 1929,721.4 1930,722.0 1931,721.5 1932,720.7 1933,721.1 1934,721.6 1935,721.7 1936,721.8 1937,721.9 1938,721.1 1939,720.4 1940,720.9 1941,720.9 1942,720.6 1942.90,720.6 1943,720.0 1944,719.6 1945,720.0 1946,721.0 1947,721.7 1948,721.3 1949,720.1 1950,720.1 1951,721.6 1952,722.7 1953,722.3 1954,721.8 1955,721.3 1956,721.2 1957,721.7 1958,721.5 1959,721.0 1960,720.9 1961,720.3 1962,719.8 1963,720.0 1964,720.1 1965,719.6 1966,719.8 1966.28,720.5 1967,720.6 1968,720.4 1969,721.0 1970,721.3 1971,721.1 1972,722.1 1973,722.2 1974,721.3 1975,720.9 1976,720.8 1977,721.0 1978,721.7 1979,722.4 1980,722.4 1981,722.2 1982,722.2 1983,721.9 1984,721.9 1985,722.1 1986,721.9 1987,721.1 1988,721.2 1989,721.9 1990,721.6 1991,721.4 1992,721.3 1993,720.5 1994,719.3 1995,718.5 1996,718.5 1996.34,718.8 1997,719.0 1998,719.6 1999,719.6 2000,719.8 2001,721.1 2002,722.0 2003,721.7 2004,721.6 2005,722.0 2006,721.6 2007,721.1 2008,720.9 2009,721.3 2010,721.7 2011,721.5 2012,721.3 2013,721.4 2014,721.3 2015,721.1 2016,721.6 2017,721.8 2018,721.1 2019,721.0 2020,721.2 2021,721.7 2022,722.0 2023,721.4 2024,721.7 2025,722.8 2026,722.3 2027,721.8 2028,722.2 2029,722.2 2030,721.8 2031,721.8 2032,722.1 2033,722.0 2034,721.5 2035,721.1 2036,721.3 2037,721.9 2038,722.3 2039,722.2 2040,722.1 2041,722.2 2042,721.8 2043,721.9 2044,722.2 2045,721.9 2046,722.2 2047,722.0 2048,720.6 2049,720.5 2050,721.3 2051,721.6 2052,721.9 2053,721.6 2054,721.0 2055,721.6 2056,721.7 2057,721.3 2058,721.6 2059,721.7 2060,721.0 2061,720.7 2062,721.0 2063,721.2 2064,720.9 2065,719.6 2066,718.4 2067,718.3 2068,718.2 2069,717.6 2070,716.1 2071,713.9 2072,712.7 2073,713.0 2073.16,713.2 2074,712.9 2075,713.7 2076,714.9 2077,716.0 2078,717.2 2079,718.6 2080,719.4 2081,719.8 2082,720.6 2083,721.2 2084,721.0 2085,720.9 2086,721.2 2087,721.0 2088,721.3 2089,722.2 2090,722.4 2091,722.2 2092,722.2 2093,722.3 2094,722.3 2095,721.8 2096,720.8 2097,720.4 2098,721.1 2099,721.3 2100,721.3 2101,721.6 2102,721.6 2103,722.1 2104,722.3 2105,721.5 2106,720.9 2107,720.3 2108,719.8 2109,720.0 2109.90,720.3 2110,720.3 2111,720.3 2112,720.7 2113,721.3 2114,720.9 2115,720.6 2116,721.6 2117,722.4 2118,722.4 2119,722.0 2120,721.9 2121,722.3 2122,722.3 2123,722.1 2124,722.3 2125,722.9 2126,723.2 2127,722.7 2128,721.9 2129,721.2 2130,721.2 2131,721.2 2132,720.8 2133,721.1 2134,722.4 2135,723.0 2136,722.3 2137,721.7 2138,721.9 2139,722.2 2140,721.8 2141,721.3 2142,721.3 2143,721.4 2144,721.7 2145,722.0 2146,722.4 2147,722.3 2148,721.9 2149,721.8 2150,722.2 2151,722.7 2152,722.7 2153,722.3 2154,721.9 2155,721.4 2156,721.2 2157,721.6 2158,722.6 2159,723.2 2160,722.7 2161,721.6 2162,721.3 2163,722.2 2164,722.4 2165,721.9 2166,721.9 2167,722.3 2168,722.3 2169,721.8 2170,721.2 2171,721.4 2172,721.8 2173,722.2 2174,722.8 2175,722.8 2176,722.2 2177,722.2 2178,722.3 2179,722.0 2180,721.9 2181,721.6 2182,721.7 2183,722.2 2184,722.0 2185,721.8 2186,722.1 2187,721.9 2188,722.2 2189,723.3 2190,723.0 2191,722.2 2192,721.8 2193,721.0 2194,721.2 2195,722.3 2196,722.7 2197,722.3 2198,722.1 2199,722.1 2200,722.1 2201,722.5 2202,722.5 2203,722.1 2204,722.2 2205,722.1 2206,721.8 2207,721.9 2208,722.1 2209,722.0 2210,722.0 2211,721.7 2212,721.0 2213,721.2 2214,722.0 2215,722.1 2216,722.0 2217,722.0 2218,722.0 2219,721.9 2220,721.9 2221,722.1 2222,722.3 2223,722.5 2224,721.9 2225,720.9 2226,720.5 2227,720.0 2228,719.6 2229,719.9 2230,720.5 2230.14,720.8 2231,720.6 2232,720.7 2233,720.8 2234,720.8 2235,720.8 2236,721.0 2237,720.7 2238,720.5 2239,721.5 2240,721.7 2241,720.9 2242,721.4 2243,722.3 2244,722.3 2245,722.0 2246,722.2 2247,722.5 2248,722.3 2249,721.4 2250,720.8 2251,721.0 2252,720.8 2253,720.2 2253.52,720.4 2254,721.0 2255,721.3 2256,721.7 2257,721.8 2258,721.1 2259,720.5 2260,720.7 2261,721.5 2262,721.9 2263,721.7 2264,721.4 2265,720.7 2266,720.1 2267,720.8 2268,721.9 2269,722.0 2270,721.7 2271,722.2 2272,722.8 2273,722.4 2274,722.4 2275,722.3 2276,721.2 2277,720.7 2278,720.3 2279,719.1 2280,719.0 2280.24,720.3 2281,721.2 2282,721.0 2283,720.7 2284,720.8 2285,720.7 2286,720.6 2287,721.2 2288,722.0 2289,722.0 2290,721.5 2291,721.0 2292,721.0 2293,721.4 2294,721.9 2295,722.0 2296,721.8 2297,721.8 2298,721.7 2299,721.2 2300,721.4 2301,722.2 2302,722.5 2303,721.8 2304,721.6 2305,722.1 2306,722.5 2307,722.6 2308,722.5 2309,722.7 2310,722.5 2311,722.0 2312,722.2 2313,722.3 2314,722.5 2315,722.2 2316,721.1 2317,720.9 2318,721.4 2319,721.4 2320,721.5 2321,721.7 2322,721.9 2323,721.7 2324,722.1 2325,722.5 2326,722.2"/>
<polyline fill="none" stroke="#e8000e" stroke-width="12.0" stroke-linejoin="round" stroke-linecap="butt" points="156,916.3 157,915.7 158,915.7 159,915.9 160,916.0 161,915.3 162,915.1 163,915.0 164,915.1 165,915.9 166,915.3 167,915.0 168,916.2 169,916.9 170,917.4 171,918.2 172,917.7 173,917.1 174,917.4 175,917.0 176,916.3 177,916.7 178,918.0 179,918.9 180,918.6 181,917.4 182,916.2 183,916.8 184,918.5 185,919.9 186,920.0 187,919.1 188,918.7 189,918.2 190,917.8 191,918.1 192,918.4 193,919.0 194,919.2 195,919.3 196,919.1 197,918.5 198,918.6 199,918.5 200,918.0 201,919.2 202,920.7 203,920.9 204,920.2 205,920.1 206,919.6 207,918.7 208,918.7 209,918.9 210,919.8 211,920.6 212,919.7 213,919.1 214,920.5 215,921.3 216,920.8 217,920.0 218,920.6 219,921.8 220,921.0 221,920.0 222,920.6 223,920.7 224,919.9 225,919.7 226,921.1 227,923.0 228,922.9 229,921.7 230,921.4 231,921.0 232,920.9 233,921.8 234,922.7 235,921.9 236,921.5 237,922.4 238,923.2 239,922.4 240,921.3 241,921.6 242,921.5 243,920.7 244,921.1 245,921.9 246,922.5 247,923.3 248,922.8 249,921.9 250,921.6 251,921.2 252,921.6 253,922.5 254,921.8 255,920.3 256,920.8 257,921.8 258,921.6 259,922.1 260,923.0 261,922.5 262,922.0 263,922.4 264,922.8 265,921.9 266,921.3 267,922.7 268,923.9 269,924.0 270,924.4 271,923.7 272,922.3 273,922.3 274,922.6 275,923.1 276,924.2 277,924.6 278,924.3 279,923.8 280,923.1 281,922.8 282,922.3 283,921.8 284,922.3 285,923.2 286,923.4 287,922.9 288,922.4 289,923.0 290,923.8 291,923.5 292,923.3 293,923.3 294,923.0 295,922.5 296,922.8 297,923.6 298,923.6 299,923.4 300,923.0 301,921.9 302,921.3 303,922.4 304,924.0 305,924.0 306,923.1 307,922.1 308,922.4 309,923.1 310,923.4 311,923.8 312,923.5 313,923.6 314,924.8 315,925.2 316,924.1 317,923.1 318,923.5 319,923.8 320,922.6 321,921.8 322,922.6 323,923.9 324,923.7 325,922.5 326,922.3 327,922.7 328,922.3 329,921.7 330,921.8 331,922.1 332,922.0 333,921.8 334,921.3 335,920.8 336,920.9 337,919.7 338,917.8 339,917.2 340,916.1 341,914.8 342,914.6 343,914.0 344,913.0 344.71,913.0 345,913.8 346,913.5 347,913.7 348,915.0 349,915.7 350,916.6 351,916.8 352,916.4 353,916.5 354,916.5 355,916.8 356,917.3 357,916.0 358,914.0 359,911.7 360,907.1 361,898.7 362,883.2 363,859.8 364,828.6 365,795.9 366,776.6 366.42,775.8 367,778.9 368,801.5 369,833.9 370,864.4 371,886.5 372,900.1 373,908.7 374,914.2 375,916.1 376,916.0 377,916.6 378,917.7 379,918.7 380,918.8 381,919.2 382,919.9 383,919.3 384,918.5 385,918.4 386,918.9 387,920.4 388,919.8 389,917.5 390,917.8 391,919.4 392,918.3 393,916.1 394,914.2 395,910.3 396,902.2 397,888.8 398,868.4 399,839.9 400,809.4 401,789.1 401.49,786.7 402,790.2 403,811.2 404,840.1 405,867.2 406,888.2 407,902.2 408,910.2 409,913.4 410,915.1 411,916.4 412,917.4 413,918.9 414,919.8 415,920.5 416,921.0 417,920.6 418,920.7 419,921.0 420,920.6 421,919.6 422,919.9 423,920.8 424,921.0 425,922.2 426,922.7 427,921.6 428,921.5 429,922.3 430,923.5 431,924.0 432,923.2 433,922.9 434,922.4 435,921.2 436,921.4 437,921.9 438,922.0 439,922.1 440,921.1 441,920.7 442,921.3 443,921.0 444,919.8 445,919.1 446,918.4 447,916.4 448,913.3 449,909.1 450,905.3 450.59,904.0 451,905.0 452,907.9 453,911.0 454,914.9 455,918.1 456,919.6 457,921.0 458,921.6 459,921.5 460,922.0 461,921.7 462,921.2 463,921.4 464,920.8 465,920.8 466,921.0 467,921.0 468,921.5 469,921.4 470,921.4 471,921.3 472,921.2 473,921.3 474,921.4 475,921.5 476,921.4 477,921.5 478,922.3 479,922.6 480,922.4 481,922.5 482,921.7 483,921.4 484,923.1 485,924.2 486,923.8 487,923.0 488,923.4 489,923.9 490,924.2 491,924.6 492,923.7 493,922.8 494,921.9 495,921.4 496,921.9 497,922.3 498,922.7 499,921.9 500,920.8 501,921.0 502,920.5 503,919.0 504,918.5 505,917.6 506,913.8 507,908.1 508,903.4 509,901.5 509.37,902.0 510,902.1 511,904.9 512,909.0 513,912.7 514,917.2 515,920.6 516,920.8 517,921.1 518,923.1 519,923.3 520,922.2 521,922.4 522,922.9 523,922.6 524,922.5 525,922.5 526,922.3 527,922.4 528,922.4 529,923.0 530,923.9 531,923.8 532,923.4 533,922.5 534,922.5 535,923.3 536,922.8 537,922.0 538,921.9 539,922.4 540,923.4 541,924.2 542,923.8 543,922.7 544,922.6 545,922.2 546,921.4 547,922.4 548,923.1 549,922.2 550,922.7 551,923.8 552,923.5 553,923.8 554,924.0 555,923.3 556,922.5 557,922.7 558,924.5 559,924.7 560,923.6 561,923.7 562,923.9 563,923.6 564,923.0 565,921.9 566,921.0 567,921.1 568,922.2 569,922.4 570,921.4 571,921.0 572,921.9 573,923.3 574,924.1 575,924.0 576,923.5 577,922.9 578,922.7 579,923.4 580,922.9 581,921.6 582,921.0 583,921.0 584,921.8 585,922.2 586,921.8 587,922.0 588,921.0 589,919.2 590,918.6 591,918.5 592,919.0 593,920.0 594,918.7 595,914.1 596,906.9 597,895.8 598,878.2 599,852.4 600,822.5 601,797.7 601.89,789.1 602,788.1 603,800.7 604,829.0 605,859.0 606,883.4 607,899.6 608,908.2 609,914.0 610,917.1 611,918.3 612,920.3 613,921.4 614,921.1 615,921.1 616,922.0 617,922.4 618,921.7 619,921.4 620,921.7 621,922.5 622,923.0 623,922.9 624,921.8 625,920.4 626,919.5 626.94,919.4 627,919.8 628,919.5 629,920.1 630,921.0 631,921.6 632,923.5 633,925.1 634,925.1 635,925.0 636,924.8 637,924.4 638,923.9 639,923.6 640,924.6 641,926.0 642,926.1 643,925.1 644,924.9 645,925.0 646,924.4 647,924.1 648,924.2 649,925.0 650,925.3 651,923.8 652,922.9 653,923.6 654,924.9 655,925.2 656,924.8 657,925.0 658,925.2 659,925.9 660,926.1 661,925.4 662,924.9 663,925.4 664,925.5 665,924.3 666,924.2 667,925.6 668,926.0 669,925.7 670,926.3 671,926.9 672,926.3 673,925.4 674,925.7 675,925.7 676,925.2 677,925.3 678,925.7 679,926.2 680,926.1 681,926.3 682,927.2 683,927.7 684,926.5 685,925.7 686,926.5 687,927.0 688,926.8 689,926.2 690,925.0 691,924.5 692,925.2 693,925.3 694,923.8 695,922.4 696,921.7 697,921.8 697.08,922.4 698,923.0 699,923.3 700,923.7 701,924.5 702,925.8 703,925.6 704,924.6 705,924.8 706,926.1 707,927.0 708,927.3 709,927.7 710,926.9 711,925.6 712,926.1 713,927.1 714,926.2 715,925.2 716,925.0 717,925.5 718,927.0 719,927.1 720,926.8 721,927.9 722,927.9 723,926.2 724,925.3 725,925.7 726,926.5 727,926.9 728,927.0 729,928.2 730,928.7 731,926.9 732,926.5 733,928.2 734,927.8 735,925.7 736,924.7 737,924.8 738,925.5 739,925.3 740,924.6 740.50,925.4 741,924.9 742,922.9 743,923.1 744,925.0 745,926.4 746,927.2 747,928.0 748,928.5 749,927.6 750,926.3 751,925.5 752,925.3 753,926.5 754,927.2 755,926.9 756,927.0 757,926.9 758,927.3 759,928.1 760,928.7 761,928.4 762,927.6 763,926.8 764,926.2 765,926.2 766,925.9 767,926.4 768,928.3 769,929.0 770,928.5 771,927.6 772,925.6 773,925.1 774,927.1 775,928.3 776,928.4 777,928.6 778,928.0 779,927.4 780,927.8 781,928.5 782,928.7 783,927.9 784,926.6 785,924.9 786,922.2 787,919.5 788,915.3 789,909.3 790,906.1 790.60,906.5 791,906.0 792,908.6 793,914.5 794,919.8 795,923.1 796,924.5 797,926.0 798,927.8 799,927.2 800,926.7 801,927.8 802,928.2 803,927.9 804,928.0 805,928.3 806,927.7 807,927.0 808,927.2 809,927.5 810,927.1 811,925.9 812,924.6 813,923.6 814,920.9 815,914.3 816,905.4 817,896.9 818,889.5 818.99,885.1 819,884.2 820,888.1 821,896.9 822,906.5 823,915.0 824,920.4 825,923.8 826,926.9 827,927.2 828,925.9 829,926.3 830,926.1 831,924.5 832,924.8 833,925.5 834,923.8 835,921.1 836,918.5 837,916.5 837.36,915.6 838,915.1 839,916.9 840,920.9 841,925.1 842,927.8 843,928.8 844,928.2 845,928.4 846,930.0 847,930.5 848,930.0 849,929.5 850,929.5 851,929.4 852,928.3 853,928.7 854,929.8 855,930.4 856,930.9 857,930.2 858,929.0 859,928.0 860,928.2 861,929.9 862,930.6 863,929.9 864,928.8 865,928.9 866,929.7 867,929.7 868,930.3 869,931.3 870,931.1 871,930.6 872,930.3 873,930.1 874,930.6 875,931.5 876,932.4 877,931.1 878,929.2 879,929.1 880,930.1 881,931.1 882,930.3 883,929.2 884,930.0 885,931.3 886,931.5 887,930.9 888,930.1 889,929.4 890,929.6 891,929.8 892,929.8 893,929.8 894,930.0 895,930.4 896,929.9 897,928.9 898,929.0 899,929.8 900,930.6 901,930.4 902,929.9 903,929.7 904,929.5 905,930.0 906,930.7 907,930.3 908,929.6 909,929.5 910,930.1 911,929.6 912,928.4 913,928.7 914,929.7 915,930.1 916,930.7 917,930.7 918,930.4 919,930.6 920,930.5 921,930.1 922,930.1 923,929.7 924,929.7 925,930.6 926,930.3 927,929.1 928,928.4 929,929.0 930,930.0 931,930.6 932,930.5 933,929.3 934,929.3 935,930.3 936,930.5 937,930.8 938,931.4 939,930.6 940,928.6 941,927.8 942,928.1 943,928.4 944,928.9 945,928.8 946,928.3 947,927.5 948,926.6 949,925.3 950,922.6 951,918.5 952,911.3 953,896.8 954,873.9 955,845.4 956,815.4 957,792.2 957.60,786.9 958,788.9 959,810.2 960,841.9 961,871.0 962,892.9 963,908.2 964,917.0 965,920.9 966,922.8 967,925.3 968,928.4 969,929.3 970,928.6 971,929.1 972,930.2 973,930.7 974,930.0 975,928.8 976,928.6 977,929.6 978,930.5 979,930.4 980,929.5 981,929.5 982,929.9 983,928.9 984,928.0 985,927.0 986,924.7 987,919.4 988,910.1 989,901.1 990,895.8 991,894.2 992,897.5 993,904.6 994,912.3 995,919.7 996,925.2 997,927.6 998,929.1 999,929.7 1000,929.5 1001,929.4 1002,929.6 1003,929.3 1004,928.8 1005,928.6 1006,929.3 1007,930.3 1008,930.2 1009,930.7 1010,932.1 1011,931.7 1012,931.0 1013,931.3 1014,931.2 1015,930.3 1016,929.2 1017,928.7 1018,927.3 1019,925.2 1020,924.3 1020.06,924.3 1021,925.0 1022,926.6 1023,928.0 1024,929.2 1025,931.0 1026,931.1 1027,930.6 1028,931.2 1029,930.3 1030,929.5 1031,930.7 1032,932.1 1033,931.9 1034,930.6 1035,930.0 1036,929.8 1037,928.9 1038,925.9 1039,920.3 1040,912.6 1041,903.3 1042,894.5 1043,889.7 1043.10,889.9 1044,893.7 1045,901.7 1046,910.4 1047,918.2 1048,923.7 1049,927.0 1050,929.0 1051,930.5 1052,930.7 1053,930.4 1054,931.4 1055,931.3 1056,930.2 1057,930.0 1058,929.2 1059,928.0 1060,926.8 1061,926.2 1061.14,926.1 1062,926.1 1063,927.4 1064,929.7 1065,931.4 1066,931.8 1067,931.7 1068,931.9 1069,932.3 1070,932.4 1071,932.4 1072,932.4 1073,932.2 1074,932.0 1075,931.4 1076,931.2 1077,931.3 1078,931.6 1079,931.6 1080,930.5 1081,930.2 1082,930.4 1083,929.7 1084,927.5 1085,924.6 1086,920.6 1087,913.9 1088,903.7 1089,890.9 1090,877.5 1091,869.3 1091.20,868.6 1092,872.3 1093,884.0 1094,897.7 1095,910.7 1096,920.7 1097,925.7 1098,928.1 1099,930.0 1100,930.3 1101,930.8 1102,931.6 1103,931.8 1104,931.7 1105,931.6 1106,931.4 1107,931.7 1108,933.0 1109,933.5 1110,933.0 1111,933.5 1112,933.5 1113,933.0 1114,933.8 1115,934.3 1116,933.4 1117,933.1 1118,933.8 1119,933.7 1120,932.3 1121,932.0 1122,932.6 1123,932.0 1124,931.6 1125,931.5 1126,932.0 1127,932.9 1128,933.4 1129,933.9 1130,933.6 1131,933.1 1132,933.7 1133,933.6 1134,932.6 1135,932.1 1136,931.3 1137,929.7 1138,927.8 1139,926.8 1140,926.0 1140.63,925.0 1141,925.6 1142,928.6 1143,930.4 1144,930.0 1145,930.0 1146,930.1 1147,931.7 1148,933.9 1149,933.7 1150,933.0 1151,933.6 1152,933.9 1153,932.9 1154,932.6 1155,933.0 1156,933.2 1157,934.2 1158,934.7 1159,933.9 1160,934.1 1161,934.8 1162,933.7 1163,932.9 1164,933.6 1165,934.4 1166,934.1 1167,932.8 1168,931.7 1169,928.5 1170,922.8 1171,918.1 1172,913.0 1173,907.6 1173.70,906.4 1174,905.9 1175,907.7 1176,913.1 1177,919.8 1178,925.9 1179,929.6 1180,930.7 1181,932.2 1182,933.5 1183,933.3 1184,932.8 1185,932.9 1186,933.4 1187,934.5 1188,935.4 1189,934.9 1190,934.5 1191,934.9 1192,934.6 1193,933.0 1194,932.0 1195,932.1 1196,931.9 1197,933.5 1198,936.1 1199,935.8 1200,934.2 1201,934.5 1202,935.1 1203,933.5 1204,931.5 1205,931.9 1206,934.0 1207,934.8 1208,934.0 1209,932.6 1210,930.9 1211,928.2 1212,923.5 1213,916.4 1214,905.3 1215,891.9 1216,880.4 1217,874.2 1217.12,873.2 1218,876.6 1219,888.2 1220,901.6 1221,912.7 1222,922.2 1223,929.0 1224,931.6 1225,932.4 1226,933.0 1227,933.0 1228,933.2 1229,933.5 1230,933.7 1231,933.6 1232,933.1 1233,933.2 1234,934.1 1235,934.3 1236,934.0 1237,934.5 1238,935.3 1239,935.5 1240,935.1 1241,934.8 1242,934.2 1243,933.8 1244,934.2 1245,934.3 1246,934.9 1247,935.7 1248,935.3 1249,934.1 1250,932.8 1251,931.1 1252,928.9 1253,926.6 1254,922.2 1255,914.1 1256,905.5 1257,900.0 1257.53,898.4 1258,899.2 1259,905.9 1260,914.6 1261,921.7 1262,926.3 1263,930.0 1264,932.4 1265,933.3 1266,933.2 1267,932.9 1268,933.5 1269,934.1 1270,934.3 1271,934.6 1272,935.4 1273,935.6 1274,935.2 1275,935.0 1276,935.2 1277,936.1 1278,936.1 1279,935.6 1280,935.4 1281,935.4 1282,935.3 1283,934.6 1284,933.4 1285,932.8 1286,933.8 1287,935.1 1288,935.2 1289,935.8 1290,936.4 1291,935.5 1292,934.7 1293,934.8 1294,934.7 1295,934.0 1296,934.3 1297,934.2 1298,931.5 1299,926.8 1300,919.9 1301,909.5 1302,898.0 1303,889.2 1303.96,885.2 1304,884.1 1305,889.5 1306,901.1 1307,912.4 1308,920.8 1309,926.0 1310,929.5 1311,932.7 1312,934.4 1313,935.1 1314,935.5 1315,934.7 1316,934.9 1317,935.6 1318,935.3 1319,935.9 1320,936.7 1321,936.5 1322,936.1 1323,935.4 1324,935.0 1325,935.2 1326,935.1 1327,934.4 1328,934.9 1329,936.0 1330,935.8 1331,935.3 1332,935.0 1333,934.9 1334,936.1 1335,937.6 1336,937.6 1337,936.7 1338,935.9 1339,934.8 1340,933.3 1341,932.1 1342,930.0 1343,926.4 1344,921.8 1345,917.2 1346,915.5 1346.04,915.9 1347,917.0 1348,921.5 1349,927.1 1350,930.7 1351,932.8 1352,933.8 1353,934.7 1354,935.9 1355,936.1 1356,936.2 1357,936.3 1358,935.8 1359,934.8 1360,934.4 1361,936.6 1362,937.2 1363,935.9 1364,936.2 1365,936.2 1366,935.4 1367,935.4 1368,935.5 1369,935.5 1370,936.2 1371,936.5 1372,936.0 1373,935.6 1374,935.3 1375,935.2 1376,936.8 1377,938.4 1378,937.6 1379,936.3 1380,936.2 1381,936.6 1382,936.5 1383,936.3 1384,936.5 1385,936.4 1386,937.2 1387,938.2 1388,938.1 1389,938.0 1390,938.0 1391,937.8 1392,937.0 1393,936.6 1394,937.6 1395,937.6 1396,935.6 1397,934.9 1397.14,936.0 1398,935.8 1399,935.3 1400,936.2 1401,937.0 1402,936.4 1403,936.4 1404,937.5 1405,937.8 1406,937.1 1407,937.5 1408,937.8 1409,936.6 1410,936.8 1411,938.5 1412,939.3 1413,939.3 1414,938.5 1415,938.0 1416,937.5 1417,936.2 1418,936.4 1419,937.8 1420,938.5 1421,938.6 1422,938.3 1423,937.3 1424,936.7 1425,937.3 1426,936.9 1427,936.2 1428,936.9 1429,937.2 1430,936.2 1431,934.2 1432,933.2 1433,931.3 1434,925.1 1435,918.2 1436,911.9 1437,907.4 1437.22,908.1 1438,910.9 1439,916.5 1440,922.1 1441,926.8 1442,931.4 1443,933.8 1444,934.3 1445,935.7 1446,936.7 1447,937.1 1448,937.4 1449,937.5 1450,938.0 1451,938.5 1452,938.7 1453,938.1 1454,938.0 1455,938.8 1456,938.1 1457,937.0 1458,937.9 1459,938.7 1460,939.2 1461,939.4 1462,938.4 1463,937.8 1464,938.2 1465,937.8 1466,937.7 1467,937.9 1468,937.3 1469,937.3 1470,937.7 1471,936.6 1472,934.6 1473,932.0 1474,928.9 1475,926.5 1475.97,925.7 1476,925.8 1477,926.6 1478,930.0 1479,934.3 1480,935.9 1481,935.3 1482,935.9 1483,937.5 1484,937.7 1485,937.5 1486,937.7 1487,938.2 1488,938.9 1489,938.1 1490,936.4 1491,936.8 1492,938.2 1493,937.6 1494,936.8 1495,936.1 1496,934.0 1497,931.2 1498,928.8 1499,926.3 1500,923.5 1500.68,922.3 1501,923.2 1502,926.6 1503,929.8 1504,932.1 1505,934.5 1506,936.3 1507,938.2 1508,939.2 1509,938.6 1510,938.4 1511,938.7 1512,938.6 1513,938.2 1514,937.6 1515,936.9 1516,936.3 1517,936.8 1518,938.2 1519,939.3 1520,939.5 1521,938.7 1522,937.7 1523,936.9 1524,937.0 1525,938.2 1526,938.9 1527,938.2 1528,937.1 1529,937.5 1530,938.6 1531,937.7 1532,935.8 1533,934.1 1534,930.3 1535,926.0 1536,924.0 1536.76,924.3 1537,924.4 1538,925.7 1539,929.3 1540,933.0 1541,935.2 1542,936.6 1543,937.5 1544,938.0 1545,938.7 1546,939.1 1547,938.6 1548,938.1 1549,938.1 1550,938.3 1551,938.5 1552,938.2 1553,937.9 1554,939.3 1555,940.8 1556,940.1 1557,938.3 1558,937.5 1559,938.1 1560,938.6 1561,938.4 1562,937.8 1563,938.0 1564,938.7 1565,939.0 1566,938.8 1567,937.4 1568,936.7 1569,937.3 1570,936.8 1571,936.3 1572,935.8 1573,933.8 1574,929.8 1575,923.4 1576,915.5 1577,907.7 1578,902.1 1578.51,900.8 1579,900.7 1580,906.8 1581,916.4 1582,925.0 1583,930.2 1584,932.3 1585,934.2 1586,936.2 1587,936.8 1588,937.4 1589,938.2 1590,938.5 1591,939.4 1592,939.7 1593,938.8 1594,938.5 1595,938.5 1596,938.2 1597,938.4 1598,939.0 1599,939.7 1600,940.7 1601,940.0 1602,938.7 1603,939.0 1604,939.1 1605,939.3 1606,940.7 1607,940.7 1608,938.6 1609,937.4 1610,938.0 1611,938.4 1612,938.4 1613,937.5 1614,935.6 1615,934.9 1616,934.8 1617,931.3 1618,924.3 1619,916.9 1620,910.9 1621,907.3 1621.26,907.0 1622,909.4 1623,916.7 1624,922.9 1625,926.9 1626,930.7 1627,933.6 1628,935.1 1629,934.9 1630,932.1 1631,927.1 1632,922.5 1633,920.0 1633.62,919.1 1634,917.7 1635,919.9 1636,925.3 1637,930.4 1638,933.4 1639,934.9 1640,936.6 1641,938.3 1642,938.0 1643,936.8 1644,937.0 1645,937.4 1646,937.6 1647,937.6 1648,936.0 1649,934.0 1650,932.4 1651,929.3 1652,922.7 1653,914.8 1654,907.6 1655,901.3 1655.66,899.4 1656,900.6 1657,905.3 1658,912.7 1659,922.3 1660,930.1 1661,933.4 1662,934.9 1663,936.1 1664,937.1 1665,938.5 1666,939.5 1667,939.5 1668,940.0 1669,940.7 1670,940.4 1671,939.8 1672,938.7 1673,938.7 1674,940.2 1675,941.1 1676,941.1 1677,940.6 1678,940.2 1679,940.4 1680,940.3 1681,938.7 1682,937.0 1683,937.7 1684,938.4 1685,936.2 1686,932.7 1687,929.7 1688,927.2 1689,926.4 1689.06,927.0 1690,927.4 1691,928.4 1692,931.6 1693,934.8 1694,936.5 1695,937.9 1696,938.8 1697,938.5 1698,938.3 1699,938.9 1700,938.9 1701,938.5 1702,939.4 1703,940.7 1704,940.0 1705,938.9 1706,938.7 1707,938.7 1708,938.7 1709,939.2 1710,939.8 1711,939.5 1712,939.5 1713,940.3 1714,940.3 1715,939.8 1716,939.7 1717,939.9 1718,939.8 1719,939.1 1720,938.9 1721,939.1 1722,938.4 1723,938.5 1724,940.2 1725,941.2 1726,940.4 1727,939.4 1728,938.5 1729,939.3 1730,940.4 1731,939.5 1732,937.7 1733,936.5 1734,935.8 1735,935.2 1735.82,934.9 1736,934.6 1737,934.3 1738,935.0 1739,936.7 1740,938.3 1741,939.2 1742,938.7 1743,938.8 1744,940.4 1745,940.3 1746,939.6 1747,940.0 1748,938.7 1749,937.4 1750,938.6 1751,940.3 1752,940.1 1753,939.3 1754,939.7 1755,940.1 1756,939.8 1757,939.8 1758,939.9 1759,940.0 1760,940.3 1761,940.2 1762,940.0 1763,939.3 1764,938.4 1765,938.8 1766,940.6 1767,941.4 1768,940.5 1769,939.8 1770,939.4 1771,939.7 1772,940.1 1773,939.5 1774,938.6 1775,937.8 1776,937.1 1777,935.5 1778,932.2 1779,926.9 1780,920.7 1781,915.9 1781.91,914.5 1782,915.2 1783,917.6 1784,922.2 1785,928.1 1786,932.3 1787,934.4 1788,935.9 1789,936.5 1790,937.0 1791,938.2 1792,938.9 1793,939.2 1794,939.7 1795,940.0 1796,940.0 1797,940.0 1798,939.1 1799,938.2 1800,938.1 1801,938.4 1802,939.0 1803,938.8 1804,938.0 1805,938.2 1806,938.3 1807,937.5 1808,936.2 1809,934.6 1810,931.8 1811,927.8 1812,923.3 1813,918.8 1813.98,916.5 1814,916.6 1815,918.3 1816,922.5 1817,926.9 1818,930.6 1819,934.5 1820,936.9 1821,937.5 1822,938.6 1823,939.0 1824,939.0 1825,939.5 1826,939.4 1827,939.5 1828,940.0 1829,940.0 1830,939.5 1831,939.6 1832,940.6 1833,941.0 1834,940.6 1835,939.8 1836,938.6 1837,938.3 1838,939.2 1839,939.9 1840,940.5 1841,940.7 1842,940.3 1843,940.2 1844,939.9 1845,938.6 1846,937.9 1847,938.7 1848,939.7 1849,940.3 1850,940.2 1851,939.5 1852,938.3 1853,937.3 1854,937.1 1855,935.8 1856,933.6 1856.73,932.7 1857,932.4 1858,933.6 1859,936.0 1860,937.4 1861,937.8 1862,939.0 1863,939.7 1864,939.5 1865,939.8 1866,939.0 1867,938.2 1868,940.0 1869,941.0 1870,939.8 1871,938.9 1872,939.0 1873,939.5 1874,940.2 1875,940.7 1876,940.5 1877,939.8 1878,939.8 1879,940.1 1880,939.6 1881,939.5 1882,940.2 1883,940.1 1884,939.0 1885,939.3 1886,939.6 1887,937.7 1888,936.0 1889,934.9 1890,932.6 1891,928.8 1892,926.2 1892.47,926.0 1893,926.6 1894,929.7 1895,933.1 1896,935.6 1897,937.1 1898,937.6 1899,938.5 1900,939.4 1901,939.2 1902,938.6 1903,938.4 1904,938.7 1905,939.2 1906,939.6 1907,939.6 1908,939.6 1909,940.1 1910,940.2 1911,940.1 1912,939.7 1913,939.5 1914,939.7 1915,939.6 1916,939.2 1917,938.3 1918,938.2 1919,940.1 1920,941.1 1921,940.9 1922,940.5 1923,940.1 1924,939.2 1925,939.0 1926,940.4 1927,941.3 1928,941.4 1929,941.4 1930,940.4 1931,939.4 1932,940.2 1933,940.5 1934,939.8 1935,938.9 1936,939.3 1937,939.9 1938,939.2 1939,939.6 1940,940.3 1941,939.7 1942,939.0 1943,938.8 1944,938.1 1945,937.3 1946,937.0 1947,936.1 1948,933.2 1949,929.8 1950,927.1 1951,925.1 1951.25,924.7 1952,926.2 1953,928.8 1954,930.8 1955,932.9 1956,935.6 1957,937.9 1958,939.0 1959,939.1 1960,938.7 1961,938.3 1962,937.6 1963,937.7 1964,938.1 1965,937.2 1966,935.8 1967,934.3 1968,932.1 1969,929.9 1969.29,928.8 1970,928.6 1971,930.7 1972,934.3 1973,937.3 1974,938.0 1975,938.6 1976,940.7 1977,941.8 1978,941.0 1979,940.7 1980,940.5 1981,939.5 1982,939.1 1983,939.5 1984,940.8 1985,941.4 1986,941.4 1987,941.1 1988,939.8 1989,938.7 1990,939.2 1991,940.6 1992,940.0 1993,939.2 1994,941.0 1995,942.0 1996,941.5 1997,941.0 1998,940.6 1999,940.3 2000,940.0 2001,939.3 2002,938.9 2003,939.8 2004,940.3 2005,939.8 2006,939.9 2007,940.1 2008,939.7 2009,939.4 2010,939.5 2011,939.0 2012,939.0 2013,941.1 2014,942.3 2015,941.2 2016,939.9 2017,939.0 2018,939.0 2019,939.7 2020,939.8 2021,939.4 2022,939.2 2023,939.0 2024,938.4 2025,936.6 2026,934.1 2027,931.4 2028,928.5 2029,926.2 2029.74,925.6 2030,925.8 2031,927.7 2032,930.4 2033,933.2 2034,936.1 2035,938.6 2036,939.5 2037,939.7 2038,940.3 2039,939.6 2040,938.2 2041,937.8 2042,937.7 2043,938.6 2044,939.9 2045,939.6 2046,939.5 2047,940.0 2048,939.2 2049,939.1 2050,940.0 2051,940.3 2052,940.5 2053,940.1 2054,938.7 2055,938.7 2056,940.0 2057,940.1 2058,939.6 2059,939.6 2060,940.0 2061,939.7 2062,938.8 2063,939.8 2064,940.5 2065,939.5 2066,939.6 2067,939.6 2068,937.5 2069,934.3 2070,930.6 2071,925.8 2072,919.5 2073,912.5 2074,906.1 2074.83,903.4 2075,902.7 2076,907.1 2077,916.1 2078,924.2 2079,930.9 2080,935.6 2081,937.0 2082,937.3 2083,937.3 2084,937.8 2085,939.3 2086,939.1 2087,938.0 2088,938.5 2089,940.0 2090,940.9 2091,940.0 2092,938.7 2093,938.9 2094,940.4 2095,941.1 2096,939.6 2097,938.5 2098,939.2 2099,939.5 2100,939.9 2101,940.6 2102,940.1 2103,939.1 2104,939.0 2105,940.0 2106,940.5 2107,939.8 2108,938.7 2109,937.7 2110,937.5 2111,938.4 2112,937.8 2113,937.5 2114,939.3 2115,940.1 2116,938.5 2117,935.9 2118,932.6 2119,928.8 2120,925.9 2121,924.7 2121.26,924.5 2122,924.8 2123,928.4 2124,932.8 2125,935.7 2126,937.7 2127,938.9 2128,938.8 2129,937.4 2130,935.8 2131,934.8 2132,933.7 2133,931.4 2134,929.1 2135,927.2 2135.62,926.9 2136,927.2 2137,928.0 2138,930.6 2139,934.3 2140,935.9 2141,936.8 2142,937.8 2143,938.4 2144,938.9 2145,938.4 2146,937.9 2147,938.7 2148,939.7 2149,939.7 2150,938.9 2151,938.8 2152,939.4 2153,939.3 2154,938.9 2155,938.8 2156,937.8 2157,936.4 2158,935.5 2159,935.2 2160,935.9 2161,936.5 2162,936.9 2163,937.8 2164,939.0 2165,939.3 2166,939.1 2167,939.4 2168,938.8 2169,938.3 2170,938.9 2171,939.8 2172,940.6 2173,940.2 2174,938.9 2175,938.5 2176,938.7 2177,938.6 2178,938.9 2179,938.9 2180,936.0 2181,930.6 2182,926.0 2183,924.2 2183.38,924.5 2184,925.2 2185,927.6 2186,930.2 2187,932.5 2188,935.9 2189,938.8 2190,939.5 2191,939.8 2192,939.7 2193,939.9 2194,940.3 2195,940.0 2196,940.4 2197,940.5 2198,939.7 2199,939.9 2200,940.7 2201,940.3 2202,940.0 2203,941.0 2204,941.5 2205,939.9 2206,938.0 2207,937.8 2208,938.6 2209,939.4 2210,939.2 2211,939.6 2212,941.5 2213,942.6 2214,942.0 2215,940.8 2216,940.2 2217,940.7 2218,941.0 2219,940.7 2220,940.3 2221,940.3 2222,940.5 2223,940.7 2224,941.5 2225,941.0 2226,940.3 2227,940.7 2228,940.3 2229,940.2 2230,941.4 2231,941.1 2232,939.7 2233,940.6 2234,941.9 2235,940.7 2236,939.5 2237,938.6 2238,938.3 2239,939.7 2240,940.6 2241,941.3 2242,942.2 2243,942.2 2244,940.9 2245,938.6 2246,938.3 2247,940.4 2248,941.4 2249,941.4 2250,941.6 2251,942.0 2252,942.5 2253,942.0 2254,941.3 2255,940.9 2256,940.2 2257,939.7 2258,940.0 2259,940.9 2260,940.9 2261,940.1 2262,940.0 2263,941.0 2264,942.4 2265,941.7 2266,939.8 2267,940.4 2268,941.9 2269,942.1 2270,941.1 2271,939.8 2272,940.4 2273,941.5 2274,940.7 2275,939.4 2276,939.6 2277,941.3 2278,942.3 2279,941.2 2280,940.1 2281,939.4 2282,937.4 2283,935.7 2284,935.1 2285,934.5 2285.25,934.3 2286,934.1 2287,934.8 2288,936.4 2289,937.7 2290,938.1 2291,938.8 2292,939.3 2293,938.0 2294,935.7 2295,933.7 2296,931.9 2296.94,931.6 2297,932.8 2298,934.0 2299,934.7 2300,935.5 2301,936.7 2302,937.8 2303,939.1 2304,940.0 2305,939.9 2306,940.3 2307,941.7 2308,942.4 2309,941.9 2310,940.7 2311,940.8 2312,942.1 2313,942.0 2314,940.7 2315,940.0 2316,940.1 2317,940.3 2318,940.5 2319,941.2 2320,941.4 2321,940.9 2322,941.0 2323,942.0 2324,942.0 2325,940.5 2326,939.8"/>
<polyline fill="none" stroke="#1010dc" stroke-width="12.0" stroke-linejoin="round" stroke-linecap="butt" points="156,1116.5 157,1116.4 158,1116.0 159,1116.1 160,1116.4 161,1117.3 162,1118.0 163,1117.2 164,1116.4 165,1116.9 166,1117.4 167,1117.2 168,1117.3 169,1118.1 170,1117.9 171,1117.8 172,1118.6 173,1118.9 174,1118.7 175,1119.1 176,1119.2 177,1118.3 178,1117.9 179,1118.9 180,1119.6 181,1119.4 182,1119.8 183,1119.7 184,1119.0 185,1119.9 186,1120.2 187,1119.3 188,1119.0 189,1119.4 190,1119.8 191,1119.8 192,1120.5 193,1120.5 194,1119.5 195,1119.8 196,1120.2 197,1120.1 198,1120.5 199,1120.1 200,1119.4 201,1119.9 202,1120.4 203,1120.0 204,1120.8 205,1122.8 206,1123.5 207,1122.7 208,1121.3 209,1120.2 210,1121.0 211,1121.9 212,1121.6 213,1121.6 214,1122.8 215,1123.8 216,1123.3 217,1122.4 218,1122.6 219,1123.6 220,1123.5 221,1122.9 222,1122.7 223,1122.8 224,1124.0 225,1124.9 226,1124.5 227,1123.8 228,1123.6 229,1123.4 230,1123.7 231,1124.5 232,1124.6 233,1124.6 234,1125.2 235,1125.8 236,1125.8 237,1124.9 238,1123.7 239,1123.4 240,1123.7 241,1123.8 242,1124.6 243,1125.6 244,1125.6 245,1125.1 246,1124.6 247,1124.3 248,1124.9 249,1126.1 250,1126.6 251,1126.6 252,1126.2 253,1125.7 254,1125.3 255,1125.3 256,1126.3 257,1127.0 258,1126.9 259,1127.2 260,1127.3 261,1127.0 262,1126.6 263,1126.4 264,1126.6 265,1127.2 266,1127.4 267,1126.3 268,1125.1 269,1124.9 270,1125.6 271,1126.3 272,1127.3 273,1127.6 274,1127.0 275,1127.5 276,1127.4 277,1126.1 278,1126.1 279,1126.5 280,1125.8 281,1125.7 282,1126.3 283,1126.0 284,1125.9 285,1126.5 286,1126.6 287,1126.9 288,1127.7 289,1127.0 290,1125.8 291,1126.2 292,1126.6 293,1126.6 294,1127.3 295,1127.8 296,1127.1 297,1126.4 298,1125.7 299,1125.3 300,1125.9 301,1125.8 302,1124.7 303,1124.1 304,1124.2 305,1124.9 306,1125.7 307,1125.5 308,1125.0 309,1125.6 310,1126.2 311,1125.5 312,1125.6 313,1126.3 314,1125.7 315,1125.7 316,1126.1 317,1125.6 318,1125.6 319,1126.1 320,1125.9 321,1125.6 322,1125.9 323,1125.9 324,1124.7 325,1123.7 326,1124.1 327,1124.6 328,1124.8 329,1124.7 330,1124.7 331,1124.5 332,1123.7 333,1123.5 334,1124.0 335,1123.9 336,1123.8 337,1123.8 338,1124.1 339,1124.8 340,1125.5 341,1125.6 342,1124.8 343,1123.7 344,1123.2 345,1122.8 346,1123.2 347,1124.7 348,1125.5 349,1124.8 350,1123.6 351,1122.8 352,1123.1 353,1123.6 354,1123.5 355,1123.2 356,1122.8 357,1122.7 358,1123.5 359,1124.6 360,1123.6 361,1121.6 362,1120.8 363,1121.0 364,1120.5 364.75,1119.3 365,1119.7 366,1121.5 367,1123.1 368,1123.4 369,1122.2 370,1121.2 371,1121.5 372,1122.1 373,1122.4 374,1122.0 375,1122.0 376,1122.8 377,1122.9 378,1122.3 379,1122.0 380,1121.6 381,1122.4 382,1123.5 383,1122.6 384,1122.0 385,1122.6 386,1122.1 387,1121.3 388,1120.6 389,1119.8 390,1119.5 391,1120.7 392,1121.4 393,1120.3 394,1119.4 395,1119.1 396,1117.6 397,1114.7 398,1111.8 399,1108.4 400,1101.0 401,1086.5 402,1064.3 403,1034.0 404,998.3 405,967.5 405.83,957.7 406,958.4 407,976.9 408,1011.7 409,1046.6 410,1073.6 411,1091.9 412,1103.2 413,1108.9 414,1112.4 415,1115.6 416,1116.8 417,1116.5 418,1117.2 419,1119.0 420,1120.2 421,1120.9 422,1121.7 423,1121.0 424,1118.8 425,1118.5 426,1120.0 427,1120.7 428,1121.7 429,1122.2 430,1121.8 431,1121.2 432,1120.7 433,1121.3 434,1121.9 435,1122.8 436,1123.3 437,1122.6 438,1123.0 439,1123.3 440,1122.0 441,1121.2 442,1121.1 443,1120.7 444,1121.0 445,1122.6 446,1123.7 447,1123.0 448,1122.0 449,1121.9 450,1122.1 451,1121.9 452,1121.9 453,1122.3 454,1123.1 455,1123.2 456,1122.4 457,1121.6 458,1122.0 459,1123.4 460,1123.7 461,1123.6 462,1123.9 463,1123.0 464,1122.2 465,1122.4 466,1122.2 467,1122.4 468,1122.5 469,1122.2 470,1122.4 471,1123.2 472,1124.2 473,1124.5 474,1122.9 475,1121.5 476,1121.2 477,1121.3 478,1121.8 479,1122.2 480,1122.4 481,1122.4 482,1122.3 483,1122.7 484,1122.7 485,1122.1 486,1122.9 487,1123.7 488,1123.3 489,1122.9 490,1122.6 491,1121.9 492,1121.8 493,1122.8 494,1123.4 495,1123.1 496,1122.8 497,1123.1 498,1123.6 499,1123.6 500,1122.0 501,1120.3 502,1120.7 503,1121.3 504,1121.2 505,1121.4 506,1121.2 507,1121.1 508,1120.7 509,1119.6 510,1118.9 511,1116.9 512,1112.3 513,1106.5 514,1100.8 515,1096.7 515.72,1095.6 516,1094.9 517,1098.4 518,1104.8 519,1111.0 520,1115.7 521,1117.9 522,1118.5 523,1119.1 524,1119.4 525,1119.9 526,1121.5 527,1122.2 528,1120.7 529,1119.9 530,1120.5 531,1121.0 532,1121.5 533,1122.5 534,1122.7 535,1121.8 536,1121.4 537,1121.7 538,1122.8 539,1123.1 540,1121.8 541,1121.1 542,1121.4 543,1122.2 544,1122.3 545,1121.7 546,1122.4 547,1124.2 548,1123.9 549,1122.2 550,1121.7 551,1122.0 552,1121.9 553,1121.7 554,1122.5 555,1123.4 556,1122.8 557,1122.2 558,1122.5 559,1121.6 560,1121.2 561,1122.7 562,1123.0 563,1122.6 564,1122.9 565,1122.9 566,1122.1 567,1121.3 568,1121.4 569,1122.2 570,1123.2 571,1123.2 572,1122.1 573,1121.1 574,1121.3 575,1121.8 576,1122.2 577,1122.9 578,1122.4 579,1121.9 580,1121.9 581,1121.2 582,1120.6 583,1121.0 584,1121.1 585,1120.6 586,1120.3 587,1119.8 588,1118.8 589,1118.8 590,1118.9 591,1118.6 592,1118.9 593,1118.0 594,1116.1 595,1115.7 596,1115.4 597,1113.7 598,1111.1 599,1105.6 600,1095.5 601,1079.3 602,1053.4 603,1019.1 604,982.8 605,955.4 605.56,950.8 606,954.6 607,979.8 608,1015.8 609,1049.9 610,1076.9 611,1094.9 612,1105.3 613,1111.7 614,1114.6 615,1115.8 616,1117.2 617,1117.5 618,1117.7 619,1118.2 620,1118.4 621,1119.3 622,1120.9 623,1122.1 624,1121.6 625,1120.4 626,1120.6 627,1120.8 628,1119.7 629,1118.4 630,1117.5 631,1116.8 631.95,1116.8 632,1117.4 633,1118.3 634,1118.4 635,1118.8 636,1120.2 637,1120.5 638,1120.5 639,1120.9 640,1120.4 641,1119.7 642,1120.5 643,1122.3 644,1122.7 645,1121.9 646,1121.1 647,1120.9 648,1121.6 649,1122.0 650,1121.9 651,1121.6 652,1121.0 653,1120.7 654,1121.2 655,1121.6 656,1122.2 657,1122.0 658,1120.9 659,1121.7 660,1122.4 661,1122.3 662,1122.2 663,1121.1 664,1120.1 665,1120.5 666,1120.4 667,1120.1 668,1121.3 669,1121.7 670,1121.0 671,1121.2 672,1121.6 673,1121.6 674,1121.9 675,1122.3 676,1122.7 677,1123.0 678,1122.7 679,1122.7 680,1122.0 681,1120.4 682,1120.3 683,1120.7 684,1120.4 684.72,1120.6 685,1120.9 686,1120.8 687,1120.9 688,1121.4 689,1121.5 690,1121.3 691,1120.8 692,1120.1 693,1120.8 694,1122.4 695,1122.3 696,1121.5 697,1121.3 698,1120.5 699,1119.4 700,1118.7 701,1118.9 702,1119.8 703,1119.7 703.76,1118.6 704,1118.1 705,1119.1 706,1119.8 707,1119.7 708,1120.3 709,1121.2 710,1121.4 711,1121.7 712,1122.0 713,1122.2 714,1122.0 715,1122.1 716,1122.8 717,1121.9 718,1121.5 719,1121.6 720,1120.5 721,1121.2 722,1122.5 723,1122.6 724,1122.6 725,1122.6 726,1122.5 727,1123.3 728,1124.4 729,1123.8 730,1122.5 731,1122.9 732,1124.2 733,1124.0 734,1122.8 735,1122.1 736,1121.6 737,1122.8 738,1124.6 739,1124.4 740,1123.2 741,1122.7 742,1123.2 743,1123.8 744,1124.1 745,1124.4 746,1123.5 747,1122.5 748,1122.7 749,1123.0 750,1123.5 751,1124.2 752,1124.0 753,1124.2 754,1124.7 755,1124.5 756,1124.1 757,1123.8 758,1124.5 759,1124.8 760,1124.6 761,1125.0 762,1125.0 763,1125.0 764,1125.5 765,1126.4 766,1127.1 767,1127.3 768,1126.9 769,1124.5 770,1122.3 771,1122.6 772,1124.1 773,1125.7 774,1125.8 775,1125.1 776,1125.2 777,1125.0 778,1124.8 779,1124.8 780,1124.8 781,1125.7 782,1126.7 783,1127.2 784,1126.9 785,1126.5 786,1126.5 787,1126.0 788,1125.3 789,1124.5 790,1124.4 791,1125.0 792,1125.5 793,1125.5 794,1124.2 795,1122.5 795.28,1121.7 796,1121.2 797,1122.1 798,1123.6 799,1124.4 800,1125.1 801,1125.5 802,1125.9 803,1126.3 804,1126.0 805,1125.8 806,1125.5 807,1125.5 808,1125.7 809,1125.3 810,1124.6 811,1124.8 812,1124.8 813,1124.2 814,1123.9 815,1122.7 816,1119.6 817,1114.7 818,1107.0 819,1095.9 820,1082.8 821,1071.1 822,1066.0 823,1070.6 824,1082.4 825,1096.2 826,1107.9 827,1115.8 828,1119.6 829,1121.7 830,1123.5 831,1124.6 832,1126.2 833,1127.3 834,1127.0 835,1126.6 836,1125.6 837,1124.6 838,1124.4 839,1123.2 840,1119.7 841,1114.7 842,1109.8 843,1107.7 843.37,1108.0 844,1107.0 845,1109.5 846,1115.0 847,1119.2 848,1121.6 849,1123.9 850,1126.3 851,1127.5 852,1128.0 853,1129.0 854,1129.5 855,1129.4 856,1128.9 857,1128.4 858,1128.4 859,1128.5 860,1129.3 861,1130.2 862,1130.5 863,1131.2 864,1131.3 865,1130.2 866,1129.2 867,1129.6 868,1130.5 869,1130.7 870,1129.8 871,1129.4 872,1129.7 873,1129.2 874,1128.5 875,1128.6 876,1129.9 877,1131.3 878,1131.0 879,1130.3 880,1130.6 881,1131.1 882,1131.4 883,1131.6 884,1131.8 885,1131.7 886,1130.7 887,1130.8 888,1130.7 889,1130.2 890,1130.5 891,1130.5 892,1130.4 893,1130.9 894,1131.3 895,1131.4 896,1131.5 897,1132.0 898,1131.9 899,1131.8 900,1132.6 901,1132.8 902,1131.9 903,1131.2 904,1131.3 905,1130.7 906,1130.6 907,1132.2 908,1133.4 909,1132.8 910,1131.2 911,1129.9 912,1130.1 913,1130.8 914,1130.5 915,1129.9 916,1129.8 917,1129.5 918,1129.9 919,1130.7 920,1130.4 921,1129.8 922,1130.0 923,1130.7 924,1131.7 925,1132.3 926,1132.0 927,1131.1 928,1131.5 929,1132.5 930,1131.9 931,1131.4 932,1131.5 933,1131.5 934,1132.7 935,1133.4 936,1131.6 937,1129.8 938,1130.9 939,1132.2 940,1132.9 941,1133.1 942,1131.8 943,1131.4 944,1132.2 945,1132.4 946,1132.4 947,1131.9 948,1130.9 949,1130.7 950,1131.1 951,1131.6 952,1132.3 953,1131.7 954,1131.0 955,1131.6 956,1131.4 957,1131.5 958,1132.7 959,1132.4 960,1132.0 961,1131.8 962,1131.2 963,1131.5 964,1131.8 965,1131.6 966,1132.0 967,1132.4 968,1131.5 969,1130.3 970,1130.9 971,1132.3 972,1133.1 973,1132.8 974,1131.7 975,1131.2 976,1132.4 977,1133.3 978,1132.1 979,1131.1 980,1131.3 981,1131.4 982,1130.8 983,1130.2 984,1129.6 985,1129.4 986,1129.1 987,1127.8 988,1126.7 989,1124.9 990,1119.9 991,1111.1 992,1099.3 993,1087.1 994,1078.5 994.67,1077.3 995,1077.5 996,1084.3 997,1096.3 998,1108.0 999,1116.5 1000,1121.0 1001,1124.1 1002,1127.3 1003,1129.2 1004,1130.4 1005,1131.2 1006,1131.0 1007,1130.7 1008,1130.2 1009,1129.5 1010,1129.8 1011,1130.5 1012,1131.7 1013,1132.7 1014,1132.4 1015,1131.1 1016,1130.7 1017,1131.5 1018,1130.9 1019,1130.1 1020,1131.3 1021,1132.2 1022,1132.3 1023,1131.9 1024,1131.3 1025,1131.1 1026,1131.0 1027,1131.4 1028,1132.0 1029,1131.7 1030,1131.6 1031,1132.0 1032,1130.9 1033,1130.0 1034,1131.3 1035,1132.1 1036,1131.4 1037,1130.0 1038,1128.5 1039,1127.5 1040,1126.3 1041,1123.2 1042,1116.8 1043,1105.9 1044,1090.8 1045,1074.4 1046,1060.9 1046.78,1057.1 1047,1057.1 1048,1065.1 1049,1081.3 1050,1097.8 1051,1110.5 1052,1119.0 1053,1124.1 1054,1127.0 1055,1128.0 1056,1128.7 1057,1130.2 1058,1130.7 1059,1130.4 1060,1131.0 1061,1131.6 1062,1131.7 1063,1131.5 1064,1131.3 1065,1131.1 1066,1131.3 1067,1132.0 1068,1131.6 1069,1131.3 1070,1132.1 1071,1132.3 1072,1132.9 1073,1133.4 1074,1132.6 1075,1131.0 1076,1130.0 1077,1129.2 1078,1128.2 1079,1126.3 1080,1123.9 1081,1123.5 1081.18,1124.1 1082,1124.6 1083,1126.3 1084,1126.9 1085,1126.7 1086,1127.4 1087,1126.9 1088,1125.3 1089,1122.1 1090,1115.6 1091,1105.2 1092,1088.6 1093,1065.9 1094,1041.9 1095,1024.5 1095.54,1021.0 1096,1022.7 1097,1039.3 1098,1063.6 1099,1086.1 1100,1103.2 1101,1114.7 1102,1121.6 1103,1126.2 1104,1129.2 1105,1129.9 1106,1129.9 1107,1130.6 1108,1130.8 1109,1130.9 1110,1132.1 1111,1133.1 1112,1132.9 1113,1132.2 1114,1131.7 1115,1132.3 1116,1133.1 1117,1133.5 1118,1133.4 1119,1132.1 1120,1131.5 1121,1133.2 1122,1134.5 1123,1135.0 1124,1135.1 1125,1134.3 1126,1132.9 1127,1132.1 1128,1132.3 1129,1132.2 1130,1132.2 1131,1133.1 1132,1133.9 1133,1133.6 1134,1133.7 1135,1133.9 1136,1133.2 1137,1133.0 1138,1132.7 1139,1132.7 1140,1133.9 1141,1134.8 1142,1134.6 1143,1133.8 1144,1133.7 1145,1133.8 1146,1133.1 1147,1133.3 1148,1133.3 1149,1133.3 1150,1134.7 1151,1135.2 1152,1134.0 1153,1133.5 1154,1133.8 1155,1134.4 1156,1134.8 1157,1133.5 1158,1133.1 1159,1133.6 1160,1133.3 1161,1133.0 1162,1133.1 1163,1133.8 1164,1133.9 1165,1133.5 1166,1133.3 1167,1132.6 1168,1132.4 1169,1133.2 1170,1133.2 1171,1132.4 1172,1130.4 1173,1126.5 1174,1121.8 1175,1116.5 1176,1110.5 1177,1107.4 1177.37,1107.5 1178,1107.1 1179,1111.5 1180,1118.9 1181,1124.7 1182,1128.0 1183,1130.3 1184,1131.4 1185,1132.1 1186,1133.1 1187,1133.3 1188,1132.2 1189,1132.1 1190,1133.1 1191,1133.7 1192,1134.1 1193,1134.0 1194,1133.7 1195,1134.8 1196,1135.9 1197,1134.7 1198,1132.9 1199,1132.8 1200,1134.2 1201,1135.1 1202,1134.4 1203,1133.8 1204,1133.6 1205,1133.5 1206,1133.3 1207,1133.3 1208,1133.2 1209,1133.3 1210,1133.0 1211,1131.5 1212,1129.9 1213,1128.3 1214,1126.0 1215,1122.0 1216,1114.1 1217,1100.4 1218,1082.8 1219,1064.5 1220,1051.6 1220.46,1049.5 1221,1051.6 1222,1066.2 1223,1085.5 1224,1102.7 1225,1115.5 1226,1123.5 1227,1128.1 1228,1130.3 1229,1131.3 1230,1132.2 1231,1133.1 1232,1133.0 1233,1132.0 1234,1131.9 1235,1132.3 1236,1132.4 1237,1132.6 1238,1132.6 1239,1132.8 1240,1133.8 1241,1134.9 1242,1135.4 1243,1135.1 1244,1133.0 1245,1130.3 1246,1129.0 1247,1125.5 1248,1120.1 1249,1116.6 1249.85,1115.8 1250,1116.3 1251,1119.1 1252,1123.4 1253,1128.3 1254,1130.9 1255,1131.1 1256,1132.6 1257,1134.5 1258,1134.9 1259,1134.7 1260,1134.6 1261,1134.5 1262,1134.7 1263,1135.4 1264,1135.2 1265,1134.1 1266,1133.9 1267,1134.9 1268,1134.5 1269,1133.7 1270,1134.3 1271,1134.8 1272,1135.1 1273,1135.8 1274,1135.8 1275,1135.7 1276,1136.3 1277,1136.9 1278,1137.1 1279,1136.6 1280,1135.6 1281,1135.7 1282,1137.1 1283,1137.3 1284,1136.2 1285,1135.4 1286,1135.2 1287,1135.3 1288,1135.3 1289,1134.8 1290,1134.8 1291,1135.2 1292,1134.8 1293,1134.9 1294,1135.9 1295,1136.1 1296,1135.3 1297,1134.5 1298,1133.7 1299,1132.7 1300,1131.3 1301,1128.3 1302,1122.5 1303,1113.9 1304,1102.6 1305,1089.2 1306,1077.5 1306.96,1072.8 1307,1072.0 1308,1076.8 1309,1089.0 1310,1103.1 1311,1115.6 1312,1124.1 1313,1128.3 1314,1130.9 1315,1132.7 1316,1133.8 1317,1134.4 1318,1134.5 1319,1134.6 1320,1135.4 1321,1136.2 1322,1136.4 1323,1136.3 1324,1136.4 1325,1136.5 1326,1136.0 1327,1134.9 1328,1135.1 1329,1136.1 1330,1136.0 1331,1135.5 1332,1135.5 1333,1135.8 1334,1136.5 1335,1137.0 1336,1136.8 1337,1137.5 1338,1138.8 1339,1138.4 1340,1137.0 1341,1136.2 1342,1137.2 1343,1137.4 1344,1135.9 1345,1134.6 1346,1133.0 1347,1130.8 1348,1128.4 1349,1125.2 1350,1122.0 1351,1120.7 1351.05,1120.5 1352,1121.8 1353,1125.2 1354,1128.1 1355,1131.3 1356,1134.3 1357,1135.4 1358,1135.8 1359,1136.3 1360,1135.8 1361,1136.2 1362,1136.8 1363,1136.0 1364,1136.7 1365,1138.3 1366,1138.3 1367,1137.5 1368,1137.4 1369,1137.0 1370,1136.9 1371,1137.7 1372,1137.4 1373,1137.2 1374,1138.2 1375,1138.4 1376,1138.1 1377,1138.0 1378,1137.3 1379,1136.0 1380,1136.2 1381,1137.8 1382,1138.4 1383,1138.4 1384,1138.5 1385,1137.7 1386,1137.4 1387,1137.7 1388,1137.1 1389,1136.8 1390,1137.2 1391,1137.4 1392,1138.1 1393,1138.3 1394,1137.8 1395,1138.1 1396,1138.4 1397,1138.1 1398,1138.4 1399,1138.5 1400,1138.1 1401,1138.9 1402,1139.7 1403,1138.1 1404,1136.6 1405,1136.8 1406,1137.8 1407,1138.8 1408,1138.7 1409,1137.3 1410,1136.4 1411,1137.8 1412,1138.8 1413,1137.9 1414,1137.9 1415,1138.8 1416,1139.1 1417,1139.2 1418,1139.5 1419,1139.5 1420,1139.1 1421,1138.5 1422,1137.9 1423,1137.4 1424,1137.5 1425,1137.2 1426,1136.4 1427,1136.6 1428,1136.6 1429,1136.6 1430,1137.6 1431,1138.5 1432,1137.2 1433,1135.8 1434,1135.2 1435,1132.5 1436,1127.4 1437,1121.5 1438,1112.9 1439,1101.8 1440,1094.5 1440.56,1095.0 1441,1096.4 1442,1101.7 1443,1110.7 1444,1120.3 1445,1127.8 1446,1132.1 1447,1133.9 1448,1134.2 1449,1134.9 1450,1137.1 1451,1138.3 1452,1137.4 1453,1137.2 1454,1137.7 1455,1136.4 1456,1136.1 1457,1137.9 1458,1139.1 1459,1139.0 1460,1138.2 1461,1138.0 1462,1138.3 1463,1138.6 1464,1138.5 1465,1138.4 1466,1138.4 1467,1138.0 1468,1137.8 1469,1138.4 1470,1138.6 1471,1137.9 1472,1136.9 1473,1136.3 1474,1134.7 1475,1132.1 1476,1129.7 1477,1125.4 1478,1121.1 1479,1119.3 1479.31,1118.9 1480,1119.6 1481,1122.7 1482,1126.3 1483,1131.2 1484,1136.0 1485,1137.5 1486,1137.2 1487,1137.7 1488,1138.2 1489,1138.1 1490,1137.1 1491,1137.0 1492,1137.8 1493,1138.3 1494,1138.9 1495,1139.1 1496,1138.3 1497,1137.6 1498,1137.2 1499,1135.8 1500,1134.2 1501,1132.2 1502,1127.5 1503,1121.9 1504,1117.0 1505,1112.8 1505.69,1111.0 1506,1111.3 1507,1115.5 1508,1121.3 1509,1127.1 1510,1131.3 1511,1134.4 1512,1136.8 1513,1137.6 1514,1137.9 1515,1138.6 1516,1138.5 1517,1138.5 1518,1139.4 1519,1139.5 1520,1138.9 1521,1138.7 1522,1139.6 1523,1140.4 1524,1140.1 1525,1139.8 1526,1139.7 1527,1139.5 1528,1139.4 1529,1139.5 1530,1140.2 1531,1140.7 1532,1140.5 1533,1140.3 1534,1139.8 1535,1139.0 1536,1139.1 1537,1139.5 1538,1139.2 1539,1138.9 1540,1139.2 1541,1140.0 1542,1140.4 1543,1140.9 1544,1141.2 1545,1140.5 1546,1139.8 1547,1140.2 1548,1141.0 1549,1141.1 1550,1140.6 1551,1140.2 1552,1139.5 1553,1138.9 1554,1139.2 1555,1139.7 1556,1139.5 1557,1139.7 1558,1139.8 1559,1139.1 1560,1139.2 1561,1140.6 1562,1141.2 1563,1141.1 1564,1141.2 1565,1141.4 1566,1140.6 1567,1139.9 1568,1140.4 1569,1140.3 1570,1139.5 1571,1139.6 1572,1139.7 1573,1139.1 1574,1139.2 1575,1139.5 1576,1140.5 1577,1140.6 1578,1139.4 1579,1139.0 1580,1139.5 1581,1139.7 1582,1139.9 1583,1140.5 1584,1140.1 1585,1139.5 1586,1139.8 1587,1139.9 1588,1140.4 1589,1140.7 1590,1140.1 1591,1140.0 1592,1140.1 1593,1140.7 1594,1141.7 1595,1141.1 1596,1140.2 1597,1141.3 1598,1141.6 1599,1140.7 1600,1140.7 1601,1140.6 1602,1140.0 1603,1139.7 1604,1139.9 1605,1138.9 1606,1138.6 1607,1140.1 1608,1140.8 1609,1140.6 1610,1140.9 1611,1141.1 1612,1140.9 1613,1141.1 1614,1140.5 1615,1138.8 1616,1137.6 1617,1137.2 1618,1137.0 1619,1136.3 1620,1132.1 1621,1125.0 1622,1116.1 1623,1104.2 1624,1093.8 1624.93,1091.5 1625,1092.6 1626,1097.0 1627,1107.0 1628,1117.4 1629,1125.5 1630,1131.3 1631,1134.7 1632,1136.7 1633,1138.9 1634,1140.2 1635,1139.3 1636,1138.9 1637,1139.8 1638,1141.0 1639,1141.1 1640,1140.6 1641,1140.2 1642,1139.4 1643,1139.7 1644,1140.1 1645,1139.7 1646,1140.2 1647,1140.8 1648,1140.4 1649,1139.8 1650,1138.8 1651,1137.9 1652,1137.0 1653,1135.3 1654,1133.8 1655,1132.0 1656,1126.9 1657,1118.5 1658,1108.4 1659,1097.2 1660,1089.9 1660.34,1090.2 1661,1092.6 1662,1100.9 1663,1112.5 1664,1122.9 1665,1128.7 1666,1132.3 1667,1135.5 1668,1137.6 1669,1138.6 1670,1139.5 1671,1139.8 1672,1139.4 1673,1139.5 1674,1139.8 1675,1139.8 1676,1140.0 1677,1139.3 1678,1138.8 1679,1140.1 1680,1140.8 1681,1140.5 1682,1140.5 1683,1139.9 1684,1139.5 1685,1139.9 1686,1139.5 1687,1139.1 1688,1139.2 1689,1138.1 1690,1135.7 1691,1133.1 1692,1129.2 1693,1123.4 1694,1119.8 1694.40,1119.6 1695,1119.9 1696,1123.0 1697,1128.1 1698,1132.8 1699,1135.6 1700,1136.8 1701,1137.8 1702,1138.9 1703,1139.4 1704,1140.0 1705,1140.8 1706,1141.2 1707,1141.0 1708,1140.9 1709,1140.9 1710,1141.1 1711,1141.4 1712,1140.9 1713,1140.0 1714,1139.8 1715,1140.0 1716,1140.4 1717,1140.4 1718,1139.9 1719,1139.6 1720,1140.3 1721,1141.1 1722,1141.1 1723,1141.4 1724,1141.8 1725,1141.8 1726,1141.0 1727,1139.6 1728,1138.9 1729,1139.2 1730,1140.3 1731,1141.2 1732,1141.0 1733,1139.8 1734,1138.3 1735,1136.4 1736,1133.8 1737,1131.6 1738,1129.4 1739,1126.9 1739.83,1126.6 1740,1127.1 1741,1128.2 1742,1130.8 1743,1134.6 1744,1138.2 1745,1139.5 1746,1140.2 1747,1141.4 1748,1141.4 1749,1140.6 1750,1140.5 1751,1141.3 1752,1142.1 1753,1142.3 1754,1141.5 1755,1140.1 1756,1139.5 1757,1140.1 1758,1141.1 1759,1141.1 1760,1140.6 1761,1140.4 1762,1140.9 1763,1141.4 1764,1140.7 1765,1139.6 1766,1140.1 1767,1140.8 1768,1140.6 1769,1140.4 1770,1139.6 1771,1139.5 1772,1140.6 1773,1140.9 1774,1140.6 1775,1140.2 1776,1140.6 1777,1141.3 1778,1140.5 1779,1139.1 1780,1137.3 1781,1134.8 1782,1132.5 1783,1129.6 1784,1125.1 1785,1120.8 1785.25,1119.9 1786,1121.0 1787,1124.5 1788,1128.7 1789,1133.1 1790,1136.4 1791,1138.4 1792,1139.2 1793,1138.4 1794,1138.6 1795,1139.7 1796,1139.7 1797,1140.1 1798,1141.5 1799,1142.1 1800,1141.4 1801,1140.4 1802,1139.2 1803,1139.2 1804,1140.5 1805,1141.3 1806,1140.8 1807,1140.0 1808,1139.3 1809,1139.0 1810,1137.6 1811,1133.9 1812,1129.6 1813,1124.2 1814,1116.5 1815,1108.4 1816,1103.6 1816.31,1103.1 1817,1104.0 1818,1110.0 1819,1118.3 1820,1126.9 1821,1133.7 1822,1136.5 1823,1136.8 1824,1137.8 1825,1138.8 1826,1139.0 1827,1139.7 1828,1140.7 1829,1139.9 1830,1139.8 1831,1141.6 1832,1141.9 1833,1140.2 1834,1139.5 1835,1140.7 1836,1141.0 1837,1140.5 1838,1140.1 1839,1139.9 1840,1140.2 1841,1140.5 1842,1140.8 1843,1141.2 1844,1141.6 1845,1141.6 1846,1141.1 1847,1141.0 1848,1141.3 1849,1141.0 1850,1139.8 1851,1139.3 1852,1139.9 1853,1140.6 1854,1141.1 1855,1140.3 1856,1137.9 1857,1135.9 1858,1135.8 1859,1135.3 1860,1133.7 1860.07,1133.0 1861,1133.4 1862,1134.9 1863,1136.5 1864,1136.8 1865,1137.0 1866,1138.7 1867,1140.0 1868,1139.4 1869,1139.0 1870,1140.0 1871,1140.7 1872,1142.0 1873,1143.2 1874,1142.9 1875,1142.3 1876,1141.4 1877,1140.3 1878,1140.0 1879,1140.5 1880,1141.2 1881,1141.2 1882,1141.1 1883,1141.0 1884,1141.1 1885,1141.0 1886,1141.4 1887,1142.9 1888,1143.0 1889,1142.1 1890,1142.0 1891,1142.1 1892,1141.6 1893,1140.8 1894,1140.8 1895,1141.0 1896,1140.4 1897,1139.5 1898,1138.8 1899,1137.9 1900,1135.8 1901,1132.9 1901.82,1131.9 1902,1133.2 1903,1134.8 1904,1135.7 1905,1137.4 1906,1139.5 1907,1140.9 1908,1141.4 1909,1141.5 1910,1141.1 1911,1140.7 1912,1141.0 1913,1141.1 1914,1141.1 1915,1141.1 1916,1141.4 1917,1142.0 1918,1141.5 1919,1140.9 1920,1141.0 1921,1140.5 1922,1140.3 1923,1140.7 1924,1141.0 1925,1140.9 1926,1141.3 1927,1141.5 1928,1140.2 1929,1140.5 1930,1141.6 1931,1141.1 1932,1140.2 1933,1140.3 1934,1141.0 1935,1140.7 1936,1140.6 1937,1140.4 1938,1139.9 1939,1140.3 1940,1140.9 1941,1140.4 1942,1139.5 1943,1139.5 1944,1139.4 1945,1140.0 1946,1141.2 1947,1140.7 1948,1139.0 1949,1137.0 1950,1134.8 1951,1131.8 1952,1127.5 1953,1123.5 1954,1120.8 1954.59,1120.4 1955,1120.5 1956,1122.6 1957,1127.7 1958,1132.7 1959,1134.7 1960,1137.1 1961,1139.2 1962,1139.0 1963,1138.8 1964,1138.9 1965,1138.9 1966,1138.7 1967,1138.9 1968,1140.0 1969,1138.9 1970,1136.1 1971,1134.3 1972,1131.7 1973,1129.3 1974,1128.1 1974.30,1127.3 1975,1127.2 1976,1129.5 1977,1132.1 1978,1135.1 1979,1138.6 1980,1140.6 1981,1140.9 1982,1141.9 1983,1142.6 1984,1141.4 1985,1140.9 1986,1141.1 1987,1140.5 1988,1140.2 1989,1140.3 1990,1140.8 1991,1140.4 1992,1139.0 1993,1139.4 1994,1140.9 1995,1141.8 1996,1141.6 1997,1141.1 1998,1141.6 1999,1141.9 2000,1141.6 2001,1141.4 2002,1140.8 2003,1140.6 2004,1140.3 2005,1140.0 2006,1140.1 2007,1140.8 2008,1142.1 2009,1143.5 2010,1144.3 2011,1142.4 2012,1140.7 2013,1141.1 2014,1141.4 2015,1142.4 2016,1142.2 2017,1140.7 2018,1140.6 2019,1140.9 2020,1141.4 2021,1142.4 2022,1142.3 2023,1141.3 2024,1140.1 2025,1139.8 2026,1140.2 2027,1140.5 2028,1139.3 2029,1137.1 2030,1135.4 2031,1134.0 2032,1130.6 2033,1124.6 2034,1118.9 2035,1116.6 2035.08,1116.6 2036,1119.0 2037,1123.8 2038,1128.1 2039,1132.7 2040,1136.6 2041,1138.6 2042,1139.7 2043,1140.3 2044,1140.8 2045,1140.9 2046,1140.3 2047,1140.5 2048,1141.3 2049,1141.9 2050,1142.3 2051,1141.4 2052,1140.2 2053,1141.0 2054,1141.7 2055,1140.7 2056,1140.5 2057,1140.9 2058,1140.3 2059,1140.2 2060,1140.8 2061,1140.5 2062,1139.9 2063,1140.3 2064,1141.1 2065,1140.6 2066,1139.5 2067,1138.6 2068,1138.3 2069,1138.6 2070,1137.3 2071,1134.1 2072,1131.2 2073,1128.3 2074,1124.3 2075,1120.5 2075.83,1118.5 2076,1117.7 2077,1119.8 2078,1124.5 2079,1129.9 2080,1133.8 2081,1135.9 2082,1137.9 2083,1139.5 2084,1140.3 2085,1141.1 2086,1140.7 2087,1139.5 2088,1140.1 2089,1141.5 2090,1141.2 2091,1140.4 2092,1140.0 2093,1140.3 2094,1141.4 2095,1142.8 2096,1142.4 2097,1140.6 2098,1140.3 2099,1140.3 2100,1140.6 2101,1141.2 2102,1140.8 2103,1140.7 2104,1140.4 2105,1140.5 2106,1140.8 2107,1139.7 2108,1137.4 2109,1133.8 2110,1130.2 2111,1127.7 2111.90,1127.0 2112,1127.7 2113,1129.4 2114,1131.7 2115,1134.4 2116,1137.0 2117,1138.8 2118,1139.4 2119,1139.7 2120,1139.9 2121,1139.9 2122,1141.1 2123,1141.7 2124,1141.3 2125,1141.4 2126,1141.6 2127,1140.9 2128,1139.5 2129,1138.6 2130,1137.7 2131,1134.3 2132,1130.0 2133,1125.6 2134,1119.8 2135,1115.6 2135.28,1115.9 2136,1118.1 2137,1123.0 2138,1127.8 2139,1132.1 2140,1135.2 2141,1137.0 2142,1138.5 2143,1139.8 2144,1140.0 2145,1139.2 2146,1139.0 2147,1139.5 2148,1140.9 2149,1141.8 2150,1140.7 2151,1140.1 2152,1140.7 2153,1140.7 2154,1140.5 2155,1140.6 2156,1139.4 2157,1137.0 2158,1134.5 2159,1131.6 2160,1128.8 2161,1126.5 2162,1125.4 2163,1126.8 2164,1129.5 2165,1132.2 2166,1134.6 2167,1137.2 2168,1139.8 2169,1140.5 2170,1139.9 2171,1140.1 2172,1140.0 2173,1139.6 2174,1140.9 2175,1141.8 2176,1142.4 2177,1142.0 2178,1139.3 2179,1136.8 2180,1135.4 2181,1133.1 2182,1128.6 2183,1122.3 2184,1115.7 2185,1113.1 2185.05,1114.3 2186,1116.5 2187,1121.0 2188,1126.6 2189,1131.2 2190,1134.3 2191,1137.0 2192,1139.7 2193,1140.8 2194,1140.7 2195,1141.0 2196,1141.3 2197,1140.7 2198,1139.2 2199,1138.9 2200,1139.9 2201,1140.8 2202,1141.4 2203,1141.5 2204,1141.5 2205,1141.1 2206,1140.0 2207,1138.9 2208,1138.1 2209,1137.6 2210,1137.0 2211,1135.9 2211.77,1135.5 2212,1136.3 2213,1137.1 2214,1137.7 2215,1139.5 2216,1141.6 2217,1142.1 2218,1141.6 2219,1142.0 2220,1141.5 2221,1139.9 2222,1140.2 2223,1141.8 2224,1142.1 2225,1141.6 2226,1141.2 2227,1140.7 2228,1140.2 2229,1141.3 2230,1142.7 2231,1142.8 2232,1142.2 2233,1141.5 2234,1141.6 2235,1142.3 2236,1142.3 2237,1141.9 2238,1142.1 2239,1142.3 2240,1142.4 2241,1143.2 2242,1143.0 2243,1142.2 2244,1142.3 2245,1142.3 2246,1141.7 2247,1141.3 2248,1141.8 2249,1142.5 2250,1142.7 2251,1141.8 2252,1141.2 2253,1142.1 2254,1141.6 2255,1140.0 2256,1140.7 2257,1141.3 2258,1140.9 2259,1141.3 2260,1142.1 2261,1142.1 2262,1141.6 2263,1142.1 2264,1142.3 2265,1140.8 2266,1139.7 2267,1140.2 2268,1140.9 2269,1140.6 2270,1139.9 2271,1140.2 2272,1141.2 2273,1142.4 2274,1142.9 2275,1142.0 2276,1141.5 2277,1141.1 2278,1141.4 2279,1142.3 2280,1142.2 2281,1142.7 2282,1143.2 2283,1141.9 2284,1140.8 2285,1140.3 2286,1141.2 2287,1142.0 2288,1141.3 2289,1141.7 2290,1142.9 2291,1141.7 2292,1139.1 2293,1136.6 2294,1133.7 2295,1130.4 2296,1126.9 2297,1124.3 2297.61,1123.7 2298,1123.9 2299,1127.1 2300,1131.9 2301,1135.3 2302,1136.1 2303,1137.2 2304,1139.3 2305,1141.0 2306,1141.4 2307,1141.4 2308,1142.1 2309,1142.0 2310,1141.5 2311,1141.9 2312,1142.5 2313,1142.5 2314,1142.2 2315,1141.5 2316,1141.0 2317,1141.4 2318,1141.4 2319,1141.3 2320,1141.7 2321,1141.9 2322,1142.4 2323,1142.9 2324,1142.5 2325,1141.5 2326,1141.4"/>
<polyline fill="none" stroke="#0a0a0a" stroke-width="12.0" stroke-linejoin="round" stroke-linecap="butt" points="156,1343.3 157,1344.4 158,1344.7 159,1343.6 160,1343.3 161,1343.8 162,1343.8 163,1344.2 164,1344.7 165,1344.5 166,1343.4 167,1342.5 168,1343.2 169,1343.3 170,1342.7 171,1342.6 172,1342.2 173,1341.6 174,1341.6 175,1342.0 176,1342.2 177,1342.9 178,1343.9 179,1343.5 180,1343.0 181,1343.9 182,1344.5 183,1344.1 184,1343.7 185,1343.4 186,1343.4 187,1344.3 188,1344.5 189,1344.0 190,1343.8 191,1344.3 192,1344.8 193,1343.7 194,1342.8 195,1343.8 196,1344.9 197,1344.7 198,1343.5 199,1343.6 200,1344.6 201,1344.2 202,1343.9 203,1343.9 204,1343.6 205,1343.4 206,1343.1 207,1343.2 208,1343.6 209,1344.9 210,1345.6 211,1344.9 212,1344.8 213,1344.7 214,1343.7 215,1343.4 216,1343.6 217,1343.9 218,1344.5 219,1344.5 220,1344.3 221,1344.9 222,1344.9 223,1344.8 224,1344.8 225,1345.0 226,1345.9 227,1346.3 228,1345.9 229,1346.3 230,1346.8 231,1346.1 232,1345.6 233,1345.9 234,1345.6 235,1344.7 236,1344.3 237,1344.6 238,1344.8 239,1344.5 240,1343.6 241,1344.3 242,1346.5 243,1347.1 244,1346.3 245,1344.9 246,1344.1 247,1344.7 248,1344.4 249,1343.5 250,1343.7 251,1344.7 252,1345.6 253,1346.7 254,1347.7 255,1347.4 256,1346.4 257,1345.7 258,1345.4 259,1345.8 260,1345.9 261,1345.9 262,1346.2 263,1345.9 264,1345.9 265,1346.6 266,1345.9 267,1344.4 268,1344.8 269,1345.6 270,1345.7 271,1346.3 272,1346.8 273,1346.5 274,1346.5 275,1347.0 276,1347.0 277,1347.4 278,1348.2 279,1347.5 280,1346.6 281,1346.8 282,1346.6 283,1345.8 284,1345.8 285,1346.1 286,1345.9 287,1347.0 288,1348.4 289,1347.8 290,1346.5 291,1345.9 292,1346.4 293,1346.4 294,1345.1 295,1345.6 296,1347.0 297,1347.2 298,1347.5 299,1347.2 300,1346.3 301,1346.8 302,1347.5 303,1346.9 304,1346.7 305,1346.8 306,1346.4 307,1346.4 308,1346.8 309,1346.7 310,1346.8 311,1347.6 312,1348.0 313,1347.0 314,1347.2 315,1348.7 316,1347.6 317,1345.5 318,1345.1 319,1345.6 320,1346.1 321,1345.9 322,1346.4 323,1347.3 324,1346.6 325,1346.4 326,1347.1 327,1347.6 328,1348.0 329,1347.6 330,1346.6 331,1345.9 332,1345.3 333,1345.7 334,1346.7 335,1347.5 336,1346.9 337,1345.9 338,1345.5 339,1345.3 340,1345.3 341,1345.5 342,1345.6 343,1345.6 344,1346.2 345,1346.3 346,1345.3 347,1344.6 348,1345.5 349,1347.4 350,1347.8 351,1346.7 352,1345.7 353,1345.5 354,1346.1 355,1346.3 356,1346.1 357,1344.9 358,1343.2 359,1343.4 360,1344.9 361,1345.4 362,1345.1 363,1345.2 364,1344.9 365,1344.8 366,1345.1 367,1344.4 368,1344.6 369,1346.5 370,1346.9 371,1346.2 372,1345.8 373,1345.0 374,1344.8 375,1345.3 376,1345.5 377,1345.0 378,1344.5 379,1344.6 380,1344.2 381,1345.0 382,1346.5 383,1345.7 384,1344.4 385,1343.9 386,1343.3 387,1342.8 388,1342.6 389,1342.8 390,1343.1 391,1343.8 392,1344.1 393,1342.9 394,1341.1 395,1340.1 396,1339.9 397,1339.1 398,1337.3 399,1334.2 400,1328.4 401,1317.4 402,1299.4 403,1272.6 404,1237.0 405,1198.6 406,1170.4 406.50,1165.1 407,1169.1 408,1197.5 409,1236.9 410,1272.8 411,1300.1 412,1317.7 413,1326.7 414,1332.0 415,1336.5 416,1338.5 417,1338.9 418,1339.9 419,1340.6 420,1341.0 421,1342.0 422,1343.3 423,1343.2 424,1342.8 425,1343.1 426,1344.1 427,1344.8 428,1344.0 429,1343.4 430,1343.7 431,1344.2 432,1344.6 433,1344.7 434,1344.4 435,1344.1 436,1344.0 437,1344.6 438,1345.1 439,1344.9 440,1344.5 441,1344.0 442,1343.5 443,1343.3 444,1343.5 445,1342.9 446,1342.1 447,1342.3 448,1342.7 449,1343.2 450,1344.0 451,1344.7 452,1344.3 453,1343.5 454,1343.3 455,1343.3 456,1343.6 457,1343.8 458,1343.7 459,1344.2 460,1344.4 461,1343.8 462,1344.1 463,1344.9 464,1344.3 465,1343.5 466,1343.3 467,1342.3 468,1341.3 469,1340.4 470,1338.6 471,1337.3 471.63,1337.8 472,1338.6 473,1339.2 474,1339.8 475,1340.9 476,1342.2 477,1343.3 478,1343.3 479,1343.2 480,1343.2 481,1342.7 482,1342.2 483,1342.4 484,1343.4 485,1343.9 486,1344.7 487,1345.5 488,1344.6 489,1343.5 490,1343.2 491,1343.3 492,1343.4 493,1343.7 494,1343.9 495,1343.6 496,1343.1 497,1343.0 498,1343.0 499,1343.2 500,1343.1 501,1342.6 502,1342.7 503,1343.6 504,1344.1 505,1343.4 506,1342.4 507,1342.6 508,1342.8 509,1341.5 510,1340.1 511,1338.7 512,1336.3 513,1333.5 514,1330.3 515,1326.7 515.72,1325.4 516,1326.6 517,1329.3 518,1332.8 519,1336.8 520,1339.2 521,1340.0 522,1341.2 523,1343.6 524,1344.6 525,1344.3 526,1343.7 527,1342.4 528,1342.1 529,1342.7 530,1342.4 531,1342.0 532,1342.7 533,1343.2 534,1343.3 535,1343.7 536,1343.2 537,1342.2 538,1341.6 539,1341.9 540,1342.4 541,1342.2 542,1342.8 543,1342.8 544,1342.2 545,1342.6 546,1343.5 547,1344.0 548,1343.5 549,1342.9 550,1343.3 551,1343.3 552,1342.2 553,1342.1 554,1343.5 555,1343.7 556,1342.8 557,1343.2 558,1343.6 559,1343.4 560,1343.0 561,1342.2 562,1342.6 563,1343.2 564,1342.2 565,1342.4 566,1343.2 567,1342.9 568,1342.6 569,1342.2 570,1341.8 571,1342.2 572,1342.0 573,1341.8 574,1342.0 575,1341.9 576,1341.6 577,1341.9 578,1342.7 579,1342.7 580,1341.9 581,1341.3 582,1341.0 583,1340.6 584,1340.8 585,1341.2 586,1340.9 587,1341.1 588,1341.0 589,1340.1 590,1339.1 591,1338.4 592,1338.2 593,1338.3 594,1338.0 595,1336.7 596,1335.7 597,1334.4 598,1331.6 599,1328.7 600,1323.7 601,1312.9 602,1293.5 603,1264.7 604,1230.4 605,1196.4 606,1176.7 606.23,1176.2 607,1184.3 608,1214.4 609,1251.2 610,1282.6 611,1304.6 612,1318.5 613,1326.7 614,1331.5 615,1334.6 616,1335.6 617,1336.4 618,1338.6 619,1339.9 620,1339.5 621,1338.6 622,1338.3 623,1339.3 624,1340.7 625,1340.4 626,1339.5 627,1339.4 628,1339.4 629,1340.1 630,1340.0 631,1338.3 632,1336.5 633,1335.0 633.62,1334.8 634,1335.8 635,1336.8 636,1338.1 637,1339.8 638,1339.7 639,1339.3 640,1341.2 641,1341.5 642,1340.4 643,1341.4 644,1342.9 645,1342.6 646,1341.8 647,1341.8 648,1342.3 649,1342.8 650,1343.3 651,1343.8 652,1343.9 653,1343.4 654,1343.4 655,1343.7 656,1343.7 657,1343.3 658,1342.4 659,1343.2 660,1344.7 661,1344.5 662,1344.1 663,1344.2 664,1343.4 665,1342.9 666,1343.7 667,1344.2 668,1344.2 669,1344.7 670,1344.4 671,1343.6 672,1344.0 673,1345.7 674,1345.6 675,1343.8 676,1343.1 677,1343.6 678,1344.1 679,1344.1 680,1343.7 681,1342.6 682,1341.8 683,1341.8 684,1340.9 684.72,1339.9 685,1339.8 686,1341.1 687,1342.5 688,1343.5 689,1345.1 690,1345.5 691,1344.8 692,1344.5 693,1344.4 694,1344.2 695,1343.4 696,1344.0 697,1345.5 698,1345.3 699,1344.3 700,1343.3 701,1342.6 702,1340.8 703,1338.5 704,1337.7 705,1337.8 705.10,1338.2 706,1339.3 707,1340.1 708,1340.4 709,1341.6 710,1343.2 711,1344.1 712,1344.0 713,1343.8 714,1344.3 715,1344.0 716,1342.6 717,1342.3 718,1343.0 719,1343.5 720,1343.6 721,1343.6 722,1343.7 723,1344.6 724,1345.5 725,1345.2 726,1344.6 727,1345.8 728,1346.3 729,1346.0 730,1346.4 731,1345.7 732,1345.3 733,1346.1 734,1345.8 735,1345.9 736,1347.2 737,1347.2 738,1345.8 739,1345.2 740,1345.6 741,1346.2 742,1345.7 743,1344.7 744,1345.4 745,1346.1 746,1345.9 747,1346.2 748,1346.0 749,1344.8 750,1344.6 751,1345.5 752,1345.9 753,1346.1 754,1347.0 755,1347.5 756,1346.7 757,1346.5 758,1346.8 759,1346.2 760,1346.0 761,1346.5 762,1346.4 763,1346.1 764,1346.6 765,1346.9 766,1347.0 767,1346.7 768,1346.1 769,1346.3 770,1346.4 771,1346.2 772,1345.9 773,1345.9 774,1347.1 775,1348.0 776,1347.8 777,1347.2 778,1346.3 779,1345.9 780,1346.2 781,1346.0 782,1346.2 783,1347.0 784,1347.4 785,1347.3 786,1346.8 787,1346.3 788,1346.4 789,1346.6 790,1346.4 791,1346.0 792,1345.6 793,1344.0 794,1341.9 795,1340.5 795.28,1340.2 796,1341.1 797,1343.0 798,1343.6 799,1344.2 800,1345.8 801,1346.3 802,1345.6 803,1345.1 804,1345.8 805,1347.5 806,1348.0 807,1346.9 808,1346.1 809,1345.6 810,1344.8 811,1344.5 812,1344.8 813,1344.3 814,1342.7 815,1341.5 816,1340.0 817,1335.3 818,1326.5 819,1313.5 820,1296.8 821,1278.7 822,1263.8 822.66,1259.9 823,1261.4 824,1274.0 825,1292.0 826,1309.6 827,1324.5 828,1333.9 829,1338.5 830,1341.0 831,1343.1 832,1344.5 833,1344.8 834,1345.3 835,1345.6 836,1345.3 837,1345.0 838,1343.6 839,1341.5 840,1339.7 841,1335.9 842,1330.9 843,1328.4 843.37,1329.1 844,1329.3 845,1331.4 846,1336.1 847,1340.8 848,1343.9 849,1346.0 850,1347.0 851,1347.7 852,1348.1 853,1348.4 854,1348.5 855,1348.1 856,1348.2 857,1348.9 858,1348.5 859,1348.5 860,1349.4 861,1349.6 862,1349.1 863,1348.3 864,1348.7 865,1349.1 866,1349.2 867,1349.5 868,1349.1 869,1349.0 870,1349.5 871,1349.5 872,1349.2 873,1349.4 874,1349.1 875,1349.4 876,1351.1 877,1351.0 878,1350.4 879,1350.3 880,1349.7 881,1348.7 882,1348.1 883,1348.8 884,1349.8 885,1350.2 886,1350.2 887,1350.2 888,1350.2 889,1350.4 890,1350.4 891,1350.5 892,1350.1 893,1349.2 894,1349.5 895,1350.4 896,1350.0 897,1349.4 898,1349.6 899,1349.9 900,1350.8 901,1351.9 902,1351.6 903,1350.4 904,1350.8 905,1351.4 906,1350.8 907,1350.5 908,1350.0 909,1349.5 910,1349.8 911,1350.7 912,1350.9 913,1350.7 914,1350.9 915,1350.6 916,1349.9 917,1349.0 918,1348.7 919,1349.5 920,1349.9 921,1350.1 922,1349.5 923,1348.7 924,1349.3 925,1350.1 926,1350.3 927,1350.3 928,1350.0 929,1349.7 930,1349.8 931,1349.9 932,1350.1 933,1350.3 934,1350.9 935,1351.2 936,1349.7 937,1349.0 938,1349.9 939,1350.2 940,1350.2 941,1350.3 942,1350.2 943,1349.9 944,1350.3 945,1351.6 946,1351.2 947,1349.6 948,1349.7 949,1350.4 950,1349.6 951,1348.4 952,1348.2 953,1347.0 954,1344.0 955,1340.3 956,1336.8 957,1335.1 957.60,1335.0 958,1334.0 959,1335.9 960,1340.1 961,1343.7 962,1345.9 963,1347.0 964,1347.8 965,1348.4 966,1348.9 967,1349.4 968,1350.2 969,1351.1 970,1350.5 971,1349.9 972,1350.5 973,1351.3 974,1351.0 975,1349.6 976,1348.9 977,1349.1 978,1349.6 979,1350.4 980,1351.4 981,1350.9 982,1348.7 983,1347.0 984,1346.9 985,1347.4 986,1347.6 987,1346.5 988,1344.1 989,1341.1 990,1334.2 991,1322.7 992,1310.6 993,1299.1 994,1290.6 994.34,1290.7 995,1294.5 996,1303.9 997,1315.2 998,1326.4 999,1336.0 1000,1342.1 1001,1345.4 1002,1347.5 1003,1348.4 1004,1349.4 1005,1349.7 1006,1349.5 1007,1350.5 1008,1351.4 1009,1350.6 1010,1349.9 1011,1350.4 1012,1350.8 1013,1351.3 1014,1351.4 1015,1351.2 1016,1351.1 1017,1351.0 1018,1351.2 1019,1351.2 1020,1351.3 1021,1351.1 1022,1351.0 1023,1351.1 1024,1350.7 1025,1350.9 1026,1350.9 1027,1350.7 1028,1350.6 1029,1350.5 1030,1350.4 1031,1349.1 1032,1348.4 1033,1349.0 1034,1349.7 1035,1350.3 1036,1350.2 1037,1349.2 1038,1348.7 1039,1348.6 1040,1347.2 1041,1344.7 1042,1341.7 1043,1337.6 1044,1330.7 1045,1319.3 1046,1305.4 1047,1294.0 1047.78,1291.3 1048,1292.4 1049,1299.4 1050,1312.0 1051,1325.0 1052,1334.5 1053,1340.3 1054,1343.6 1055,1345.9 1056,1347.7 1057,1348.9 1058,1349.5 1059,1349.6 1060,1350.4 1061,1350.8 1062,1350.4 1063,1350.5 1064,1350.5 1065,1350.3 1066,1350.9 1067,1350.9 1068,1350.1 1069,1349.9 1070,1350.7 1071,1351.2 1072,1350.5 1073,1350.2 1074,1350.0 1075,1349.6 1076,1349.9 1077,1349.9 1078,1348.9 1079,1347.4 1080,1345.4 1081,1344.5 1081.18,1344.9 1082,1344.6 1083,1344.6 1084,1345.5 1085,1346.4 1086,1347.0 1087,1347.2 1088,1347.0 1089,1345.9 1090,1343.3 1091,1338.8 1092,1331.6 1093,1319.0 1094,1298.6 1095,1268.7 1096,1236.6 1097,1214.8 1097.55,1210.9 1098,1213.2 1099,1234.6 1100,1265.7 1101,1295.2 1102,1316.9 1103,1330.3 1104,1338.0 1105,1342.5 1106,1345.4 1107,1347.1 1108,1347.3 1109,1347.6 1110,1348.9 1111,1349.6 1112,1349.8 1113,1350.8 1114,1351.4 1115,1351.9 1116,1352.5 1117,1351.6 1118,1351.3 1119,1351.9 1120,1352.4 1121,1352.5 1122,1351.6 1123,1351.8 1124,1353.0 1125,1352.9 1126,1352.8 1127,1353.3 1128,1353.4 1129,1352.8 1130,1351.9 1131,1352.0 1132,1352.7 1133,1353.5 1134,1353.5 1135,1352.6 1136,1352.7 1137,1353.0 1138,1352.3 1139,1351.1 1140,1351.2 1141,1351.9 1142,1352.0 1143,1352.1 1144,1352.6 1145,1352.6 1146,1351.7 1147,1351.2 1148,1352.0 1149,1352.7 1150,1352.8 1151,1353.4 1152,1353.7 1153,1352.8 1154,1352.2 1155,1352.5 1156,1352.7 1157,1352.1 1158,1351.6 1159,1351.7 1160,1351.8 1161,1352.2 1162,1352.5 1163,1352.1 1164,1352.4 1165,1353.6 1166,1354.2 1167,1354.3 1168,1353.5 1169,1352.4 1170,1352.2 1171,1351.9 1172,1351.1 1173,1349.5 1174,1346.9 1175,1343.6 1176,1338.4 1177,1333.0 1178,1331.6 1178.04,1332.2 1179,1333.9 1180,1338.7 1181,1343.6 1182,1347.8 1183,1350.9 1184,1351.9 1185,1351.8 1186,1352.0 1187,1352.0 1188,1351.8 1189,1352.5 1190,1352.7 1191,1352.3 1192,1352.4 1193,1352.0 1194,1351.9 1195,1352.5 1196,1352.7 1197,1353.6 1198,1354.0 1199,1353.4 1200,1352.8 1201,1353.2 1202,1354.3 1203,1354.1 1204,1352.2 1205,1351.1 1206,1351.9 1207,1352.6 1208,1352.8 1209,1352.3 1210,1351.0 1211,1350.0 1212,1349.7 1213,1349.1 1214,1347.0 1215,1343.0 1216,1336.3 1217,1326.4 1218,1314.9 1219,1305.3 1219.79,1302.4 1220,1302.8 1221,1309.0 1222,1319.7 1223,1330.7 1224,1339.1 1225,1344.6 1226,1347.8 1227,1349.2 1228,1350.1 1229,1352.1 1230,1352.7 1231,1352.4 1232,1353.6 1233,1354.3 1234,1353.5 1235,1353.1 1236,1352.8 1237,1352.4 1238,1352.3 1239,1352.7 1240,1352.4 1241,1351.4 1242,1350.9 1243,1350.4 1244,1349.0 1245,1346.6 1246,1343.2 1247,1338.0 1248,1331.8 1249,1326.9 1249.85,1325.2 1250,1325.1 1251,1328.4 1252,1333.9 1253,1339.7 1254,1344.1 1255,1348.0 1256,1351.4 1257,1352.1 1258,1351.9 1259,1352.9 1260,1353.2 1261,1352.9 1262,1353.7 1263,1355.0 1264,1354.9 1265,1353.8 1266,1353.7 1267,1355.1 1268,1355.4 1269,1354.4 1270,1354.3 1271,1355.2 1272,1355.8 1273,1355.7 1274,1355.0 1275,1354.5 1276,1354.3 1277,1354.4 1278,1355.1 1279,1355.4 1280,1354.4 1281,1353.7 1282,1354.4 1283,1354.6 1284,1354.1 1285,1353.9 1286,1353.6 1287,1353.9 1288,1355.0 1289,1354.7 1290,1354.0 1291,1354.1 1292,1354.2 1293,1354.6 1294,1354.6 1295,1354.1 1296,1354.0 1297,1353.5 1298,1352.6 1299,1351.2 1300,1349.8 1301,1348.1 1302,1344.0 1303,1337.5 1304,1329.1 1305,1320.8 1306,1316.9 1306.30,1317.1 1307,1318.1 1308,1324.6 1309,1333.2 1310,1340.9 1311,1346.1 1312,1349.3 1313,1351.3 1314,1352.2 1315,1353.2 1316,1353.7 1317,1353.8 1318,1354.2 1319,1354.5 1320,1354.4 1321,1353.7 1322,1353.8 1323,1354.6 1324,1354.9 1325,1355.5 1326,1356.4 1327,1356.0 1328,1355.7 1329,1355.9 1330,1354.6 1331,1354.4 1332,1355.9 1333,1355.9 1334,1355.4 1335,1355.3 1336,1355.6 1337,1356.4 1338,1356.8 1339,1356.2 1340,1356.0 1341,1355.9 1342,1355.6 1343,1355.1 1344,1354.0 1345,1352.9 1346,1351.6 1347,1349.3 1348,1346.9 1349,1343.9 1350,1340.4 1351,1339.1 1351.05,1339.7 1352,1340.8 1353,1343.5 1354,1347.2 1355,1350.7 1356,1352.6 1357,1353.4 1358,1353.8 1359,1354.5 1360,1354.8 1361,1354.9 1362,1355.5 1363,1355.3 1364,1354.4 1365,1354.6 1366,1356.0 1367,1356.8 1368,1356.8 1369,1356.3 1370,1355.7 1371,1355.5 1372,1355.4 1373,1354.5 1374,1354.2 1375,1355.3 1376,1356.3 1377,1356.5 1378,1355.6 1379,1355.0 1380,1355.0 1381,1355.4 1382,1356.4 1383,1356.9 1384,1356.7 1385,1356.1 1386,1356.4 1387,1356.8 1388,1355.8 1389,1354.6 1390,1354.5 1391,1355.6 1392,1355.5 1393,1354.9 1394,1355.9 1395,1357.4 1396,1357.4 1397,1356.5 1398,1356.5 1399,1356.9 1400,1356.8 1401,1356.0 1402,1355.6 1403,1356.8 1404,1357.1 1405,1356.4 1406,1356.2 1407,1356.4 1408,1356.8 1409,1356.2 1410,1355.1 1411,1355.2 1412,1355.9 1413,1356.1 1414,1355.9 1415,1355.3 1416,1354.7 1417,1354.9 1418,1355.6 1419,1356.6 1420,1357.2 1421,1356.7 1422,1355.7 1423,1355.7 1424,1356.5 1425,1356.9 1426,1356.8 1427,1356.6 1428,1356.7 1429,1356.7 1430,1355.9 1431,1355.1 1432,1354.9 1433,1354.6 1434,1352.5 1435,1348.6 1436,1343.4 1437,1335.8 1438,1325.4 1439,1314.9 1440,1307.8 1440.56,1305.8 1441,1305.6 1442,1313.3 1443,1324.7 1444,1334.8 1445,1343.0 1446,1348.9 1447,1352.1 1448,1353.2 1449,1354.7 1450,1356.1 1451,1355.6 1452,1355.0 1453,1355.8 1454,1356.5 1455,1356.0 1456,1355.1 1457,1354.6 1458,1355.4 1459,1356.5 1460,1355.9 1461,1355.1 1462,1355.5 1463,1356.7 1464,1357.2 1465,1356.4 1466,1355.7 1467,1356.0 1468,1356.2 1469,1356.5 1470,1356.6 1471,1355.6 1472,1355.2 1473,1355.1 1474,1352.8 1475,1350.1 1476,1346.5 1477,1342.0 1478,1338.4 1479,1335.4 1479.31,1333.6 1480,1334.3 1481,1339.7 1482,1346.1 1483,1350.1 1484,1352.4 1485,1354.5 1486,1355.7 1487,1356.2 1488,1356.6 1489,1356.4 1490,1356.6 1491,1357.1 1492,1356.9 1493,1356.8 1494,1356.6 1495,1356.5 1496,1356.8 1497,1355.8 1498,1354.1 1499,1352.3 1500,1349.8 1501,1346.5 1502,1342.2 1503,1339.1 1503.69,1338.8 1504,1339.4 1505,1342.0 1506,1346.3 1507,1350.2 1508,1352.3 1509,1353.7 1510,1355.2 1511,1357.0 1512,1358.3 1513,1358.6 1514,1358.4 1515,1357.7 1516,1356.7 1517,1356.9 1518,1358.1 1519,1357.9 1520,1357.3 1521,1357.8 1522,1357.6 1523,1357.6 1524,1357.8 1525,1357.8 1526,1358.6 1527,1358.8 1528,1357.6 1529,1357.2 1530,1358.1 1531,1359.3 1532,1359.6 1533,1358.7 1534,1358.4 1535,1358.5 1536,1357.9 1537,1357.5 1538,1358.3 1539,1359.2 1540,1358.2 1541,1357.2 1542,1357.4 1543,1357.5 1544,1357.8 1545,1358.0 1546,1357.6 1547,1358.3 1548,1359.7 1549,1359.3 1550,1357.5 1551,1356.5 1552,1357.2 1553,1357.7 1554,1357.7 1555,1357.7 1556,1358.0 1557,1358.6 1558,1358.4 1559,1358.8 1560,1359.4 1561,1358.4 1562,1357.2 1563,1357.3 1564,1358.2 1565,1359.0 1566,1358.9 1567,1357.8 1568,1357.4 1569,1358.1 1570,1358.3 1571,1357.5 1572,1357.6 1573,1358.2 1574,1357.4 1575,1356.5 1576,1356.9 1577,1357.5 1578,1357.1 1579,1357.4 1580,1356.9 1581,1355.4 1582,1355.4 1582.85,1355.0 1583,1354.7 1584,1356.2 1585,1357.0 1586,1357.5 1587,1357.9 1588,1358.0 1589,1358.2 1590,1358.2 1591,1357.6 1592,1357.7 1593,1358.4 1594,1358.2 1595,1357.6 1596,1357.8 1597,1358.5 1598,1359.4 1599,1358.8 1600,1357.7 1601,1357.9 1602,1358.1 1603,1358.2 1604,1358.6 1605,1358.0 1606,1357.5 1607,1357.7 1608,1357.8 1609,1357.8 1610,1358.2 1611,1359.4 1612,1359.4 1613,1358.6 1614,1358.4 1615,1357.5 1616,1357.3 1617,1357.3 1618,1355.9 1619,1354.0 1620,1351.3 1621,1346.5 1622,1338.5 1623,1329.2 1624,1322.1 1624.93,1319.4 1625,1319.4 1626,1323.6 1627,1331.4 1628,1338.6 1629,1344.7 1630,1349.3 1631,1351.8 1632,1354.0 1633,1355.3 1634,1354.3 1635,1352.4 1636,1350.5 1637,1347.3 1638,1344.4 1638.96,1343.8 1639,1344.7 1640,1347.0 1641,1349.4 1642,1351.4 1643,1353.5 1644,1355.0 1645,1355.4 1646,1354.8 1647,1355.4 1648,1356.7 1649,1356.9 1650,1356.7 1651,1356.6 1652,1356.8 1653,1355.8 1654,1353.1 1655,1349.7 1656,1343.5 1657,1333.6 1658,1322.2 1659,1310.6 1660,1302.3 1660.34,1301.0 1661,1303.1 1662,1312.4 1663,1324.0 1664,1335.3 1665,1344.5 1666,1350.9 1667,1354.6 1668,1355.9 1669,1356.4 1670,1356.4 1671,1357.1 1672,1357.7 1673,1357.2 1674,1357.8 1675,1358.6 1676,1357.2 1677,1356.2 1678,1357.1 1679,1358.0 1680,1358.2 1681,1358.7 1682,1359.0 1683,1358.3 1684,1357.6 1685,1356.7 1686,1356.3 1687,1356.3 1688,1355.3 1689,1353.0 1690,1349.4 1691,1345.1 1692,1338.9 1693,1331.8 1694,1327.7 1694.40,1326.3 1695,1325.7 1696,1332.2 1697,1341.0 1698,1347.0 1699,1350.5 1700,1352.7 1701,1354.9 1702,1357.0 1703,1358.0 1704,1358.0 1705,1358.4 1706,1358.3 1707,1358.0 1708,1358.5 1709,1358.9 1710,1358.8 1711,1358.6 1712,1358.6 1713,1358.7 1714,1358.8 1715,1359.3 1716,1359.3 1717,1358.6 1718,1358.4 1719,1358.5 1720,1358.1 1721,1357.5 1722,1357.4 1723,1358.3 1724,1358.9 1725,1358.5 1726,1358.0 1727,1357.7 1728,1357.8 1729,1358.5 1730,1359.2 1731,1358.8 1732,1358.1 1733,1358.3 1734,1357.5 1735,1355.5 1736,1353.9 1737,1351.6 1738,1347.9 1739,1344.9 1739.83,1344.3 1740,1344.3 1741,1346.0 1742,1349.3 1743,1352.3 1744,1354.9 1745,1356.9 1746,1357.9 1747,1357.8 1748,1358.0 1749,1359.2 1750,1360.7 1751,1360.2 1752,1358.5 1753,1359.5 1754,1360.8 1755,1360.2 1756,1359.9 1757,1359.3 1758,1358.1 1759,1358.1 1760,1358.6 1761,1359.7 1762,1359.9 1763,1358.3 1764,1357.8 1765,1358.5 1766,1358.9 1767,1359.3 1768,1359.1 1769,1358.2 1770,1358.3 1771,1359.4 1772,1359.5 1773,1358.9 1774,1358.9 1775,1358.7 1776,1358.0 1777,1357.2 1778,1357.0 1779,1357.1 1780,1356.0 1781,1353.0 1782,1348.1 1783,1342.6 1784,1337.7 1785,1334.8 1785.25,1335.3 1786,1336.8 1787,1339.8 1788,1344.8 1789,1350.0 1790,1353.1 1791,1355.5 1792,1357.5 1793,1358.4 1794,1358.9 1795,1358.4 1796,1358.0 1797,1358.3 1798,1358.2 1799,1358.5 1800,1359.0 1801,1358.2 1802,1357.5 1803,1357.5 1804,1356.5 1805,1356.0 1806,1356.8 1807,1357.3 1808,1357.3 1809,1356.9 1810,1356.3 1811,1353.7 1812,1348.9 1813,1343.5 1814,1336.6 1815,1329.0 1816,1323.8 1816.31,1322.5 1817,1323.7 1818,1330.1 1819,1337.7 1820,1345.4 1821,1352.0 1822,1355.3 1823,1357.0 1824,1358.6 1825,1358.7 1826,1357.7 1827,1357.8 1828,1359.2 1829,1360.8 1830,1361.3 1831,1359.7 1832,1358.4 1833,1358.2 1834,1357.9 1835,1358.3 1836,1359.1 1837,1358.9 1838,1358.6 1839,1359.1 1840,1359.5 1841,1358.8 1842,1358.2 1843,1358.3 1844,1358.6 1845,1358.2 1846,1357.3 1847,1357.8 1848,1358.6 1849,1359.2 1850,1359.6 1851,1359.3 1852,1358.6 1853,1358.3 1854,1358.5 1855,1358.1 1856,1356.9 1857,1355.9 1858,1354.7 1859,1352.9 1860,1352.6 1860.07,1353.4 1861,1353.5 1862,1354.8 1863,1357.0 1864,1358.1 1865,1358.0 1866,1357.6 1867,1357.6 1868,1357.6 1869,1357.5 1870,1358.2 1871,1358.8 1872,1358.2 1873,1358.5 1874,1359.5 1875,1358.8 1876,1358.5 1877,1359.5 1878,1360.1 1879,1359.6 1880,1359.0 1881,1359.6 1882,1360.1 1883,1359.6 1884,1359.5 1885,1359.6 1886,1359.1 1887,1358.7 1888,1358.4 1889,1358.2 1890,1358.0 1891,1358.4 1892,1358.9 1893,1359.0 1894,1358.7 1895,1357.9 1896,1356.7 1897,1356.2 1898,1356.0 1899,1354.4 1900,1351.7 1901,1350.5 1901.82,1351.3 1902,1351.3 1903,1351.0 1904,1352.5 1905,1355.2 1906,1356.7 1907,1357.2 1908,1358.2 1909,1359.6 1910,1360.0 1911,1359.7 1912,1359.5 1913,1359.6 1914,1358.8 1915,1357.9 1916,1359.0 1917,1359.7 1918,1359.3 1919,1359.1 1920,1358.6 1921,1357.7 1922,1358.1 1923,1360.1 1924,1360.5 1925,1359.3 1926,1358.4 1927,1358.3 1928,1359.1 1929,1359.6 1930,1359.3 1931,1359.3 1932,1360.2 1933,1360.3 1934,1360.4 1935,1361.2 1936,1360.3 1937,1358.7 1938,1358.1 1939,1358.1 1940,1358.4 1941,1359.0 1942,1360.0 1943,1360.4 1944,1360.1 1945,1359.3 1946,1357.5 1947,1356.6 1948,1357.2 1949,1357.2 1950,1355.8 1951,1353.2 1952,1349.5 1953,1345.1 1954,1341.9 1954.59,1341.9 1955,1343.2 1956,1346.4 1957,1350.1 1958,1352.7 1959,1353.7 1960,1354.7 1961,1356.1 1962,1357.3 1963,1357.6 1964,1357.7 1965,1357.8 1966,1357.6 1967,1357.9 1968,1358.3 1969,1357.6 1970,1356.9 1971,1356.4 1972,1355.0 1973,1353.7 1974,1353.1 1974.30,1353.1 1975,1353.0 1976,1353.5 1977,1354.8 1978,1355.9 1979,1357.7 1980,1359.8 1981,1359.9 1982,1359.6 1983,1359.4 1984,1358.9 1985,1358.6 1986,1359.0 1987,1359.0 1988,1358.5 1989,1358.7 1990,1358.8 1991,1358.8 1992,1358.7 1993,1358.2 1994,1357.8 1995,1358.1 1996,1359.3 1997,1359.7 1998,1359.2 1999,1359.5 2000,1359.8 2001,1358.9 2002,1358.3 2003,1358.8 2004,1359.2 2005,1359.4 2006,1359.0 2007,1358.3 2008,1359.2 2009,1360.6 2010,1361.1 2011,1360.0 2012,1358.8 2013,1358.8 2014,1359.8 2015,1360.0 2016,1359.0 2017,1359.3 2018,1359.8 2019,1358.6 2020,1357.9 2021,1358.0 2022,1358.7 2023,1359.1 2024,1358.4 2025,1358.3 2026,1358.4 2027,1357.7 2028,1357.2 2029,1356.6 2030,1355.4 2031,1352.5 2032,1347.9 2033,1343.0 2034,1339.0 2035,1337.7 2035.08,1337.5 2036,1339.0 2037,1344.1 2038,1348.7 2039,1351.8 2040,1354.5 2041,1356.3 2042,1357.4 2043,1358.6 2044,1359.0 2045,1358.4 2046,1357.9 2047,1358.5 2048,1359.6 2049,1360.4 2050,1361.1 2051,1360.4 2052,1359.4 2053,1359.0 2054,1359.0 2055,1359.4 2056,1359.4 2057,1359.1 2058,1359.0 2059,1359.2 2060,1359.5 2061,1360.1 2062,1359.6 2063,1358.6 2064,1358.8 2065,1359.2 2066,1358.9 2067,1358.4 2068,1358.5 2069,1358.3 2070,1357.6 2071,1356.5 2072,1355.1 2073,1352.9 2074,1349.7 2075,1347.1 2075.83,1346.7 2076,1346.3 2077,1346.4 2078,1349.0 2079,1353.1 2080,1355.6 2081,1356.7 2082,1357.8 2083,1358.4 2084,1358.6 2085,1358.7 2086,1359.0 2087,1360.1 2088,1360.4 2089,1359.1 2090,1358.2 2091,1359.2 2092,1359.7 2093,1359.6 2094,1359.5 2095,1359.1 2096,1359.2 2097,1359.7 2098,1360.0 2099,1360.6 2100,1360.1 2101,1358.7 2102,1358.6 2103,1359.5 2104,1359.5 2105,1358.5 2106,1358.5 2107,1359.2 2108,1359.3 2109,1359.6 2110,1360.5 2111,1360.6 2112,1360.0 2113,1359.4 2114,1359.3 2115,1358.7 2116,1357.7 2117,1358.1 2118,1358.7 2119,1358.8 2120,1358.4 2121,1358.0 2122,1358.5 2123,1358.4 2124,1358.1 2125,1358.3 2126,1357.8 2127,1357.3 2128,1356.1 2129,1353.9 2130,1350.2 2131,1344.8 2132,1339.6 2133,1336.9 2133.28,1336.7 2134,1337.8 2135,1342.5 2136,1347.0 2137,1351.3 2138,1355.7 2139,1358.3 2140,1358.9 2141,1358.5 2142,1358.6 2143,1358.5 2144,1357.7 2145,1358.5 2146,1359.7 2147,1359.4 2148,1358.7 2149,1358.3 2150,1358.6 2151,1359.5 2152,1358.9 2153,1357.3 2154,1356.9 2155,1357.3 2156,1357.3 2157,1356.2 2158,1354.3 2159,1351.1 2160,1346.3 2161,1340.1 2162,1334.7 2163,1332.1 2163.34,1331.0 2164,1330.6 2165,1335.5 2166,1341.6 2167,1347.4 2168,1352.7 2169,1356.1 2170,1357.2 2171,1357.6 2172,1358.2 2173,1358.5 2174,1358.9 2175,1359.3 2176,1358.6 2177,1357.1 2178,1356.5 2179,1356.4 2180,1354.6 2181,1351.4 2182,1346.9 2183,1342.0 2184,1338.6 2185,1337.3 2185.05,1337.4 2186,1338.8 2187,1343.5 2188,1348.7 2189,1352.2 2190,1354.7 2191,1356.8 2192,1358.0 2193,1358.6 2194,1358.7 2195,1358.0 2196,1358.4 2197,1360.0 2198,1360.5 2199,1359.3 2200,1358.2 2201,1358.5 2202,1358.7 2203,1359.2 2204,1360.2 2205,1360.5 2206,1359.7 2207,1358.8 2208,1358.6 2209,1359.1 2210,1359.8 2211,1361.1 2212,1362.0 2213,1360.8 2214,1359.8 2215,1360.0 2216,1359.3 2217,1358.1 2218,1357.5 2219,1357.7 2219.12,1358.1 2220,1358.4 2221,1358.8 2222,1358.5 2223,1358.1 2224,1358.7 2225,1359.2 2226,1359.3 2227,1359.4 2228,1359.3 2229,1359.2 2230,1359.5 2231,1359.7 2232,1360.0 2233,1359.9 2234,1358.8 2235,1358.2 2236,1359.1 2237,1360.0 2238,1359.6 2239,1359.6 2240,1359.7 2241,1359.2 2242,1359.6 2243,1359.8 2244,1359.2 2245,1359.8 2246,1359.8 2247,1359.1 2248,1359.3 2249,1359.3 2250,1359.8 2251,1360.3 2252,1360.3 2253,1360.8 2254,1360.8 2255,1360.1 2256,1359.1 2257,1358.5 2258,1359.5 2259,1360.4 2260,1360.0 2261,1360.3 2262,1361.0 2263,1359.9 2264,1359.1 2265,1359.9 2266,1360.2 2267,1358.9 2268,1357.8 2269,1358.7 2270,1359.8 2271,1360.4 2272,1360.5 2273,1359.6 2274,1359.1 2275,1359.7 2276,1360.5 2277,1360.4 2278,1359.9 2279,1360.3 2280,1360.8 2281,1361.0 2282,1360.7 2283,1359.8 2284,1359.2 2285,1359.1 2286,1359.3 2287,1359.9 2288,1359.6 2289,1358.8 2290,1359.0 2291,1359.4 2292,1359.3 2293,1359.0 2294,1358.0 2295,1355.6 2296,1352.5 2297,1349.3 2298,1346.9 2299,1345.1 2299.61,1344.9 2300,1345.4 2301,1347.6 2302,1350.1 2303,1351.7 2304,1354.7 2305,1357.2 2306,1357.3 2307,1358.2 2308,1360.2 2309,1361.1 2310,1360.8 2311,1360.1 2312,1359.9 2313,1359.8 2314,1359.8 2315,1360.4 2316,1360.3 2317,1360.0 2318,1359.6 2319,1358.9 2320,1359.0 2321,1359.8 2322,1359.7 2323,1360.0 2324,1360.9 2325,1361.2 2326,1360.4"/>
<g stroke="#000" stroke-width="10.0" stroke-linecap="round">
<line x1="363.7" y1="1580.0" x2="363.7" y2="1395.7"/>
<line x1="748.2" y1="1580.0" x2="748.2" y2="1543.0"/>
<line x1="789.3" y1="1580.0" x2="789.3" y2="1536.0"/>
<line x1="956.3" y1="1580.0" x2="956.3" y2="1427.0"/>
<line x1="1061.5" y1="1580.0" x2="1061.5" y2="1532.0"/>
<line x1="1137.6" y1="1580.0" x2="1137.6" y2="1530.5"/>
<line x1="1228.8" y1="1580.0" x2="1228.8" y2="1544.0"/>
<line x1="1255.9" y1="1580.0" x2="1255.9" y2="1486.0"/>
<line x1="1281.9" y1="1580.0" x2="1281.9" y2="1541.0"/>
<line x1="1397.5" y1="1580.0" x2="1397.5" y2="1539.5"/>
<line x1="1534.4" y1="1580.0" x2="1534.4" y2="1508.4"/>
<line x1="1577.8" y1="1580.0" x2="1577.8" y2="1508.4"/>
<line x1="1606.6" y1="1580.0" x2="1606.6" y2="1536.6"/>
<line x1="1626.6" y1="1580.0" x2="1626.6" y2="1541.0"/>
<line x1="1887.8" y1="1580.0" x2="1887.8" y2="1518.0"/>
<line x1="1936.2" y1="1580.0" x2="1936.2" y2="1526.0"/>
<line x1="1944.6" y1="1580.0" x2="1944.6" y2="1526.0"/>
<line x1="1960.6" y1="1580.0" x2="1960.6" y2="1528.0"/>
<line x1="1993.0" y1="1580.0" x2="1993.0" y2="1538.0"/>
<line x1="2069.8" y1="1580.0" x2="2069.8" y2="1515.0"/>
<line x1="2076.5" y1="1580.0" x2="2076.5" y2="1515.0"/>
<line x1="2110.6" y1="1580.0" x2="2110.6" y2="1539.5"/>
<line x1="2224.5" y1="1580.0" x2="2224.5" y2="1535.0"/>
<line x1="2251.2" y1="1580.0" x2="2251.2" y2="1537.0"/>
<line x1="2277.9" y1="1580.0" x2="2277.9" y2="1531.0"/>
<line x1="398.8" y1="1799.0" x2="398.8" y2="1653.7"/>
<line x1="509.7" y1="1799.0" x2="509.7" y2="1743.8"/>
<line x1="601.9" y1="1799.0" x2="601.9" y2="1615.6"/>
<line x1="817.7" y1="1799.0" x2="817.7" y2="1719.2"/>
<line x1="840.4" y1="1799.0" x2="840.4" y2="1748.0"/>
<line x1="992.0" y1="1799.0" x2="992.0" y2="1702.8"/>
<line x1="1044.4" y1="1799.0" x2="1044.4" y2="1711.8"/>
<line x1="1076.8" y1="1799.0" x2="1076.8" y2="1755.2"/>
<line x1="1092.5" y1="1799.0" x2="1092.5" y2="1693.0"/>
<line x1="1171.0" y1="1799.0" x2="1171.0" y2="1726.3"/>
<line x1="1216.1" y1="1799.0" x2="1216.1" y2="1653.0"/>
<line x1="1246.8" y1="1799.0" x2="1246.8" y2="1748.0"/>
<line x1="1304.0" y1="1799.0" x2="1304.0" y2="1674.6"/>
<line x1="1437.6" y1="1799.0" x2="1437.6" y2="1711.8"/>
<line x1="1475.6" y1="1799.0" x2="1475.6" y2="1741.4"/>
<line x1="1499.0" y1="1799.0" x2="1499.0" y2="1734.2"/>
<line x1="1621.3" y1="1799.0" x2="1621.3" y2="1702.8"/>
<line x1="1658.0" y1="1799.0" x2="1658.0" y2="1710.0"/>
<line x1="1691.7" y1="1799.0" x2="1691.7" y2="1729.9"/>
<line x1="1736.5" y1="1799.0" x2="1736.5" y2="1750.5"/>
<line x1="1780.6" y1="1799.0" x2="1780.6" y2="1755.5"/>
</g>
<g stroke="#000" fill="none">
<rect x="156" y="46" width="2170" height="1753" stroke-width="12"/>
<line x1="156" y1="1799" x2="156" y2="1816" stroke-width="12"/>
<line x1="2326" y1="1799" x2="2326" y2="1816" stroke-width="12"/>
<line x1="156" y1="1580" x2="2326" y2="1580" stroke-width="10"/>
<line x1="323.0" y1="1800" x2="323.0" y2="1810" stroke-width="10" stroke-linecap="round"/>
<line x1="490.0" y1="1800" x2="490.0" y2="1810" stroke-width="10" stroke-linecap="round"/>
<line x1="657.0" y1="1800" x2="657.0" y2="1810" stroke-width="10" stroke-linecap="round"/>
<line x1="824.0" y1="1800" x2="824.0" y2="1810" stroke-width="10" stroke-linecap="round"/>
<line x1="991.0" y1="1800" x2="991.0" y2="1810" stroke-width="10" stroke-linecap="round"/>
<line x1="1158.0" y1="1800" x2="1158.0" y2="1810" stroke-width="10" stroke-linecap="round"/>
<line x1="1325.0" y1="1800" x2="1325.0" y2="1810" stroke-width="10" stroke-linecap="round"/>
<line x1="1492.0" y1="1800" x2="1492.0" y2="1810" stroke-width="10" stroke-linecap="round"/>
<line x1="1659.0" y1="1800" x2="1659.0" y2="1810" stroke-width="10" stroke-linecap="round"/>
<line x1="1826.0" y1="1800" x2="1826.0" y2="1810" stroke-width="10" stroke-linecap="round"/>
<line x1="1993.0" y1="1800" x2="1993.0" y2="1810" stroke-width="10" stroke-linecap="round"/>
<line x1="2160.0" y1="1800" x2="2160.0" y2="1810" stroke-width="10" stroke-linecap="round"/>
</g>
<text class="t" transform="translate(322.0,1891.5) scale(0.96,1)" font-size="82" text-anchor="middle">10</text>
<text class="t" transform="translate(656.0,1891.5) scale(0.96,1)" font-size="82" text-anchor="middle">20</text>
<text class="t" transform="translate(990.0,1891.5) scale(0.96,1)" font-size="82" text-anchor="middle">30</text>
<text class="t" transform="translate(1324.0,1891.5) scale(0.96,1)" font-size="82" text-anchor="middle">40</text>
<text class="t" transform="translate(1658.0,1891.5) scale(0.96,1)" font-size="82" text-anchor="middle">50</text>
<text class="t" transform="translate(1992.0,1891.5) scale(0.96,1)" font-size="82" text-anchor="middle">60</text>
<text class="t" transform="translate(2326.0,1891.5) scale(0.96,1)" font-size="82" text-anchor="middle">70</text>
<text class="t" x="1023" y="1975.5" font-size="87">2θ (degree)</text>
<text class="t" transform="translate(105,1215) rotate(-90)" x="0" y="0" font-size="88">Intensity (a.u.)</text>
<text class="t" x="173.5" y="192.0" font-size="85">(a1)</text>
<text class="t" x="170.4" y="415.8" font-size="85">(a2)</text>
<text class="t" x="173.8" y="642.3" font-size="85">(a3)</text>
<text class="t" x="171.8" y="844.3" font-size="85">(b1)</text>
<text class="t" x="172.2" y="1056.3" font-size="85">(b2)</text>
<text class="t" x="172.2" y="1272.9" font-size="85">(b3)</text>
<text class="g" transform="translate(2061.4,199.4) scale(1.265,1)" font-size="87">α</text>
<text class="t" transform="translate(2117.2,199.4) scale(0.96,1)" font-size="80">=0.5</text>
<text class="g" transform="translate(2063.5,426.9) scale(1.265,1)" font-size="87">α</text>
<text class="t" transform="translate(2119.3,426.9) scale(0.96,1)" font-size="80">=2</text>
<text class="g" transform="translate(2061.8,644.4) scale(1.265,1)" font-size="87">α</text>
<text class="t" transform="translate(2117.6,644.4) scale(0.96,1)" font-size="80">=6</text>
<text class="g" transform="translate(2056.4,853.0) scale(1.265,1)" font-size="87">α</text>
<text class="t" transform="translate(2112.2,853.0) scale(0.96,1)" font-size="80">=0.5</text>
<text class="g" transform="translate(2061.8,1061.9) scale(1.265,1)" font-size="87">α</text>
<text class="t" transform="translate(2117.6,1061.9) scale(0.96,1)" font-size="80">=2</text>
<text class="g" transform="translate(2056.4,1278.0) scale(1.265,1)" font-size="87">α</text>
<text class="t" transform="translate(2112.2,1278.0) scale(0.96,1)" font-size="80">=6</text>
<text class="t" transform="translate(332.0,1560.0) rotate(-90)" font-size="60">(020)</text>
<text class="t" transform="translate(925.0,1560.0) rotate(-90)" font-size="60">(130)</text>
<text class="t" transform="translate(365.0,1777.0) rotate(-90)" font-size="60">(101)</text>
<text class="t" transform="translate(573.0,1779.0) rotate(-90)" font-size="60">(102)</text>
<text class="t" x="1480" y="1470" font-size="61">PDF#35-0046(K<tspan font-size="33" dy="19">0.8</tspan><tspan dy="-19">Mg</tspan><tspan font-size="33" dy="19">0.4</tspan><tspan dy="-19">Ti</tspan><tspan font-size="33" dy="19">1.6</tspan><tspan dy="-19">O</tspan><tspan font-size="33" dy="19">4</tspan><tspan dy="-19">)</tspan></text>
<text class="t" x="1405.5" y="1667" font-size="61">PDF#42-0127(Na<tspan font-size="33" dy="19">0.9</tspan><tspan dy="-19">Mg</tspan><tspan font-size="33" dy="19">0.45</tspan><tspan dy="-19">Ti</tspan><tspan font-size="33" dy="19">1.55</tspan><tspan dy="-19">O</tspan><tspan font-size="33" dy="19">4</tspan><tspan dy="-19">)</tspan></text>
</svg>
</body></html>
